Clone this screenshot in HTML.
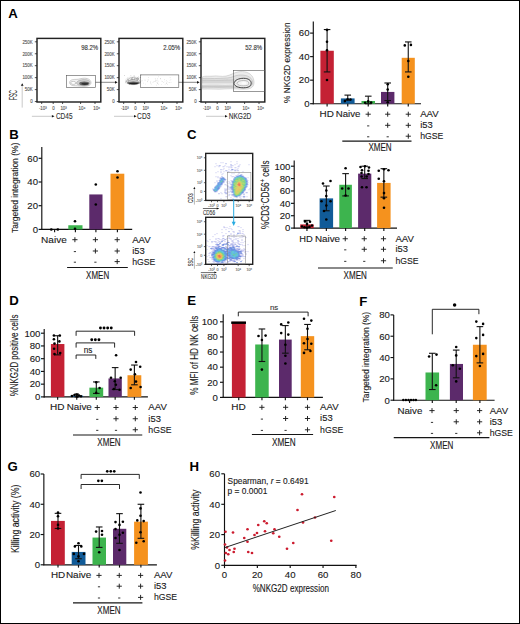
<!DOCTYPE html>
<html><head><meta charset="utf-8"><style>
html,body{margin:0;padding:0;background:#fff;}
#fig{position:relative;width:520px;height:624px;overflow:hidden;background:#fff;}
#fig svg{position:absolute;left:0;top:0;}
#frame{position:absolute;left:0;top:0;width:518px;height:622px;border:1px solid #000;}
text{font-family:"Liberation Sans", sans-serif;}
</style></head><body>
<div id="fig">
<svg width="520" height="624" viewBox="0 0 520 624" font-family='"Liberation Sans", sans-serif'>
<text x="8.20" y="18.40" font-size="13.2" font-weight="bold" fill="#000">A</text>
<rect x="37.00" y="38.40" width="63.80" height="63.60" fill="#fff" stroke="#222" stroke-width="1.45"/>
<line x1="34.80" y1="41.80" x2="37.00" y2="41.80" stroke="#222" stroke-width="0.8"/>
<text transform="translate(32.70 43.55) scale(0.9000 1)" text-anchor="end" font-size="4.9" fill="#555" stroke="#555" stroke-width="0.12">250K</text>
<line x1="34.80" y1="53.75" x2="37.00" y2="53.75" stroke="#222" stroke-width="0.8"/>
<text transform="translate(32.70 55.50) scale(0.9000 1)" text-anchor="end" font-size="4.9" fill="#555" stroke="#555" stroke-width="0.12">200K</text>
<line x1="34.80" y1="65.70" x2="37.00" y2="65.70" stroke="#222" stroke-width="0.8"/>
<text transform="translate(32.70 67.45) scale(0.9000 1)" text-anchor="end" font-size="4.9" fill="#555" stroke="#555" stroke-width="0.12">150K</text>
<line x1="34.80" y1="77.65" x2="37.00" y2="77.65" stroke="#222" stroke-width="0.8"/>
<text transform="translate(32.70 79.40) scale(0.9000 1)" text-anchor="end" font-size="4.9" fill="#555" stroke="#555" stroke-width="0.12">100K</text>
<line x1="34.80" y1="89.60" x2="37.00" y2="89.60" stroke="#222" stroke-width="0.8"/>
<text transform="translate(32.70 91.35) scale(0.9000 1)" text-anchor="end" font-size="4.9" fill="#555" stroke="#555" stroke-width="0.12">50K</text>
<line x1="34.80" y1="101.55" x2="37.00" y2="101.55" stroke="#222" stroke-width="0.8"/>
<text transform="translate(32.70 103.30) scale(0.9000 1)" text-anchor="end" font-size="4.9" fill="#555" stroke="#555" stroke-width="0.12">0</text>
<line x1="41.70" y1="102.00" x2="41.70" y2="104.00" stroke="#222" stroke-width="0.8"/>
<text transform="translate(42.80 109.90) scale(0.9000 1)" text-anchor="middle" font-size="4.9" fill="#555" stroke="#555" stroke-width="0.12">-10³</text>
<line x1="53.20" y1="102.00" x2="53.20" y2="104.00" stroke="#222" stroke-width="0.8"/>
<text transform="translate(53.40 109.90) scale(0.9000 1)" text-anchor="middle" font-size="4.9" fill="#555" stroke="#555" stroke-width="0.12">0</text>
<line x1="62.60" y1="102.00" x2="62.60" y2="104.00" stroke="#222" stroke-width="0.8"/>
<text transform="translate(63.60 109.90) scale(0.9000 1)" text-anchor="middle" font-size="4.9" fill="#555" stroke="#555" stroke-width="0.12">10³</text>
<line x1="80.60" y1="102.00" x2="80.60" y2="104.00" stroke="#222" stroke-width="0.8"/>
<text transform="translate(82.00 109.90) scale(0.9000 1)" text-anchor="middle" font-size="4.9" fill="#555" stroke="#555" stroke-width="0.12">10⁴</text>
<line x1="95.00" y1="102.00" x2="95.00" y2="104.00" stroke="#222" stroke-width="0.8"/>
<text transform="translate(96.60 109.90) scale(0.9000 1)" text-anchor="middle" font-size="4.9" fill="#555" stroke="#555" stroke-width="0.12">10⁵</text>
<text transform="translate(98.20 50.10) scale(0.8102 1)" text-anchor="end" font-size="7.4" fill="#333" stroke="#333" stroke-width="0.12">98.2%</text>
<rect x="119.00" y="38.40" width="63.80" height="63.60" fill="#fff" stroke="#222" stroke-width="1.45"/>
<line x1="116.80" y1="41.80" x2="119.00" y2="41.80" stroke="#222" stroke-width="0.8"/>
<text transform="translate(114.70 43.55) scale(0.9000 1)" text-anchor="end" font-size="4.9" fill="#555" stroke="#555" stroke-width="0.12">250K</text>
<line x1="116.80" y1="53.75" x2="119.00" y2="53.75" stroke="#222" stroke-width="0.8"/>
<text transform="translate(114.70 55.50) scale(0.9000 1)" text-anchor="end" font-size="4.9" fill="#555" stroke="#555" stroke-width="0.12">200K</text>
<line x1="116.80" y1="65.70" x2="119.00" y2="65.70" stroke="#222" stroke-width="0.8"/>
<text transform="translate(114.70 67.45) scale(0.9000 1)" text-anchor="end" font-size="4.9" fill="#555" stroke="#555" stroke-width="0.12">150K</text>
<line x1="116.80" y1="77.65" x2="119.00" y2="77.65" stroke="#222" stroke-width="0.8"/>
<text transform="translate(114.70 79.40) scale(0.9000 1)" text-anchor="end" font-size="4.9" fill="#555" stroke="#555" stroke-width="0.12">100K</text>
<line x1="116.80" y1="89.60" x2="119.00" y2="89.60" stroke="#222" stroke-width="0.8"/>
<text transform="translate(114.70 91.35) scale(0.9000 1)" text-anchor="end" font-size="4.9" fill="#555" stroke="#555" stroke-width="0.12">50K</text>
<line x1="116.80" y1="101.55" x2="119.00" y2="101.55" stroke="#222" stroke-width="0.8"/>
<text transform="translate(114.70 103.30) scale(0.9000 1)" text-anchor="end" font-size="4.9" fill="#555" stroke="#555" stroke-width="0.12">0</text>
<line x1="123.70" y1="102.00" x2="123.70" y2="104.00" stroke="#222" stroke-width="0.8"/>
<text transform="translate(124.80 109.90) scale(0.9000 1)" text-anchor="middle" font-size="4.9" fill="#555" stroke="#555" stroke-width="0.12">-10³</text>
<line x1="135.20" y1="102.00" x2="135.20" y2="104.00" stroke="#222" stroke-width="0.8"/>
<text transform="translate(135.40 109.90) scale(0.9000 1)" text-anchor="middle" font-size="4.9" fill="#555" stroke="#555" stroke-width="0.12">0</text>
<line x1="144.60" y1="102.00" x2="144.60" y2="104.00" stroke="#222" stroke-width="0.8"/>
<text transform="translate(145.60 109.90) scale(0.9000 1)" text-anchor="middle" font-size="4.9" fill="#555" stroke="#555" stroke-width="0.12">10³</text>
<line x1="162.60" y1="102.00" x2="162.60" y2="104.00" stroke="#222" stroke-width="0.8"/>
<text transform="translate(164.00 109.90) scale(0.9000 1)" text-anchor="middle" font-size="4.9" fill="#555" stroke="#555" stroke-width="0.12">10⁴</text>
<line x1="177.00" y1="102.00" x2="177.00" y2="104.00" stroke="#222" stroke-width="0.8"/>
<text transform="translate(178.60 109.90) scale(0.9000 1)" text-anchor="middle" font-size="4.9" fill="#555" stroke="#555" stroke-width="0.12">10⁵</text>
<text transform="translate(180.20 50.10) scale(0.8102 1)" text-anchor="end" font-size="7.4" fill="#333" stroke="#333" stroke-width="0.12">2.05%</text>
<rect x="201.00" y="38.40" width="63.80" height="63.60" fill="#fff" stroke="#222" stroke-width="1.45"/>
<line x1="198.80" y1="41.80" x2="201.00" y2="41.80" stroke="#222" stroke-width="0.8"/>
<text transform="translate(196.70 43.55) scale(0.9000 1)" text-anchor="end" font-size="4.9" fill="#555" stroke="#555" stroke-width="0.12">250K</text>
<line x1="198.80" y1="53.75" x2="201.00" y2="53.75" stroke="#222" stroke-width="0.8"/>
<text transform="translate(196.70 55.50) scale(0.9000 1)" text-anchor="end" font-size="4.9" fill="#555" stroke="#555" stroke-width="0.12">200K</text>
<line x1="198.80" y1="65.70" x2="201.00" y2="65.70" stroke="#222" stroke-width="0.8"/>
<text transform="translate(196.70 67.45) scale(0.9000 1)" text-anchor="end" font-size="4.9" fill="#555" stroke="#555" stroke-width="0.12">150K</text>
<line x1="198.80" y1="77.65" x2="201.00" y2="77.65" stroke="#222" stroke-width="0.8"/>
<text transform="translate(196.70 79.40) scale(0.9000 1)" text-anchor="end" font-size="4.9" fill="#555" stroke="#555" stroke-width="0.12">100K</text>
<line x1="198.80" y1="89.60" x2="201.00" y2="89.60" stroke="#222" stroke-width="0.8"/>
<text transform="translate(196.70 91.35) scale(0.9000 1)" text-anchor="end" font-size="4.9" fill="#555" stroke="#555" stroke-width="0.12">50K</text>
<line x1="198.80" y1="101.55" x2="201.00" y2="101.55" stroke="#222" stroke-width="0.8"/>
<text transform="translate(196.70 103.30) scale(0.9000 1)" text-anchor="end" font-size="4.9" fill="#555" stroke="#555" stroke-width="0.12">0</text>
<line x1="205.70" y1="102.00" x2="205.70" y2="104.00" stroke="#222" stroke-width="0.8"/>
<text transform="translate(206.80 109.90) scale(0.9000 1)" text-anchor="middle" font-size="4.9" fill="#555" stroke="#555" stroke-width="0.12">-10³</text>
<line x1="217.20" y1="102.00" x2="217.20" y2="104.00" stroke="#222" stroke-width="0.8"/>
<text transform="translate(217.40 109.90) scale(0.9000 1)" text-anchor="middle" font-size="4.9" fill="#555" stroke="#555" stroke-width="0.12">0</text>
<line x1="226.60" y1="102.00" x2="226.60" y2="104.00" stroke="#222" stroke-width="0.8"/>
<text transform="translate(227.60 109.90) scale(0.9000 1)" text-anchor="middle" font-size="4.9" fill="#555" stroke="#555" stroke-width="0.12">10³</text>
<line x1="244.60" y1="102.00" x2="244.60" y2="104.00" stroke="#222" stroke-width="0.8"/>
<text transform="translate(246.00 109.90) scale(0.9000 1)" text-anchor="middle" font-size="4.9" fill="#555" stroke="#555" stroke-width="0.12">10⁴</text>
<line x1="259.00" y1="102.00" x2="259.00" y2="104.00" stroke="#222" stroke-width="0.8"/>
<text transform="translate(260.60 109.90) scale(0.9000 1)" text-anchor="middle" font-size="4.9" fill="#555" stroke="#555" stroke-width="0.12">10⁵</text>
<text transform="translate(262.20 50.10) scale(0.8102 1)" text-anchor="end" font-size="7.4" fill="#333" stroke="#333" stroke-width="0.12">52.8%</text>
<g>
<path d="M69.6,82.6 C69.6,80.2 72.5,79.2 76,79.4 C79,79.5 81,78.2 84.5,78.2 C88.5,78.2 91,80.4 91,82.6 C91,85 88.5,86.3 84,86.3 C80,86.3 78,85.8 75.5,85.8 C72,85.8 69.6,84.8 69.6,82.6 Z" fill="#f2f2f2" stroke="#a0a0a0" stroke-width="0.5"/>
<path d="M76.5,83 C77,80.8 80.5,79.6 84.5,79.6 C88,79.6 90,81 90,82.8 C90,84.6 88,85.6 84.5,85.6 C80.5,85.6 76.8,85 76.5,83 Z" fill="#cfcfcf" stroke="#8a8a8a" stroke-width="0.4"/>
<ellipse cx="73.3" cy="82.9" rx="2.6" ry="1.5" fill="#fff" stroke="#999" stroke-width="0.5"/>
<g filter="url(#bl2)"><ellipse cx="84.2" cy="83.5" rx="5.0" ry="1.9" fill="#6a6a6a"/>
<ellipse cx="84.8" cy="83.8" rx="3.4" ry="1.1" fill="#333"/></g>
</g>
<ellipse cx="133" cy="80.8" rx="8.2" ry="4.6" fill="#f3f3f3"/>
<circle cx="133.4" cy="83.4" r="0.45" fill="#aaa"/>
<circle cx="137.1" cy="79.2" r="0.45" fill="#777"/>
<circle cx="133.6" cy="80.6" r="0.45" fill="#bbb"/>
<circle cx="132.8" cy="82.2" r="0.45" fill="#bbb"/>
<circle cx="127.9" cy="79.8" r="0.45" fill="#bbb"/>
<circle cx="131.5" cy="79.5" r="0.45" fill="#999"/>
<circle cx="136.5" cy="78.4" r="0.45" fill="#888"/>
<circle cx="132.3" cy="79.8" r="0.45" fill="#777"/>
<circle cx="140.0" cy="81.6" r="0.45" fill="#aaa"/>
<circle cx="126.4" cy="81.1" r="0.45" fill="#bbb"/>
<circle cx="130.9" cy="75.4" r="0.45" fill="#bbb"/>
<circle cx="132.2" cy="77.5" r="0.45" fill="#999"/>
<circle cx="134.4" cy="79.8" r="0.45" fill="#999"/>
<circle cx="129.8" cy="80.6" r="0.45" fill="#bbb"/>
<circle cx="134.5" cy="76.1" r="0.45" fill="#bbb"/>
<circle cx="128.9" cy="80.4" r="0.45" fill="#aaa"/>
<circle cx="128.8" cy="80.0" r="0.45" fill="#999"/>
<circle cx="138.2" cy="78.5" r="0.45" fill="#888"/>
<circle cx="141.0" cy="75.0" r="0.45" fill="#999"/>
<circle cx="131.8" cy="78.6" r="0.45" fill="#777"/>
<circle cx="137.5" cy="78.8" r="0.45" fill="#999"/>
<circle cx="124.6" cy="75.4" r="0.45" fill="#aaa"/>
<circle cx="132.7" cy="81.3" r="0.45" fill="#bbb"/>
<circle cx="139.4" cy="82.7" r="0.45" fill="#bbb"/>
<circle cx="133.7" cy="80.2" r="0.45" fill="#bbb"/>
<circle cx="134.0" cy="75.9" r="0.45" fill="#888"/>
<circle cx="127.4" cy="78.1" r="0.45" fill="#bbb"/>
<circle cx="132.3" cy="78.5" r="0.45" fill="#aaa"/>
<circle cx="132.4" cy="81.4" r="0.45" fill="#777"/>
<circle cx="136.4" cy="80.2" r="0.45" fill="#aaa"/>
<circle cx="133.7" cy="81.1" r="0.45" fill="#aaa"/>
<circle cx="136.3" cy="79.1" r="0.45" fill="#bbb"/>
<circle cx="135.8" cy="78.8" r="0.45" fill="#777"/>
<circle cx="132.2" cy="79.5" r="0.45" fill="#777"/>
<circle cx="132.2" cy="83.7" r="0.45" fill="#999"/>
<circle cx="137.2" cy="79.5" r="0.45" fill="#aaa"/>
<circle cx="127.8" cy="80.1" r="0.45" fill="#888"/>
<circle cx="131.4" cy="82.6" r="0.45" fill="#777"/>
<circle cx="132.0" cy="79.9" r="0.45" fill="#aaa"/>
<circle cx="126.8" cy="81.2" r="0.45" fill="#aaa"/>
<circle cx="130.4" cy="79.3" r="0.45" fill="#bbb"/>
<circle cx="134.5" cy="80.6" r="0.45" fill="#888"/>
<circle cx="136.1" cy="80.1" r="0.45" fill="#bbb"/>
<circle cx="131.3" cy="83.5" r="0.45" fill="#999"/>
<circle cx="130.6" cy="82.0" r="0.45" fill="#aaa"/>
<circle cx="134.8" cy="79.0" r="0.45" fill="#bbb"/>
<circle cx="139.1" cy="83.1" r="0.45" fill="#777"/>
<circle cx="132.1" cy="79.4" r="0.45" fill="#777"/>
<circle cx="134.3" cy="84.6" r="0.45" fill="#999"/>
<circle cx="130.0" cy="83.6" r="0.45" fill="#888"/>
<circle cx="136.0" cy="81.7" r="0.45" fill="#aaa"/>
<circle cx="131.6" cy="79.0" r="0.45" fill="#999"/>
<circle cx="139.1" cy="82.3" r="0.45" fill="#999"/>
<circle cx="136.4" cy="78.8" r="0.45" fill="#999"/>
<circle cx="133.3" cy="79.9" r="0.45" fill="#999"/>
<circle cx="129.8" cy="84.5" r="0.45" fill="#777"/>
<circle cx="134.4" cy="82.2" r="0.45" fill="#888"/>
<circle cx="134.3" cy="78.5" r="0.45" fill="#999"/>
<circle cx="128.5" cy="81.8" r="0.45" fill="#aaa"/>
<circle cx="127.2" cy="81.2" r="0.45" fill="#aaa"/>
<circle cx="129.2" cy="81.6" r="0.45" fill="#bbb"/>
<circle cx="133.2" cy="80.7" r="0.45" fill="#777"/>
<circle cx="137.5" cy="80.3" r="0.45" fill="#999"/>
<circle cx="137.5" cy="81.0" r="0.45" fill="#777"/>
<circle cx="138.1" cy="79.8" r="0.45" fill="#999"/>
<circle cx="138.4" cy="77.0" r="0.45" fill="#aaa"/>
<circle cx="135.3" cy="81.7" r="0.45" fill="#888"/>
<circle cx="138.3" cy="78.5" r="0.45" fill="#999"/>
<circle cx="140.2" cy="77.5" r="0.45" fill="#777"/>
<circle cx="137.6" cy="81.3" r="0.45" fill="#888"/>
<circle cx="134.7" cy="82.2" r="0.45" fill="#888"/>
<circle cx="128.7" cy="80.1" r="0.45" fill="#777"/>
<circle cx="134.6" cy="81.3" r="0.45" fill="#777"/>
<circle cx="125.7" cy="81.1" r="0.45" fill="#aaa"/>
<circle cx="133.4" cy="81.7" r="0.45" fill="#888"/>
<circle cx="136.5" cy="84.1" r="0.45" fill="#999"/>
<circle cx="133.2" cy="80.2" r="0.45" fill="#777"/>
<circle cx="133.9" cy="79.9" r="0.45" fill="#aaa"/>
<circle cx="133.1" cy="83.7" r="0.45" fill="#777"/>
<circle cx="128.8" cy="81.7" r="0.45" fill="#888"/>
<circle cx="137.5" cy="77.4" r="0.45" fill="#888"/>
<circle cx="134.1" cy="81.1" r="0.45" fill="#888"/>
<circle cx="134.1" cy="79.7" r="0.45" fill="#777"/>
<circle cx="130.5" cy="80.6" r="0.45" fill="#888"/>
<circle cx="129.4" cy="83.2" r="0.45" fill="#777"/>
<circle cx="131.9" cy="82.2" r="0.45" fill="#aaa"/>
<path d="M125.5,83.2 C126.5,79.6 129.5,77.4 133.2,77.4 C137,77.4 139.8,79.6 140.8,83.2" fill="none" stroke="#999" stroke-width="0.5"/>
<path d="M127,83.2 C128,80.8 130.5,79.6 133.3,79.6 C136.2,79.6 138.5,80.8 139.5,83.2" fill="#cfcfcf" stroke="#888" stroke-width="0.45"/>
<g filter="url(#bl2)"><ellipse cx="133.3" cy="83.1" rx="6.4" ry="1.6" fill="#666"/>
<ellipse cx="133.5" cy="83.5" rx="4.6" ry="0.8" fill="#222"/></g>
<circle cx="153.9" cy="81.6" r="0.35" fill="#c4c4c4"/>
<circle cx="162.7" cy="81.6" r="0.35" fill="#c4c4c4"/>
<circle cx="164.9" cy="81.0" r="0.35" fill="#c4c4c4"/>
<circle cx="154.8" cy="81.3" r="0.35" fill="#c4c4c4"/>
<circle cx="160.5" cy="78.7" r="0.35" fill="#c4c4c4"/>
<circle cx="142.3" cy="80.8" r="0.35" fill="#c4c4c4"/>
<circle cx="167.6" cy="84.2" r="0.35" fill="#c4c4c4"/>
<circle cx="163.8" cy="82.4" r="0.35" fill="#c4c4c4"/>
<circle cx="150.4" cy="83.5" r="0.35" fill="#c4c4c4"/>
<circle cx="141.5" cy="80.9" r="0.35" fill="#c4c4c4"/>
<circle cx="147.6" cy="81.2" r="0.35" fill="#c4c4c4"/>
<circle cx="165.1" cy="84.1" r="0.35" fill="#c4c4c4"/>
<circle cx="147.7" cy="81.8" r="0.35" fill="#c4c4c4"/>
<circle cx="150.8" cy="81.8" r="0.35" fill="#c4c4c4"/>
<circle cx="170.1" cy="77.7" r="0.35" fill="#c4c4c4"/>
<circle cx="144.6" cy="80.0" r="0.35" fill="#c4c4c4"/>
<circle cx="161.7" cy="84.5" r="0.35" fill="#c4c4c4"/>
<circle cx="166.5" cy="80.3" r="0.35" fill="#c4c4c4"/>
<circle cx="156.9" cy="80.8" r="0.35" fill="#c4c4c4"/>
<circle cx="150.6" cy="82.2" r="0.35" fill="#c4c4c4"/>
<circle cx="157.0" cy="82.7" r="0.35" fill="#c4c4c4"/>
<circle cx="155.2" cy="78.6" r="0.35" fill="#c4c4c4"/>
<circle cx="148.1" cy="79.6" r="0.35" fill="#c4c4c4"/>
<circle cx="157.9" cy="83.1" r="0.35" fill="#c4c4c4"/>
<circle cx="160.8" cy="78.9" r="0.35" fill="#c4c4c4"/>
<circle cx="151.2" cy="84.1" r="0.35" fill="#c4c4c4"/>
<circle cx="166.6" cy="82.5" r="0.35" fill="#c4c4c4"/>
<circle cx="155.5" cy="81.7" r="0.35" fill="#c4c4c4"/>
<circle cx="161.9" cy="81.1" r="0.35" fill="#c4c4c4"/>
<circle cx="143.7" cy="83.1" r="0.35" fill="#c4c4c4"/>
<circle cx="170.9" cy="79.2" r="0.35" fill="#c4c4c4"/>
<circle cx="148.1" cy="80.5" r="0.35" fill="#c4c4c4"/>
<circle cx="157.6" cy="83.6" r="0.35" fill="#c4c4c4"/>
<circle cx="157.5" cy="83.0" r="0.35" fill="#c4c4c4"/>
<circle cx="167.1" cy="81.8" r="0.35" fill="#c4c4c4"/>
<circle cx="171.0" cy="82.2" r="0.35" fill="#c4c4c4"/>
<circle cx="160.4" cy="78.5" r="0.35" fill="#c4c4c4"/>
<circle cx="169.3" cy="82.4" r="0.35" fill="#c4c4c4"/>
<circle cx="148.6" cy="77.7" r="0.35" fill="#c4c4c4"/>
<circle cx="157.7" cy="78.7" r="0.35" fill="#c4c4c4"/>
<circle cx="170.0" cy="80.5" r="0.35" fill="#c4c4c4"/>
<circle cx="168.9" cy="82.5" r="0.35" fill="#c4c4c4"/>
<circle cx="166.3" cy="83.5" r="0.35" fill="#c4c4c4"/>
<circle cx="158.1" cy="81.1" r="0.35" fill="#c4c4c4"/>
<circle cx="158.4" cy="84.2" r="0.35" fill="#c4c4c4"/>
<circle cx="145.7" cy="80.1" r="0.35" fill="#c4c4c4"/>
<circle cx="153.0" cy="82.4" r="0.35" fill="#c4c4c4"/>
<circle cx="155.9" cy="80.7" r="0.35" fill="#c4c4c4"/>
<circle cx="155.5" cy="79.9" r="0.35" fill="#c4c4c4"/>
<circle cx="158.6" cy="76.8" r="0.35" fill="#c4c4c4"/>
<circle cx="166.7" cy="83.7" r="0.35" fill="#c4c4c4"/>
<circle cx="145.4" cy="84.0" r="0.35" fill="#c4c4c4"/>
<circle cx="156.5" cy="85.1" r="0.35" fill="#c4c4c4"/>
<circle cx="157.1" cy="79.9" r="0.35" fill="#c4c4c4"/>
<circle cx="164.4" cy="79.6" r="0.35" fill="#c4c4c4"/>
<path d="M202.2,77 C205,75.6 209,76.6 213,76.1 C217,75.4 221,77 226,76.1 C231,75.2 234,72.2 240,71.6 C247,71.1 252,74 253.5,79 C255,84 253.5,88.6 247,89.1 C240,89.6 232,88.2 225,88.9 C217,89.6 209,88.6 202.2,89.1 Z" fill="#ececec" stroke="#b8b8b8" stroke-width="0.5"/>
<path d="M202.2,78.6 C207,77.8 213,79 219,78.4 C225,77.9 230,78.4 234,76.3 C239,74.3 247,74.4 251,78.3 C254,81.8 253.2,87 247,87.6 C240,88.1 232,87.1 225,87.4 C217,87.7 209,87.1 202.2,87.5 Z" fill="#e0e0e0" stroke="#aaa" stroke-width="0.45"/>
<path d="M202.2,80.2 C208,79.8 214,80.8 220,80.3 C226,79.8 230,80.4 234,79.6 L234,86.6 C228,86.4 220,86.5 212,86.5 C208,86.5 204,86.4 202.2,86.5 Z" fill="#d6d6d6" stroke="#a5a5a5" stroke-width="0.35"/>
<path d="M202.2,84.1 C212,83.7 222,84.4 233,84.0" fill="none" stroke="#f4f4f4" stroke-width="1.1"/>
<path d="M234,83.5 C234.5,80 239,78.3 243.5,78.3 C248.5,78.3 251.2,80.5 251.2,83.2 C251.2,86 248.5,87.8 243.5,87.8 C239,87.8 234.5,86.5 234,83.5 Z" fill="#ebebeb" stroke="#3a3a3a" stroke-width="0.95"/>
<path d="M237,83.4 C237.6,81.3 240.5,80.5 243.6,80.5 C247,80.5 248.8,81.7 248.8,83.3 C248.8,85 247,85.8 243.6,85.8 C240.5,85.8 237.6,85.3 237,83.4 Z" fill="#f2f2f2" stroke="#8a8a8a" stroke-width="0.5"/>
<ellipse cx="243.8" cy="83.2" rx="2.4" ry="1.2" fill="#fcfcfc"/>
<rect x="66.30" y="75.50" width="29.30" height="12.00" fill="none" stroke="#555" stroke-width="0.6"/>
<rect x="140.60" y="74.90" width="38.20" height="12.70" fill="none" stroke="#555" stroke-width="0.6"/>
<rect x="233.60" y="70.30" width="31.20" height="21.10" fill="none" stroke="#555" stroke-width="0.6"/>
<line x1="95.60" y1="82.30" x2="115.30" y2="82.30" stroke="#111" stroke-width="0.5"/>
<polygon points="117.60,82.30 115.00,80.90 115.00,83.70" fill="#111"/>
<line x1="178.80" y1="82.30" x2="197.30" y2="82.30" stroke="#111" stroke-width="0.5"/>
<polygon points="199.60,82.30 197.00,80.90 197.00,83.70" fill="#111"/>
<text transform="translate(17.10 95.10) rotate(-90) scale(0.5049 1)" text-anchor="middle" font-size="10.3" fill="#333" stroke="#333" stroke-width="0.12">FSC</text>
<line x1="22.20" y1="107.60" x2="22.20" y2="85.40" stroke="#bbb" stroke-width="0.8"/>
<polygon points="22.20,83.20 20.85,85.70 23.55,85.70" fill="#111"/>
<line x1="31.90" y1="116.30" x2="52.10" y2="116.30" stroke="#bbb" stroke-width="0.8"/>
<polygon points="54.50,116.3 51.90,115.05 51.90,117.55" fill="#111"/>
<text transform="translate(55.90 118.75) scale(0.7730 1)" font-size="8.4" fill="#333" stroke="#333" stroke-width="0.12">CD45</text>
<line x1="114.00" y1="116.30" x2="134.20" y2="116.30" stroke="#bbb" stroke-width="0.8"/>
<polygon points="136.60,116.3 134.00,115.05 134.00,117.55" fill="#111"/>
<text transform="translate(137.10 118.75) scale(0.7915 1)" font-size="8.4" fill="#333" stroke="#333" stroke-width="0.12">CD3</text>
<line x1="206.00" y1="116.30" x2="225.20" y2="116.30" stroke="#bbb" stroke-width="0.8"/>
<polygon points="227.60,116.3 225.00,115.05 225.00,117.55" fill="#111"/>
<text transform="translate(228.70 118.75) scale(0.7844 1)" font-size="8.4" fill="#333" stroke="#333" stroke-width="0.12">NKG2D</text>
<line x1="313.30" y1="21.50" x2="313.30" y2="104.20" stroke="#111" stroke-width="1.15"/>
<line x1="312.80" y1="103.70" x2="421.00" y2="103.70" stroke="#111" stroke-width="1.15"/>
<line x1="310.10" y1="103.70" x2="313.30" y2="103.70" stroke="#111" stroke-width="1.15"/>
<text x="309.50" y="107.00" font-size="9.6" text-anchor="end" fill="#1a1a1a" stroke="#1a1a1a" stroke-width="0.12">0</text>
<line x1="310.10" y1="80.17" x2="313.30" y2="80.17" stroke="#111" stroke-width="1.15"/>
<text x="309.50" y="83.47" font-size="9.6" text-anchor="end" fill="#1a1a1a" stroke="#1a1a1a" stroke-width="0.12">20</text>
<line x1="310.10" y1="56.63" x2="313.30" y2="56.63" stroke="#111" stroke-width="1.15"/>
<text x="309.50" y="59.94" font-size="9.6" text-anchor="end" fill="#1a1a1a" stroke="#1a1a1a" stroke-width="0.12">40</text>
<line x1="310.10" y1="33.10" x2="313.30" y2="33.10" stroke="#111" stroke-width="1.15"/>
<text x="309.50" y="36.40" font-size="9.6" text-anchor="end" fill="#1a1a1a" stroke="#1a1a1a" stroke-width="0.12">60</text>
<rect x="320.40" y="50.75" width="13.40" height="52.95" fill="#C42134"/>
<line x1="327.10" y1="103.70" x2="327.10" y2="106.50" stroke="#111" stroke-width="1.15"/>
<rect x="340.90" y="98.41" width="13.70" height="5.30" fill="#115B98"/>
<line x1="347.75" y1="103.70" x2="347.75" y2="106.50" stroke="#111" stroke-width="1.15"/>
<rect x="361.50" y="100.99" width="13.50" height="2.71" fill="#3DB44E"/>
<line x1="368.25" y1="103.70" x2="368.25" y2="106.50" stroke="#111" stroke-width="1.15"/>
<rect x="381.00" y="91.93" width="13.40" height="11.77" fill="#5C2A6B"/>
<line x1="387.70" y1="103.70" x2="387.70" y2="106.50" stroke="#111" stroke-width="1.15"/>
<rect x="401.70" y="57.81" width="13.10" height="45.89" fill="#F5921E"/>
<line x1="408.25" y1="103.70" x2="408.25" y2="106.50" stroke="#111" stroke-width="1.15"/>
<line x1="327.10" y1="29.57" x2="327.10" y2="71.93" stroke="#111" stroke-width="1.1"/>
<line x1="323.80" y1="29.57" x2="330.40" y2="29.57" stroke="#111" stroke-width="1.1"/>
<line x1="323.80" y1="71.93" x2="330.40" y2="71.93" stroke="#111" stroke-width="1.1"/>
<circle cx="327.00" cy="29.90" r="1.3" fill="#000"/>
<circle cx="327.00" cy="41.70" r="1.3" fill="#000"/>
<circle cx="327.00" cy="50.20" r="1.3" fill="#000"/>
<circle cx="327.00" cy="80.00" r="1.3" fill="#000"/>
<line x1="347.75" y1="95.11" x2="347.75" y2="100.17" stroke="#111" stroke-width="1.1"/>
<line x1="344.45" y1="95.11" x2="351.05" y2="95.11" stroke="#111" stroke-width="1.1"/>
<line x1="344.45" y1="100.17" x2="351.05" y2="100.17" stroke="#111" stroke-width="1.1"/>
<circle cx="344.90" cy="101.10" r="1.3" fill="#000"/>
<circle cx="347.60" cy="99.30" r="1.3" fill="#000"/>
<circle cx="350.50" cy="99.50" r="1.3" fill="#000"/>
<line x1="368.25" y1="96.17" x2="368.25" y2="103.70" stroke="#111" stroke-width="1.1"/>
<line x1="364.95" y1="96.17" x2="371.55" y2="96.17" stroke="#111" stroke-width="1.1"/>
<line x1="364.95" y1="103.70" x2="371.55" y2="103.70" stroke="#111" stroke-width="1.1"/>
<circle cx="365.10" cy="102.80" r="1.3" fill="#000"/>
<circle cx="368.20" cy="101.40" r="1.3" fill="#000"/>
<circle cx="371.10" cy="102.60" r="1.3" fill="#000"/>
<line x1="387.70" y1="82.99" x2="387.70" y2="100.52" stroke="#111" stroke-width="1.1"/>
<line x1="384.40" y1="82.99" x2="391.00" y2="82.99" stroke="#111" stroke-width="1.1"/>
<line x1="384.40" y1="100.52" x2="391.00" y2="100.52" stroke="#111" stroke-width="1.1"/>
<circle cx="387.70" cy="84.30" r="1.3" fill="#000"/>
<circle cx="387.70" cy="89.50" r="1.3" fill="#000"/>
<circle cx="387.70" cy="102.20" r="1.3" fill="#000"/>
<line x1="408.25" y1="41.93" x2="408.25" y2="71.93" stroke="#111" stroke-width="1.1"/>
<line x1="404.95" y1="41.93" x2="411.55" y2="41.93" stroke="#111" stroke-width="1.1"/>
<line x1="404.95" y1="71.93" x2="411.55" y2="71.93" stroke="#111" stroke-width="1.1"/>
<circle cx="404.80" cy="45.40" r="1.3" fill="#000"/>
<circle cx="410.90" cy="44.90" r="1.3" fill="#000"/>
<circle cx="408.30" cy="61.00" r="1.3" fill="#000"/>
<circle cx="408.30" cy="76.80" r="1.3" fill="#000"/>
<text transform="translate(290.40 62.70) rotate(-90) scale(0.8446 1)" text-anchor="middle" font-size="9.8" fill="#1a1a1a" stroke="#1a1a1a" stroke-width="0.12">% NKG2D expression</text>
<line x1="365.60" y1="114.20" x2="370.80" y2="114.20" stroke="#1e1e1e" stroke-width="0.95"/>
<line x1="368.20" y1="111.70" x2="368.20" y2="116.70" stroke="#1e1e1e" stroke-width="0.95"/>
<line x1="385.10" y1="114.20" x2="390.30" y2="114.20" stroke="#1e1e1e" stroke-width="0.95"/>
<line x1="387.70" y1="111.70" x2="387.70" y2="116.70" stroke="#1e1e1e" stroke-width="0.95"/>
<line x1="405.70" y1="114.20" x2="410.90" y2="114.20" stroke="#1e1e1e" stroke-width="0.95"/>
<line x1="408.30" y1="111.70" x2="408.30" y2="116.70" stroke="#1e1e1e" stroke-width="0.95"/>
<text transform="translate(420.20 117.10) scale(0.9951 1)" font-size="9.7" fill="#1a1a1a" stroke="#1a1a1a" stroke-width="0.12">AAV</text>
<line x1="367.10" y1="125.90" x2="369.30" y2="125.90" stroke="#333" stroke-width="1.0"/>
<line x1="385.10" y1="125.30" x2="390.30" y2="125.30" stroke="#1e1e1e" stroke-width="0.95"/>
<line x1="387.70" y1="122.80" x2="387.70" y2="127.80" stroke="#1e1e1e" stroke-width="0.95"/>
<line x1="405.70" y1="125.30" x2="410.90" y2="125.30" stroke="#1e1e1e" stroke-width="0.95"/>
<line x1="408.30" y1="122.80" x2="408.30" y2="127.80" stroke="#1e1e1e" stroke-width="0.95"/>
<text transform="translate(420.20 128.20) scale(0.9735 1)" font-size="9.7" fill="#1a1a1a" stroke="#1a1a1a" stroke-width="0.12">i53</text>
<line x1="367.10" y1="136.80" x2="369.30" y2="136.80" stroke="#333" stroke-width="1.0"/>
<line x1="386.60" y1="136.80" x2="388.80" y2="136.80" stroke="#333" stroke-width="1.0"/>
<line x1="405.70" y1="136.20" x2="410.90" y2="136.20" stroke="#1e1e1e" stroke-width="0.95"/>
<line x1="408.30" y1="133.70" x2="408.30" y2="138.70" stroke="#1e1e1e" stroke-width="0.95"/>
<text transform="translate(420.20 139.10) scale(0.8965 1)" font-size="9.7" fill="#1a1a1a" stroke="#1a1a1a" stroke-width="0.12">hGSE</text>
<text transform="translate(319.60 117.10) scale(1.0207 1)" font-size="9.7" fill="#1a1a1a" stroke="#1a1a1a" stroke-width="0.12">HD</text>
<text transform="translate(335.70 117.10) scale(0.9960 1)" font-size="9.7" fill="#1a1a1a" stroke="#1a1a1a" stroke-width="0.12">Naive</text>
<line x1="342.30" y1="141.20" x2="411.50" y2="141.20" stroke="#161616" stroke-width="1.2"/>
<text transform="translate(380.00 150.70) scale(0.8030 1)" text-anchor="middle" font-size="10" fill="#1a1a1a" stroke="#1a1a1a" stroke-width="0.12">XMEN</text>
<text x="9.20" y="139.00" font-size="13.2" font-weight="bold" fill="#000">B</text>
<line x1="41.80" y1="147.00" x2="41.80" y2="229.90" stroke="#111" stroke-width="1.15"/>
<line x1="41.30" y1="229.40" x2="132.20" y2="229.40" stroke="#111" stroke-width="1.15"/>
<line x1="38.60" y1="229.40" x2="41.80" y2="229.40" stroke="#111" stroke-width="1.15"/>
<text x="38.00" y="232.70" font-size="9.6" text-anchor="end" fill="#1a1a1a" stroke="#1a1a1a" stroke-width="0.12">0</text>
<line x1="38.60" y1="205.70" x2="41.80" y2="205.70" stroke="#111" stroke-width="1.15"/>
<text x="38.00" y="209.00" font-size="9.6" text-anchor="end" fill="#1a1a1a" stroke="#1a1a1a" stroke-width="0.12">20</text>
<line x1="38.60" y1="182.00" x2="41.80" y2="182.00" stroke="#111" stroke-width="1.15"/>
<text x="38.00" y="185.30" font-size="9.6" text-anchor="end" fill="#1a1a1a" stroke="#1a1a1a" stroke-width="0.12">40</text>
<line x1="38.60" y1="158.30" x2="41.80" y2="158.30" stroke="#111" stroke-width="1.15"/>
<text x="38.00" y="161.60" font-size="9.6" text-anchor="end" fill="#1a1a1a" stroke="#1a1a1a" stroke-width="0.12">60</text>
<rect x="68.30" y="225.25" width="14.20" height="4.15" fill="#3DB44E"/>
<line x1="75.40" y1="229.40" x2="75.40" y2="232.20" stroke="#111" stroke-width="1.15"/>
<rect x="89.30" y="194.44" width="13.20" height="34.96" fill="#5C2A6B"/>
<line x1="95.90" y1="229.40" x2="95.90" y2="232.20" stroke="#111" stroke-width="1.15"/>
<rect x="110.50" y="173.71" width="13.80" height="55.69" fill="#F5921E"/>
<line x1="117.40" y1="229.40" x2="117.40" y2="232.20" stroke="#111" stroke-width="1.15"/>
<circle cx="75.00" cy="221.30" r="1.3" fill="#000"/>
<circle cx="75.00" cy="228.80" r="1.3" fill="#000"/>
<circle cx="95.80" cy="184.50" r="1.3" fill="#000"/>
<circle cx="95.80" cy="204.50" r="1.3" fill="#000"/>
<circle cx="117.50" cy="171.30" r="1.3" fill="#000"/>
<circle cx="117.50" cy="177.50" r="1.3" fill="#000"/>
<circle cx="51.30" cy="229.50" r="1.35" fill="#000"/>
<circle cx="57.80" cy="229.50" r="1.35" fill="#000"/>
<line x1="54.60" y1="229.40" x2="54.60" y2="232.20" stroke="#111" stroke-width="1.15"/>
<text transform="translate(18.10 187.85) rotate(-90) scale(0.8654 1)" text-anchor="middle" font-size="9.8" fill="#1a1a1a" stroke="#1a1a1a" stroke-width="0.12">Targeted integration (%)</text>
<line x1="72.30" y1="239.70" x2="77.50" y2="239.70" stroke="#1e1e1e" stroke-width="0.95"/>
<line x1="74.90" y1="237.20" x2="74.90" y2="242.20" stroke="#1e1e1e" stroke-width="0.95"/>
<line x1="92.80" y1="239.70" x2="98.00" y2="239.70" stroke="#1e1e1e" stroke-width="0.95"/>
<line x1="95.40" y1="237.20" x2="95.40" y2="242.20" stroke="#1e1e1e" stroke-width="0.95"/>
<line x1="114.60" y1="239.70" x2="119.80" y2="239.70" stroke="#1e1e1e" stroke-width="0.95"/>
<line x1="117.20" y1="237.20" x2="117.20" y2="242.20" stroke="#1e1e1e" stroke-width="0.95"/>
<text transform="translate(132.20 242.60) scale(0.9951 1)" font-size="9.7" fill="#1a1a1a" stroke="#1a1a1a" stroke-width="0.12">AAV</text>
<line x1="73.80" y1="251.60" x2="76.00" y2="251.60" stroke="#333" stroke-width="1.0"/>
<line x1="92.80" y1="251.00" x2="98.00" y2="251.00" stroke="#1e1e1e" stroke-width="0.95"/>
<line x1="95.40" y1="248.50" x2="95.40" y2="253.50" stroke="#1e1e1e" stroke-width="0.95"/>
<line x1="114.60" y1="251.00" x2="119.80" y2="251.00" stroke="#1e1e1e" stroke-width="0.95"/>
<line x1="117.20" y1="248.50" x2="117.20" y2="253.50" stroke="#1e1e1e" stroke-width="0.95"/>
<text transform="translate(132.20 253.90) scale(0.9735 1)" font-size="9.7" fill="#1a1a1a" stroke="#1a1a1a" stroke-width="0.12">i53</text>
<line x1="73.80" y1="262.20" x2="76.00" y2="262.20" stroke="#333" stroke-width="1.0"/>
<line x1="94.30" y1="262.20" x2="96.50" y2="262.20" stroke="#333" stroke-width="1.0"/>
<line x1="114.60" y1="261.60" x2="119.80" y2="261.60" stroke="#1e1e1e" stroke-width="0.95"/>
<line x1="117.20" y1="259.10" x2="117.20" y2="264.10" stroke="#1e1e1e" stroke-width="0.95"/>
<text transform="translate(132.20 264.50) scale(0.8965 1)" font-size="9.7" fill="#1a1a1a" stroke="#1a1a1a" stroke-width="0.12">hGSE</text>
<text transform="translate(41.10 242.60) scale(1.0363 1)" font-size="9.7" fill="#1a1a1a" stroke="#1a1a1a" stroke-width="0.12">Naive</text>
<line x1="67.10" y1="267.50" x2="127.80" y2="267.50" stroke="#161616" stroke-width="1.2"/>
<text transform="translate(97.65 279.00) scale(0.7995 1)" text-anchor="middle" font-size="10" fill="#1a1a1a" stroke="#1a1a1a" stroke-width="0.12">XMEN</text>
<text x="187.00" y="138.90" font-size="13.2" font-weight="bold" fill="#000">C</text>
<defs><filter id="bl" x="-50%" y="-50%" width="200%" height="200%"><feGaussianBlur stdDeviation="1.1"/></filter><filter id="bl2" x="-50%" y="-50%" width="200%" height="200%"><feGaussianBlur stdDeviation="0.6"/></filter></defs>
<rect x="205.70" y="153.40" width="47.00" height="47.00" fill="#fff" stroke="#222" stroke-width="1.4"/>
<line x1="203.90" y1="157.80" x2="205.70" y2="157.80" stroke="#222" stroke-width="0.7"/>
<text transform="translate(202.30 159.30) scale(0.8500 1)" text-anchor="end" font-size="4.3" fill="#666" stroke="#666" stroke-width="0.12">10⁵</text>
<line x1="203.90" y1="170.30" x2="205.70" y2="170.30" stroke="#222" stroke-width="0.7"/>
<text transform="translate(202.30 171.80) scale(0.8500 1)" text-anchor="end" font-size="4.3" fill="#666" stroke="#666" stroke-width="0.12">10⁴</text>
<line x1="203.90" y1="182.70" x2="205.70" y2="182.70" stroke="#222" stroke-width="0.7"/>
<text transform="translate(202.30 184.20) scale(0.8500 1)" text-anchor="end" font-size="4.3" fill="#666" stroke="#666" stroke-width="0.12">10³</text>
<line x1="203.90" y1="191.40" x2="205.70" y2="191.40" stroke="#222" stroke-width="0.7"/>
<text transform="translate(202.30 192.90) scale(0.8500 1)" text-anchor="end" font-size="4.3" fill="#666" stroke="#666" stroke-width="0.12">0</text>
<line x1="203.90" y1="200.50" x2="205.70" y2="200.50" stroke="#222" stroke-width="0.7"/>
<text transform="translate(202.30 202.00) scale(0.8500 1)" text-anchor="end" font-size="4.3" fill="#666" stroke="#666" stroke-width="0.12">-10³</text>
<line x1="211.50" y1="200.40" x2="211.50" y2="202.20" stroke="#222" stroke-width="0.7"/>
<text transform="translate(211.50 206.60) scale(0.8500 1)" text-anchor="middle" font-size="4.3" fill="#666" stroke="#666" stroke-width="0.12">-10³</text>
<line x1="217.50" y1="200.40" x2="217.50" y2="202.20" stroke="#222" stroke-width="0.7"/>
<text transform="translate(217.50 206.60) scale(0.8500 1)" text-anchor="middle" font-size="4.3" fill="#666" stroke="#666" stroke-width="0.12">0</text>
<line x1="223.90" y1="200.40" x2="223.90" y2="202.20" stroke="#222" stroke-width="0.7"/>
<text transform="translate(223.90 206.60) scale(0.8500 1)" text-anchor="middle" font-size="4.3" fill="#666" stroke="#666" stroke-width="0.12">10³</text>
<line x1="238.20" y1="200.40" x2="238.20" y2="202.20" stroke="#222" stroke-width="0.7"/>
<text transform="translate(238.20 206.60) scale(0.8500 1)" text-anchor="middle" font-size="4.3" fill="#666" stroke="#666" stroke-width="0.12">10⁴</text>
<line x1="249.20" y1="200.40" x2="249.20" y2="202.20" stroke="#222" stroke-width="0.7"/>
<text transform="translate(249.20 206.60) scale(0.8500 1)" text-anchor="middle" font-size="4.3" fill="#666" stroke="#666" stroke-width="0.12">10⁵</text>
<rect x="230.5" y="161.2" width="1" height="1" fill="rgb(90, 96, 210)" fill-opacity="0.35"/>
<rect x="236.5" y="161.2" width="1" height="1" fill="rgb(90, 96, 210)" fill-opacity="0.35"/>
<rect x="220.5" y="162.2" width="1" height="1" fill="rgb(90, 96, 210)" fill-opacity="0.35"/>
<rect x="222.5" y="162.2" width="1" height="1" fill="rgb(90, 96, 210)" fill-opacity="0.35"/>
<rect x="215.5" y="163.2" width="1" height="1" fill="rgb(90, 96, 210)" fill-opacity="0.35"/>
<rect x="225.5" y="163.2" width="1" height="1" fill="rgb(65, 85, 206)" fill-opacity="0.6"/>
<rect x="236.5" y="163.2" width="1" height="1" fill="rgb(90, 96, 210)" fill-opacity="0.35"/>
<rect x="230.5" y="164.2" width="1" height="1" fill="rgb(65, 85, 206)" fill-opacity="0.6"/>
<rect x="234.5" y="164.2" width="1" height="1" fill="rgb(90, 96, 210)" fill-opacity="0.35"/>
<rect x="239.5" y="164.2" width="1" height="1" fill="rgb(90, 96, 210)" fill-opacity="0.35"/>
<rect x="248.5" y="164.2" width="1" height="1" fill="rgb(90, 96, 210)" fill-opacity="0.35"/>
<rect x="216.5" y="165.2" width="1" height="1" fill="rgb(90, 96, 210)" fill-opacity="0.35"/>
<rect x="218.5" y="165.2" width="1" height="1" fill="rgb(90, 96, 210)" fill-opacity="0.35"/>
<rect x="219.5" y="165.2" width="1" height="1" fill="rgb(65, 85, 206)" fill-opacity="0.6"/>
<rect x="224.5" y="165.2" width="1" height="1" fill="rgb(90, 96, 210)" fill-opacity="0.35"/>
<rect x="230.5" y="165.2" width="1" height="1" fill="rgb(90, 96, 210)" fill-opacity="0.35"/>
<rect x="231.5" y="165.2" width="1" height="1" fill="rgb(90, 96, 210)" fill-opacity="0.35"/>
<rect x="232.5" y="165.2" width="1" height="1" fill="rgb(90, 96, 210)" fill-opacity="0.35"/>
<rect x="238.5" y="165.2" width="1" height="1" fill="rgb(90, 96, 210)" fill-opacity="0.35"/>
<rect x="214.5" y="166.2" width="1" height="1" fill="rgb(90, 96, 210)" fill-opacity="0.35"/>
<rect x="218.5" y="166.2" width="1" height="1" fill="rgb(90, 96, 210)" fill-opacity="0.35"/>
<rect x="222.5" y="166.2" width="1" height="1" fill="rgb(90, 96, 210)" fill-opacity="0.35"/>
<rect x="223.5" y="166.2" width="1" height="1" fill="rgb(90, 96, 210)" fill-opacity="0.35"/>
<rect x="226.5" y="166.2" width="1" height="1" fill="rgb(90, 96, 210)" fill-opacity="0.35"/>
<rect x="228.5" y="166.2" width="1" height="1" fill="rgb(90, 96, 210)" fill-opacity="0.35"/>
<rect x="230.5" y="166.2" width="1" height="1" fill="rgb(90, 96, 210)" fill-opacity="0.35"/>
<rect x="237.5" y="166.2" width="1" height="1" fill="rgb(90, 96, 210)" fill-opacity="0.35"/>
<rect x="238.5" y="166.2" width="1" height="1" fill="rgb(90, 96, 210)" fill-opacity="0.35"/>
<rect x="228.5" y="167.2" width="1" height="1" fill="rgb(90, 96, 210)" fill-opacity="0.35"/>
<rect x="230.5" y="167.2" width="1" height="1" fill="rgb(90, 96, 210)" fill-opacity="0.35"/>
<rect x="231.5" y="167.2" width="1" height="1" fill="rgb(90, 96, 210)" fill-opacity="0.35"/>
<rect x="234.5" y="167.2" width="1" height="1" fill="rgb(90, 96, 210)" fill-opacity="0.35"/>
<rect x="235.5" y="167.2" width="1" height="1" fill="rgb(90, 96, 210)" fill-opacity="0.35"/>
<rect x="223.5" y="168.2" width="1" height="1" fill="rgb(90, 96, 210)" fill-opacity="0.35"/>
<rect x="237.5" y="168.2" width="1" height="1" fill="rgb(90, 96, 210)" fill-opacity="0.35"/>
<rect x="220.5" y="169.2" width="1" height="1" fill="rgb(65, 85, 206)" fill-opacity="0.6"/>
<rect x="222.5" y="169.2" width="1" height="1" fill="rgb(90, 96, 210)" fill-opacity="0.35"/>
<rect x="228.5" y="169.2" width="1" height="1" fill="rgb(90, 96, 210)" fill-opacity="0.35"/>
<rect x="231.5" y="169.2" width="1" height="1" fill="rgb(57, 94, 209)" fill-opacity="1.0"/>
<rect x="232.5" y="169.2" width="1" height="1" fill="rgb(65, 85, 206)" fill-opacity="0.6"/>
<rect x="234.5" y="169.2" width="1" height="1" fill="rgb(90, 96, 210)" fill-opacity="0.35"/>
<rect x="236.5" y="169.2" width="1" height="1" fill="rgb(90, 96, 210)" fill-opacity="0.35"/>
<rect x="225.5" y="170.2" width="1" height="1" fill="rgb(65, 85, 206)" fill-opacity="0.6"/>
<rect x="226.5" y="170.2" width="1" height="1" fill="rgb(90, 96, 210)" fill-opacity="0.35"/>
<rect x="230.5" y="170.2" width="1" height="1" fill="rgb(90, 96, 210)" fill-opacity="0.35"/>
<rect x="234.5" y="170.2" width="1" height="1" fill="rgb(65, 85, 206)" fill-opacity="0.6"/>
<rect x="235.5" y="170.2" width="1" height="1" fill="rgb(90, 96, 210)" fill-opacity="0.35"/>
<rect x="237.5" y="170.2" width="1" height="1" fill="rgb(65, 85, 206)" fill-opacity="0.6"/>
<rect x="217.5" y="171.2" width="1" height="1" fill="rgb(90, 96, 210)" fill-opacity="0.35"/>
<rect x="220.5" y="171.2" width="1" height="1" fill="rgb(90, 96, 210)" fill-opacity="0.35"/>
<rect x="223.5" y="171.2" width="1" height="1" fill="rgb(90, 96, 210)" fill-opacity="0.35"/>
<rect x="227.5" y="171.2" width="1" height="1" fill="rgb(90, 96, 210)" fill-opacity="0.35"/>
<rect x="228.5" y="171.2" width="1" height="1" fill="rgb(90, 96, 210)" fill-opacity="0.35"/>
<rect x="242.5" y="171.2" width="1" height="1" fill="rgb(90, 96, 210)" fill-opacity="0.35"/>
<rect x="215.5" y="172.2" width="1" height="1" fill="rgb(90, 96, 210)" fill-opacity="0.35"/>
<rect x="220.5" y="172.2" width="1" height="1" fill="rgb(90, 96, 210)" fill-opacity="0.35"/>
<rect x="238.5" y="172.2" width="1" height="1" fill="rgb(90, 96, 210)" fill-opacity="0.35"/>
<rect x="222.5" y="173.2" width="1" height="1" fill="rgb(90, 96, 210)" fill-opacity="0.35"/>
<rect x="231.5" y="173.2" width="1" height="1" fill="rgb(90, 96, 210)" fill-opacity="0.35"/>
<rect x="233.5" y="173.2" width="1" height="1" fill="rgb(90, 96, 210)" fill-opacity="0.35"/>
<rect x="238.5" y="173.2" width="1" height="1" fill="rgb(90, 96, 210)" fill-opacity="0.35"/>
<rect x="221.5" y="174.2" width="1" height="1" fill="rgb(90, 96, 210)" fill-opacity="0.35"/>
<rect x="237.5" y="174.2" width="1" height="1" fill="rgb(90, 96, 210)" fill-opacity="0.35"/>
<rect x="240.5" y="174.2" width="1" height="1" fill="rgb(65, 85, 206)" fill-opacity="0.6"/>
<rect x="241.5" y="174.2" width="1" height="1" fill="rgb(90, 96, 210)" fill-opacity="0.35"/>
<rect x="230.5" y="175.2" width="1" height="1" fill="rgb(90, 96, 210)" fill-opacity="0.35"/>
<rect x="235.5" y="175.2" width="1" height="1" fill="rgb(90, 96, 210)" fill-opacity="0.35"/>
<rect x="236.5" y="175.2" width="1" height="1" fill="rgb(90, 96, 210)" fill-opacity="0.35"/>
<rect x="237.5" y="175.2" width="1" height="1" fill="rgb(90, 96, 210)" fill-opacity="0.35"/>
<rect x="238.5" y="175.2" width="1" height="1" fill="rgb(65, 85, 206)" fill-opacity="0.6"/>
<rect x="239.5" y="175.2" width="1" height="1" fill="rgb(46, 107, 214)" fill-opacity="1.0"/>
<rect x="240.5" y="175.2" width="1" height="1" fill="rgb(44, 118, 216)" fill-opacity="1.0"/>
<rect x="241.5" y="175.2" width="1" height="1" fill="rgb(90, 96, 210)" fill-opacity="0.35"/>
<rect x="242.5" y="175.2" width="1" height="1" fill="rgb(90, 96, 210)" fill-opacity="0.35"/>
<rect x="215.5" y="176.2" width="1" height="1" fill="rgb(90, 96, 210)" fill-opacity="0.35"/>
<rect x="217.5" y="176.2" width="1" height="1" fill="rgb(90, 96, 210)" fill-opacity="0.35"/>
<rect x="221.5" y="176.2" width="1" height="1" fill="rgb(65, 85, 206)" fill-opacity="0.6"/>
<rect x="231.5" y="176.2" width="1" height="1" fill="rgb(90, 96, 210)" fill-opacity="0.35"/>
<rect x="232.5" y="176.2" width="1" height="1" fill="rgb(90, 96, 210)" fill-opacity="0.35"/>
<rect x="233.5" y="176.2" width="1" height="1" fill="rgb(90, 96, 210)" fill-opacity="0.35"/>
<rect x="235.5" y="176.2" width="1" height="1" fill="rgb(90, 96, 210)" fill-opacity="0.35"/>
<rect x="236.5" y="176.2" width="1" height="1" fill="rgb(44, 118, 216)" fill-opacity="1.0"/>
<rect x="237.5" y="176.2" width="1" height="1" fill="rgb(51, 102, 212)" fill-opacity="1.0"/>
<rect x="238.5" y="176.2" width="1" height="1" fill="rgb(41, 151, 221)" fill-opacity="1.0"/>
<rect x="239.5" y="176.2" width="1" height="1" fill="rgb(42, 177, 206)" fill-opacity="1.0"/>
<rect x="240.5" y="176.2" width="1" height="1" fill="rgb(42, 142, 219)" fill-opacity="1.0"/>
<rect x="241.5" y="176.2" width="1" height="1" fill="rgb(46, 107, 214)" fill-opacity="1.0"/>
<rect x="242.5" y="176.2" width="1" height="1" fill="rgb(46, 107, 214)" fill-opacity="1.0"/>
<rect x="243.5" y="176.2" width="1" height="1" fill="rgb(90, 96, 210)" fill-opacity="0.35"/>
<rect x="217.5" y="177.2" width="1" height="1" fill="rgb(90, 96, 210)" fill-opacity="0.35"/>
<rect x="219.5" y="177.2" width="1" height="1" fill="rgb(90, 96, 210)" fill-opacity="0.35"/>
<rect x="220.5" y="177.2" width="1" height="1" fill="rgb(90, 96, 210)" fill-opacity="0.35"/>
<rect x="221.5" y="177.2" width="1" height="1" fill="rgb(90, 96, 210)" fill-opacity="0.35"/>
<rect x="222.5" y="177.2" width="1" height="1" fill="rgb(46, 107, 214)" fill-opacity="1.0"/>
<rect x="223.5" y="177.2" width="1" height="1" fill="rgb(90, 96, 210)" fill-opacity="0.35"/>
<rect x="234.5" y="177.2" width="1" height="1" fill="rgb(51, 102, 212)" fill-opacity="1.0"/>
<rect x="235.5" y="177.2" width="1" height="1" fill="rgb(40, 168, 224)" fill-opacity="1.0"/>
<rect x="236.5" y="177.2" width="1" height="1" fill="rgb(42, 177, 206)" fill-opacity="1.0"/>
<rect x="237.5" y="177.2" width="1" height="1" fill="rgb(53, 184, 143)" fill-opacity="1.0"/>
<rect x="238.5" y="177.2" width="1" height="1" fill="rgb(53, 184, 143)" fill-opacity="1.0"/>
<rect x="239.5" y="177.2" width="1" height="1" fill="rgb(79, 192, 90)" fill-opacity="1.0"/>
<rect x="240.5" y="177.2" width="1" height="1" fill="rgb(51, 183, 154)" fill-opacity="1.0"/>
<rect x="241.5" y="177.2" width="1" height="1" fill="rgb(64, 190, 97)" fill-opacity="1.0"/>
<rect x="242.5" y="177.2" width="1" height="1" fill="rgb(40, 175, 221)" fill-opacity="1.0"/>
<rect x="243.5" y="177.2" width="1" height="1" fill="rgb(43, 131, 218)" fill-opacity="1.0"/>
<rect x="244.5" y="177.2" width="1" height="1" fill="rgb(65, 85, 206)" fill-opacity="0.6"/>
<rect x="245.5" y="177.2" width="1" height="1" fill="rgb(90, 96, 210)" fill-opacity="0.35"/>
<rect x="247.5" y="177.2" width="1" height="1" fill="rgb(90, 96, 210)" fill-opacity="0.35"/>
<rect x="219.5" y="178.2" width="1" height="1" fill="rgb(90, 96, 210)" fill-opacity="0.35"/>
<rect x="220.5" y="178.2" width="1" height="1" fill="rgb(51, 102, 212)" fill-opacity="1.0"/>
<rect x="221.5" y="178.2" width="1" height="1" fill="rgb(44, 118, 216)" fill-opacity="1.0"/>
<rect x="222.5" y="178.2" width="1" height="1" fill="rgb(44, 118, 216)" fill-opacity="1.0"/>
<rect x="223.5" y="178.2" width="1" height="1" fill="rgb(57, 94, 209)" fill-opacity="1.0"/>
<rect x="224.5" y="178.2" width="1" height="1" fill="rgb(90, 96, 210)" fill-opacity="0.35"/>
<rect x="233.5" y="178.2" width="1" height="1" fill="rgb(65, 85, 206)" fill-opacity="0.6"/>
<rect x="234.5" y="178.2" width="1" height="1" fill="rgb(40, 175, 221)" fill-opacity="1.0"/>
<rect x="235.5" y="178.2" width="1" height="1" fill="rgb(49, 182, 166)" fill-opacity="1.0"/>
<rect x="236.5" y="178.2" width="1" height="1" fill="rgb(116, 198, 71)" fill-opacity="1.0"/>
<rect x="237.5" y="178.2" width="1" height="1" fill="rgb(53, 184, 143)" fill-opacity="1.0"/>
<rect x="238.5" y="178.2" width="1" height="1" fill="rgb(132, 200, 63)" fill-opacity="1.0"/>
<rect x="239.5" y="178.2" width="1" height="1" fill="rgb(64, 190, 97)" fill-opacity="1.0"/>
<rect x="240.5" y="178.2" width="1" height="1" fill="rgb(127, 200, 66)" fill-opacity="1.0"/>
<rect x="241.5" y="178.2" width="1" height="1" fill="rgb(64, 190, 97)" fill-opacity="1.0"/>
<rect x="242.5" y="178.2" width="1" height="1" fill="rgb(64, 190, 97)" fill-opacity="1.0"/>
<rect x="243.5" y="178.2" width="1" height="1" fill="rgb(53, 184, 143)" fill-opacity="1.0"/>
<rect x="244.5" y="178.2" width="1" height="1" fill="rgb(43, 131, 218)" fill-opacity="1.0"/>
<rect x="245.5" y="178.2" width="1" height="1" fill="rgb(51, 102, 212)" fill-opacity="1.0"/>
<rect x="219.5" y="179.2" width="1" height="1" fill="rgb(90, 96, 210)" fill-opacity="0.35"/>
<rect x="220.5" y="179.2" width="1" height="1" fill="rgb(41, 160, 222)" fill-opacity="1.0"/>
<rect x="221.5" y="179.2" width="1" height="1" fill="rgb(57, 94, 209)" fill-opacity="1.0"/>
<rect x="222.5" y="179.2" width="1" height="1" fill="rgb(40, 168, 224)" fill-opacity="1.0"/>
<rect x="223.5" y="179.2" width="1" height="1" fill="rgb(42, 142, 219)" fill-opacity="1.0"/>
<rect x="224.5" y="179.2" width="1" height="1" fill="rgb(57, 94, 209)" fill-opacity="1.0"/>
<rect x="225.5" y="179.2" width="1" height="1" fill="rgb(90, 96, 210)" fill-opacity="0.35"/>
<rect x="233.5" y="179.2" width="1" height="1" fill="rgb(57, 94, 209)" fill-opacity="1.0"/>
<rect x="234.5" y="179.2" width="1" height="1" fill="rgb(47, 180, 178)" fill-opacity="1.0"/>
<rect x="235.5" y="179.2" width="1" height="1" fill="rgb(72, 191, 93)" fill-opacity="1.0"/>
<rect x="236.5" y="179.2" width="1" height="1" fill="rgb(79, 192, 90)" fill-opacity="1.0"/>
<rect x="237.5" y="179.2" width="1" height="1" fill="rgb(64, 190, 97)" fill-opacity="1.0"/>
<rect x="238.5" y="179.2" width="1" height="1" fill="rgb(132, 200, 63)" fill-opacity="1.0"/>
<rect x="239.5" y="179.2" width="1" height="1" fill="rgb(151, 203, 54)" fill-opacity="1.0"/>
<rect x="240.5" y="179.2" width="1" height="1" fill="rgb(59, 189, 103)" fill-opacity="1.0"/>
<rect x="241.5" y="179.2" width="1" height="1" fill="rgb(53, 184, 143)" fill-opacity="1.0"/>
<rect x="242.5" y="179.2" width="1" height="1" fill="rgb(116, 198, 71)" fill-opacity="1.0"/>
<rect x="243.5" y="179.2" width="1" height="1" fill="rgb(57, 188, 112)" fill-opacity="1.0"/>
<rect x="244.5" y="179.2" width="1" height="1" fill="rgb(42, 177, 206)" fill-opacity="1.0"/>
<rect x="245.5" y="179.2" width="1" height="1" fill="rgb(44, 118, 216)" fill-opacity="1.0"/>
<rect x="246.5" y="179.2" width="1" height="1" fill="rgb(90, 96, 210)" fill-opacity="0.35"/>
<rect x="216.5" y="180.2" width="1" height="1" fill="rgb(90, 96, 210)" fill-opacity="0.35"/>
<rect x="218.5" y="180.2" width="1" height="1" fill="rgb(90, 96, 210)" fill-opacity="0.35"/>
<rect x="219.5" y="180.2" width="1" height="1" fill="rgb(51, 102, 212)" fill-opacity="1.0"/>
<rect x="220.5" y="180.2" width="1" height="1" fill="rgb(43, 131, 218)" fill-opacity="1.0"/>
<rect x="221.5" y="180.2" width="1" height="1" fill="rgb(47, 180, 178)" fill-opacity="1.0"/>
<rect x="222.5" y="180.2" width="1" height="1" fill="rgb(44, 118, 216)" fill-opacity="1.0"/>
<rect x="223.5" y="180.2" width="1" height="1" fill="rgb(90, 96, 210)" fill-opacity="0.35"/>
<rect x="224.5" y="180.2" width="1" height="1" fill="rgb(90, 96, 210)" fill-opacity="0.35"/>
<rect x="230.5" y="180.2" width="1" height="1" fill="rgb(90, 96, 210)" fill-opacity="0.35"/>
<rect x="231.5" y="180.2" width="1" height="1" fill="rgb(90, 96, 210)" fill-opacity="0.35"/>
<rect x="232.5" y="180.2" width="1" height="1" fill="rgb(90, 96, 210)" fill-opacity="0.35"/>
<rect x="233.5" y="180.2" width="1" height="1" fill="rgb(41, 151, 221)" fill-opacity="1.0"/>
<rect x="234.5" y="180.2" width="1" height="1" fill="rgb(64, 190, 97)" fill-opacity="1.0"/>
<rect x="235.5" y="180.2" width="1" height="1" fill="rgb(147, 203, 56)" fill-opacity="1.0"/>
<rect x="236.5" y="180.2" width="1" height="1" fill="rgb(147, 203, 56)" fill-opacity="1.0"/>
<rect x="237.5" y="180.2" width="1" height="1" fill="rgb(127, 200, 66)" fill-opacity="1.0"/>
<rect x="238.5" y="180.2" width="1" height="1" fill="rgb(127, 200, 66)" fill-opacity="1.0"/>
<rect x="239.5" y="180.2" width="1" height="1" fill="rgb(142, 202, 58)" fill-opacity="1.0"/>
<rect x="240.5" y="180.2" width="1" height="1" fill="rgb(85, 193, 87)" fill-opacity="1.0"/>
<rect x="241.5" y="180.2" width="1" height="1" fill="rgb(85, 193, 87)" fill-opacity="1.0"/>
<rect x="242.5" y="180.2" width="1" height="1" fill="rgb(147, 203, 56)" fill-opacity="1.0"/>
<rect x="243.5" y="180.2" width="1" height="1" fill="rgb(137, 201, 61)" fill-opacity="1.0"/>
<rect x="244.5" y="180.2" width="1" height="1" fill="rgb(59, 189, 103)" fill-opacity="1.0"/>
<rect x="245.5" y="180.2" width="1" height="1" fill="rgb(42, 142, 219)" fill-opacity="1.0"/>
<rect x="246.5" y="180.2" width="1" height="1" fill="rgb(65, 85, 206)" fill-opacity="0.6"/>
<rect x="247.5" y="180.2" width="1" height="1" fill="rgb(90, 96, 210)" fill-opacity="0.35"/>
<rect x="216.5" y="181.2" width="1" height="1" fill="rgb(90, 96, 210)" fill-opacity="0.35"/>
<rect x="219.5" y="181.2" width="1" height="1" fill="rgb(44, 118, 216)" fill-opacity="1.0"/>
<rect x="220.5" y="181.2" width="1" height="1" fill="rgb(53, 184, 143)" fill-opacity="1.0"/>
<rect x="221.5" y="181.2" width="1" height="1" fill="rgb(57, 188, 112)" fill-opacity="1.0"/>
<rect x="222.5" y="181.2" width="1" height="1" fill="rgb(51, 102, 212)" fill-opacity="1.0"/>
<rect x="223.5" y="181.2" width="1" height="1" fill="rgb(65, 85, 206)" fill-opacity="0.6"/>
<rect x="226.5" y="181.2" width="1" height="1" fill="rgb(90, 96, 210)" fill-opacity="0.35"/>
<rect x="228.5" y="181.2" width="1" height="1" fill="rgb(90, 96, 210)" fill-opacity="0.35"/>
<rect x="231.5" y="181.2" width="1" height="1" fill="rgb(65, 85, 206)" fill-opacity="0.6"/>
<rect x="232.5" y="181.2" width="1" height="1" fill="rgb(46, 107, 214)" fill-opacity="1.0"/>
<rect x="233.5" y="181.2" width="1" height="1" fill="rgb(51, 183, 154)" fill-opacity="1.0"/>
<rect x="234.5" y="181.2" width="1" height="1" fill="rgb(53, 184, 143)" fill-opacity="1.0"/>
<rect x="235.5" y="181.2" width="1" height="1" fill="rgb(56, 187, 122)" fill-opacity="1.0"/>
<rect x="236.5" y="181.2" width="1" height="1" fill="rgb(137, 201, 61)" fill-opacity="1.0"/>
<rect x="237.5" y="181.2" width="1" height="1" fill="rgb(104, 196, 77)" fill-opacity="1.0"/>
<rect x="238.5" y="181.2" width="1" height="1" fill="rgb(188, 194, 46)" fill-opacity="1.0"/>
<rect x="239.5" y="181.2" width="1" height="1" fill="rgb(173, 200, 48)" fill-opacity="1.0"/>
<rect x="240.5" y="181.2" width="1" height="1" fill="rgb(151, 203, 54)" fill-opacity="1.0"/>
<rect x="241.5" y="181.2" width="1" height="1" fill="rgb(121, 199, 69)" fill-opacity="1.0"/>
<rect x="242.5" y="181.2" width="1" height="1" fill="rgb(104, 196, 77)" fill-opacity="1.0"/>
<rect x="243.5" y="181.2" width="1" height="1" fill="rgb(64, 190, 97)" fill-opacity="1.0"/>
<rect x="244.5" y="181.2" width="1" height="1" fill="rgb(104, 196, 77)" fill-opacity="1.0"/>
<rect x="245.5" y="181.2" width="1" height="1" fill="rgb(41, 151, 221)" fill-opacity="1.0"/>
<rect x="246.5" y="181.2" width="1" height="1" fill="rgb(57, 94, 209)" fill-opacity="1.0"/>
<rect x="214.5" y="182.2" width="1" height="1" fill="rgb(90, 96, 210)" fill-opacity="0.35"/>
<rect x="217.5" y="182.2" width="1" height="1" fill="rgb(65, 85, 206)" fill-opacity="0.6"/>
<rect x="218.5" y="182.2" width="1" height="1" fill="rgb(51, 102, 212)" fill-opacity="1.0"/>
<rect x="219.5" y="182.2" width="1" height="1" fill="rgb(43, 131, 218)" fill-opacity="1.0"/>
<rect x="220.5" y="182.2" width="1" height="1" fill="rgb(41, 151, 221)" fill-opacity="1.0"/>
<rect x="221.5" y="182.2" width="1" height="1" fill="rgb(46, 107, 214)" fill-opacity="1.0"/>
<rect x="222.5" y="182.2" width="1" height="1" fill="rgb(65, 85, 206)" fill-opacity="0.6"/>
<rect x="223.5" y="182.2" width="1" height="1" fill="rgb(90, 96, 210)" fill-opacity="0.35"/>
<rect x="226.5" y="182.2" width="1" height="1" fill="rgb(90, 96, 210)" fill-opacity="0.35"/>
<rect x="229.5" y="182.2" width="1" height="1" fill="rgb(90, 96, 210)" fill-opacity="0.35"/>
<rect x="231.5" y="182.2" width="1" height="1" fill="rgb(90, 96, 210)" fill-opacity="0.35"/>
<rect x="232.5" y="182.2" width="1" height="1" fill="rgb(51, 102, 212)" fill-opacity="1.0"/>
<rect x="233.5" y="182.2" width="1" height="1" fill="rgb(51, 183, 154)" fill-opacity="1.0"/>
<rect x="234.5" y="182.2" width="1" height="1" fill="rgb(85, 193, 87)" fill-opacity="1.0"/>
<rect x="235.5" y="182.2" width="1" height="1" fill="rgb(151, 203, 54)" fill-opacity="1.0"/>
<rect x="236.5" y="182.2" width="1" height="1" fill="rgb(104, 196, 77)" fill-opacity="1.0"/>
<rect x="237.5" y="182.2" width="1" height="1" fill="rgb(226, 180, 41)" fill-opacity="1.0"/>
<rect x="238.5" y="182.2" width="1" height="1" fill="rgb(235, 119, 35)" fill-opacity="1.0"/>
<rect x="239.5" y="182.2" width="1" height="1" fill="rgb(238, 152, 38)" fill-opacity="1.0"/>
<rect x="240.5" y="182.2" width="1" height="1" fill="rgb(165, 203, 49)" fill-opacity="1.0"/>
<rect x="241.5" y="182.2" width="1" height="1" fill="rgb(137, 201, 61)" fill-opacity="1.0"/>
<rect x="242.5" y="182.2" width="1" height="1" fill="rgb(127, 200, 66)" fill-opacity="1.0"/>
<rect x="243.5" y="182.2" width="1" height="1" fill="rgb(127, 200, 66)" fill-opacity="1.0"/>
<rect x="244.5" y="182.2" width="1" height="1" fill="rgb(56, 187, 122)" fill-opacity="1.0"/>
<rect x="245.5" y="182.2" width="1" height="1" fill="rgb(51, 183, 154)" fill-opacity="1.0"/>
<rect x="246.5" y="182.2" width="1" height="1" fill="rgb(65, 85, 206)" fill-opacity="0.6"/>
<rect x="247.5" y="182.2" width="1" height="1" fill="rgb(90, 96, 210)" fill-opacity="0.35"/>
<rect x="217.5" y="183.2" width="1" height="1" fill="rgb(46, 107, 214)" fill-opacity="1.0"/>
<rect x="218.5" y="183.2" width="1" height="1" fill="rgb(43, 131, 218)" fill-opacity="1.0"/>
<rect x="219.5" y="183.2" width="1" height="1" fill="rgb(65, 85, 206)" fill-opacity="0.6"/>
<rect x="220.5" y="183.2" width="1" height="1" fill="rgb(44, 118, 216)" fill-opacity="1.0"/>
<rect x="221.5" y="183.2" width="1" height="1" fill="rgb(57, 94, 209)" fill-opacity="1.0"/>
<rect x="227.5" y="183.2" width="1" height="1" fill="rgb(90, 96, 210)" fill-opacity="0.35"/>
<rect x="229.5" y="183.2" width="1" height="1" fill="rgb(90, 96, 210)" fill-opacity="0.35"/>
<rect x="231.5" y="183.2" width="1" height="1" fill="rgb(90, 96, 210)" fill-opacity="0.35"/>
<rect x="232.5" y="183.2" width="1" height="1" fill="rgb(41, 160, 222)" fill-opacity="1.0"/>
<rect x="233.5" y="183.2" width="1" height="1" fill="rgb(110, 197, 74)" fill-opacity="1.0"/>
<rect x="234.5" y="183.2" width="1" height="1" fill="rgb(147, 203, 56)" fill-opacity="1.0"/>
<rect x="235.5" y="183.2" width="1" height="1" fill="rgb(110, 197, 74)" fill-opacity="1.0"/>
<rect x="236.5" y="183.2" width="1" height="1" fill="rgb(165, 203, 49)" fill-opacity="1.0"/>
<rect x="237.5" y="183.2" width="1" height="1" fill="rgb(229, 178, 41)" fill-opacity="1.0"/>
<rect x="238.5" y="183.2" width="1" height="1" fill="rgb(230, 60, 30)" fill-opacity="1.0"/>
<rect x="239.5" y="183.2" width="1" height="1" fill="rgb(234, 116, 34)" fill-opacity="1.0"/>
<rect x="240.5" y="183.2" width="1" height="1" fill="rgb(180, 197, 47)" fill-opacity="1.0"/>
<rect x="241.5" y="183.2" width="1" height="1" fill="rgb(180, 197, 47)" fill-opacity="1.0"/>
<rect x="242.5" y="183.2" width="1" height="1" fill="rgb(121, 199, 69)" fill-opacity="1.0"/>
<rect x="243.5" y="183.2" width="1" height="1" fill="rgb(156, 204, 51)" fill-opacity="1.0"/>
<rect x="244.5" y="183.2" width="1" height="1" fill="rgb(110, 197, 74)" fill-opacity="1.0"/>
<rect x="245.5" y="183.2" width="1" height="1" fill="rgb(45, 178, 192)" fill-opacity="1.0"/>
<rect x="246.5" y="183.2" width="1" height="1" fill="rgb(51, 102, 212)" fill-opacity="1.0"/>
<rect x="216.5" y="184.2" width="1" height="1" fill="rgb(90, 96, 210)" fill-opacity="0.35"/>
<rect x="217.5" y="184.2" width="1" height="1" fill="rgb(46, 107, 214)" fill-opacity="1.0"/>
<rect x="218.5" y="184.2" width="1" height="1" fill="rgb(43, 131, 218)" fill-opacity="1.0"/>
<rect x="219.5" y="184.2" width="1" height="1" fill="rgb(42, 142, 219)" fill-opacity="1.0"/>
<rect x="220.5" y="184.2" width="1" height="1" fill="rgb(46, 107, 214)" fill-opacity="1.0"/>
<rect x="221.5" y="184.2" width="1" height="1" fill="rgb(65, 85, 206)" fill-opacity="0.6"/>
<rect x="224.5" y="184.2" width="1" height="1" fill="rgb(90, 96, 210)" fill-opacity="0.35"/>
<rect x="225.5" y="184.2" width="1" height="1" fill="rgb(90, 96, 210)" fill-opacity="0.35"/>
<rect x="230.5" y="184.2" width="1" height="1" fill="rgb(65, 85, 206)" fill-opacity="0.6"/>
<rect x="231.5" y="184.2" width="1" height="1" fill="rgb(65, 85, 206)" fill-opacity="0.6"/>
<rect x="232.5" y="184.2" width="1" height="1" fill="rgb(44, 118, 216)" fill-opacity="1.0"/>
<rect x="233.5" y="184.2" width="1" height="1" fill="rgb(64, 190, 97)" fill-opacity="1.0"/>
<rect x="234.5" y="184.2" width="1" height="1" fill="rgb(121, 199, 69)" fill-opacity="1.0"/>
<rect x="235.5" y="184.2" width="1" height="1" fill="rgb(151, 203, 54)" fill-opacity="1.0"/>
<rect x="236.5" y="184.2" width="1" height="1" fill="rgb(180, 197, 47)" fill-opacity="1.0"/>
<rect x="237.5" y="184.2" width="1" height="1" fill="rgb(232, 85, 32)" fill-opacity="1.0"/>
<rect x="238.5" y="184.2" width="1" height="1" fill="rgb(230, 60, 30)" fill-opacity="1.0"/>
<rect x="239.5" y="184.2" width="1" height="1" fill="rgb(230, 60, 30)" fill-opacity="1.0"/>
<rect x="240.5" y="184.2" width="1" height="1" fill="rgb(180, 197, 47)" fill-opacity="1.0"/>
<rect x="241.5" y="184.2" width="1" height="1" fill="rgb(184, 195, 46)" fill-opacity="1.0"/>
<rect x="242.5" y="184.2" width="1" height="1" fill="rgb(72, 191, 93)" fill-opacity="1.0"/>
<rect x="243.5" y="184.2" width="1" height="1" fill="rgb(121, 199, 69)" fill-opacity="1.0"/>
<rect x="244.5" y="184.2" width="1" height="1" fill="rgb(59, 189, 103)" fill-opacity="1.0"/>
<rect x="245.5" y="184.2" width="1" height="1" fill="rgb(42, 142, 219)" fill-opacity="1.0"/>
<rect x="246.5" y="184.2" width="1" height="1" fill="rgb(57, 94, 209)" fill-opacity="1.0"/>
<rect x="247.5" y="184.2" width="1" height="1" fill="rgb(90, 96, 210)" fill-opacity="0.35"/>
<rect x="215.5" y="185.2" width="1" height="1" fill="rgb(90, 96, 210)" fill-opacity="0.35"/>
<rect x="216.5" y="185.2" width="1" height="1" fill="rgb(43, 131, 218)" fill-opacity="1.0"/>
<rect x="217.5" y="185.2" width="1" height="1" fill="rgb(43, 131, 218)" fill-opacity="1.0"/>
<rect x="218.5" y="185.2" width="1" height="1" fill="rgb(42, 142, 219)" fill-opacity="1.0"/>
<rect x="219.5" y="185.2" width="1" height="1" fill="rgb(41, 160, 222)" fill-opacity="1.0"/>
<rect x="220.5" y="185.2" width="1" height="1" fill="rgb(90, 96, 210)" fill-opacity="0.35"/>
<rect x="226.5" y="185.2" width="1" height="1" fill="rgb(90, 96, 210)" fill-opacity="0.35"/>
<rect x="227.5" y="185.2" width="1" height="1" fill="rgb(90, 96, 210)" fill-opacity="0.35"/>
<rect x="231.5" y="185.2" width="1" height="1" fill="rgb(65, 85, 206)" fill-opacity="0.6"/>
<rect x="232.5" y="185.2" width="1" height="1" fill="rgb(41, 151, 221)" fill-opacity="1.0"/>
<rect x="233.5" y="185.2" width="1" height="1" fill="rgb(59, 189, 103)" fill-opacity="1.0"/>
<rect x="234.5" y="185.2" width="1" height="1" fill="rgb(92, 194, 83)" fill-opacity="1.0"/>
<rect x="235.5" y="185.2" width="1" height="1" fill="rgb(188, 194, 46)" fill-opacity="1.0"/>
<rect x="236.5" y="185.2" width="1" height="1" fill="rgb(208, 186, 43)" fill-opacity="1.0"/>
<rect x="237.5" y="185.2" width="1" height="1" fill="rgb(238, 163, 38)" fill-opacity="1.0"/>
<rect x="238.5" y="185.2" width="1" height="1" fill="rgb(231, 74, 31)" fill-opacity="1.0"/>
<rect x="239.5" y="185.2" width="1" height="1" fill="rgb(231, 72, 31)" fill-opacity="1.0"/>
<rect x="240.5" y="185.2" width="1" height="1" fill="rgb(239, 174, 39)" fill-opacity="1.0"/>
<rect x="241.5" y="185.2" width="1" height="1" fill="rgb(195, 191, 45)" fill-opacity="1.0"/>
<rect x="242.5" y="185.2" width="1" height="1" fill="rgb(160, 204, 49)" fill-opacity="1.0"/>
<rect x="243.5" y="185.2" width="1" height="1" fill="rgb(64, 190, 97)" fill-opacity="1.0"/>
<rect x="244.5" y="185.2" width="1" height="1" fill="rgb(72, 191, 93)" fill-opacity="1.0"/>
<rect x="245.5" y="185.2" width="1" height="1" fill="rgb(40, 168, 224)" fill-opacity="1.0"/>
<rect x="246.5" y="185.2" width="1" height="1" fill="rgb(90, 96, 210)" fill-opacity="0.35"/>
<rect x="214.5" y="186.2" width="1" height="1" fill="rgb(90, 96, 210)" fill-opacity="0.35"/>
<rect x="215.5" y="186.2" width="1" height="1" fill="rgb(44, 118, 216)" fill-opacity="1.0"/>
<rect x="216.5" y="186.2" width="1" height="1" fill="rgb(45, 178, 192)" fill-opacity="1.0"/>
<rect x="217.5" y="186.2" width="1" height="1" fill="rgb(46, 107, 214)" fill-opacity="1.0"/>
<rect x="218.5" y="186.2" width="1" height="1" fill="rgb(41, 151, 221)" fill-opacity="1.0"/>
<rect x="219.5" y="186.2" width="1" height="1" fill="rgb(65, 85, 206)" fill-opacity="0.6"/>
<rect x="220.5" y="186.2" width="1" height="1" fill="rgb(90, 96, 210)" fill-opacity="0.35"/>
<rect x="227.5" y="186.2" width="1" height="1" fill="rgb(65, 85, 206)" fill-opacity="0.6"/>
<rect x="229.5" y="186.2" width="1" height="1" fill="rgb(90, 96, 210)" fill-opacity="0.35"/>
<rect x="230.5" y="186.2" width="1" height="1" fill="rgb(90, 96, 210)" fill-opacity="0.35"/>
<rect x="231.5" y="186.2" width="1" height="1" fill="rgb(57, 94, 209)" fill-opacity="1.0"/>
<rect x="232.5" y="186.2" width="1" height="1" fill="rgb(45, 178, 192)" fill-opacity="1.0"/>
<rect x="233.5" y="186.2" width="1" height="1" fill="rgb(121, 199, 69)" fill-opacity="1.0"/>
<rect x="234.5" y="186.2" width="1" height="1" fill="rgb(132, 200, 63)" fill-opacity="1.0"/>
<rect x="235.5" y="186.2" width="1" height="1" fill="rgb(79, 192, 90)" fill-opacity="1.0"/>
<rect x="236.5" y="186.2" width="1" height="1" fill="rgb(191, 193, 46)" fill-opacity="1.0"/>
<rect x="237.5" y="186.2" width="1" height="1" fill="rgb(201, 189, 44)" fill-opacity="1.0"/>
<rect x="238.5" y="186.2" width="1" height="1" fill="rgb(239, 170, 39)" fill-opacity="1.0"/>
<rect x="239.5" y="186.2" width="1" height="1" fill="rgb(238, 152, 38)" fill-opacity="1.0"/>
<rect x="240.5" y="186.2" width="1" height="1" fill="rgb(173, 200, 48)" fill-opacity="1.0"/>
<rect x="241.5" y="186.2" width="1" height="1" fill="rgb(156, 204, 51)" fill-opacity="1.0"/>
<rect x="242.5" y="186.2" width="1" height="1" fill="rgb(169, 201, 48)" fill-opacity="1.0"/>
<rect x="243.5" y="186.2" width="1" height="1" fill="rgb(127, 200, 66)" fill-opacity="1.0"/>
<rect x="244.5" y="186.2" width="1" height="1" fill="rgb(40, 175, 221)" fill-opacity="1.0"/>
<rect x="245.5" y="186.2" width="1" height="1" fill="rgb(43, 131, 218)" fill-opacity="1.0"/>
<rect x="246.5" y="186.2" width="1" height="1" fill="rgb(65, 85, 206)" fill-opacity="0.6"/>
<rect x="214.5" y="187.2" width="1" height="1" fill="rgb(57, 94, 209)" fill-opacity="1.0"/>
<rect x="215.5" y="187.2" width="1" height="1" fill="rgb(42, 142, 219)" fill-opacity="1.0"/>
<rect x="216.5" y="187.2" width="1" height="1" fill="rgb(42, 142, 219)" fill-opacity="1.0"/>
<rect x="217.5" y="187.2" width="1" height="1" fill="rgb(42, 142, 219)" fill-opacity="1.0"/>
<rect x="218.5" y="187.2" width="1" height="1" fill="rgb(57, 94, 209)" fill-opacity="1.0"/>
<rect x="219.5" y="187.2" width="1" height="1" fill="rgb(90, 96, 210)" fill-opacity="0.35"/>
<rect x="227.5" y="187.2" width="1" height="1" fill="rgb(90, 96, 210)" fill-opacity="0.35"/>
<rect x="229.5" y="187.2" width="1" height="1" fill="rgb(65, 85, 206)" fill-opacity="0.6"/>
<rect x="230.5" y="187.2" width="1" height="1" fill="rgb(65, 85, 206)" fill-opacity="0.6"/>
<rect x="231.5" y="187.2" width="1" height="1" fill="rgb(46, 107, 214)" fill-opacity="1.0"/>
<rect x="232.5" y="187.2" width="1" height="1" fill="rgb(41, 151, 221)" fill-opacity="1.0"/>
<rect x="233.5" y="187.2" width="1" height="1" fill="rgb(57, 188, 112)" fill-opacity="1.0"/>
<rect x="234.5" y="187.2" width="1" height="1" fill="rgb(147, 203, 56)" fill-opacity="1.0"/>
<rect x="235.5" y="187.2" width="1" height="1" fill="rgb(214, 184, 43)" fill-opacity="1.0"/>
<rect x="236.5" y="187.2" width="1" height="1" fill="rgb(201, 189, 44)" fill-opacity="1.0"/>
<rect x="237.5" y="187.2" width="1" height="1" fill="rgb(208, 186, 43)" fill-opacity="1.0"/>
<rect x="238.5" y="187.2" width="1" height="1" fill="rgb(226, 180, 41)" fill-opacity="1.0"/>
<rect x="239.5" y="187.2" width="1" height="1" fill="rgb(208, 186, 43)" fill-opacity="1.0"/>
<rect x="240.5" y="187.2" width="1" height="1" fill="rgb(201, 189, 44)" fill-opacity="1.0"/>
<rect x="241.5" y="187.2" width="1" height="1" fill="rgb(191, 193, 46)" fill-opacity="1.0"/>
<rect x="242.5" y="187.2" width="1" height="1" fill="rgb(137, 201, 61)" fill-opacity="1.0"/>
<rect x="243.5" y="187.2" width="1" height="1" fill="rgb(79, 192, 90)" fill-opacity="1.0"/>
<rect x="244.5" y="187.2" width="1" height="1" fill="rgb(51, 102, 212)" fill-opacity="1.0"/>
<rect x="245.5" y="187.2" width="1" height="1" fill="rgb(65, 85, 206)" fill-opacity="0.6"/>
<rect x="212.5" y="188.2" width="1" height="1" fill="rgb(90, 96, 210)" fill-opacity="0.35"/>
<rect x="214.5" y="188.2" width="1" height="1" fill="rgb(41, 151, 221)" fill-opacity="1.0"/>
<rect x="215.5" y="188.2" width="1" height="1" fill="rgb(42, 177, 206)" fill-opacity="1.0"/>
<rect x="216.5" y="188.2" width="1" height="1" fill="rgb(43, 131, 218)" fill-opacity="1.0"/>
<rect x="217.5" y="188.2" width="1" height="1" fill="rgb(51, 102, 212)" fill-opacity="1.0"/>
<rect x="218.5" y="188.2" width="1" height="1" fill="rgb(57, 94, 209)" fill-opacity="1.0"/>
<rect x="224.5" y="188.2" width="1" height="1" fill="rgb(90, 96, 210)" fill-opacity="0.35"/>
<rect x="226.5" y="188.2" width="1" height="1" fill="rgb(90, 96, 210)" fill-opacity="0.35"/>
<rect x="228.5" y="188.2" width="1" height="1" fill="rgb(90, 96, 210)" fill-opacity="0.35"/>
<rect x="230.5" y="188.2" width="1" height="1" fill="rgb(65, 85, 206)" fill-opacity="0.6"/>
<rect x="231.5" y="188.2" width="1" height="1" fill="rgb(65, 85, 206)" fill-opacity="0.6"/>
<rect x="232.5" y="188.2" width="1" height="1" fill="rgb(51, 102, 212)" fill-opacity="1.0"/>
<rect x="233.5" y="188.2" width="1" height="1" fill="rgb(127, 200, 66)" fill-opacity="1.0"/>
<rect x="234.5" y="188.2" width="1" height="1" fill="rgb(177, 198, 47)" fill-opacity="1.0"/>
<rect x="235.5" y="188.2" width="1" height="1" fill="rgb(147, 203, 56)" fill-opacity="1.0"/>
<rect x="236.5" y="188.2" width="1" height="1" fill="rgb(211, 185, 43)" fill-opacity="1.0"/>
<rect x="237.5" y="188.2" width="1" height="1" fill="rgb(235, 176, 40)" fill-opacity="1.0"/>
<rect x="238.5" y="188.2" width="1" height="1" fill="rgb(191, 193, 46)" fill-opacity="1.0"/>
<rect x="239.5" y="188.2" width="1" height="1" fill="rgb(223, 181, 42)" fill-opacity="1.0"/>
<rect x="240.5" y="188.2" width="1" height="1" fill="rgb(232, 177, 40)" fill-opacity="1.0"/>
<rect x="241.5" y="188.2" width="1" height="1" fill="rgb(156, 204, 51)" fill-opacity="1.0"/>
<rect x="242.5" y="188.2" width="1" height="1" fill="rgb(79, 192, 90)" fill-opacity="1.0"/>
<rect x="243.5" y="188.2" width="1" height="1" fill="rgb(72, 191, 93)" fill-opacity="1.0"/>
<rect x="244.5" y="188.2" width="1" height="1" fill="rgb(44, 118, 216)" fill-opacity="1.0"/>
<rect x="249.5" y="188.2" width="1" height="1" fill="rgb(90, 96, 210)" fill-opacity="0.35"/>
<rect x="212.5" y="189.2" width="1" height="1" fill="rgb(90, 96, 210)" fill-opacity="0.35"/>
<rect x="213.5" y="189.2" width="1" height="1" fill="rgb(46, 107, 214)" fill-opacity="1.0"/>
<rect x="214.5" y="189.2" width="1" height="1" fill="rgb(40, 168, 224)" fill-opacity="1.0"/>
<rect x="215.5" y="189.2" width="1" height="1" fill="rgb(43, 131, 218)" fill-opacity="1.0"/>
<rect x="216.5" y="189.2" width="1" height="1" fill="rgb(41, 151, 221)" fill-opacity="1.0"/>
<rect x="217.5" y="189.2" width="1" height="1" fill="rgb(44, 118, 216)" fill-opacity="1.0"/>
<rect x="224.5" y="189.2" width="1" height="1" fill="rgb(90, 96, 210)" fill-opacity="0.35"/>
<rect x="225.5" y="189.2" width="1" height="1" fill="rgb(90, 96, 210)" fill-opacity="0.35"/>
<rect x="226.5" y="189.2" width="1" height="1" fill="rgb(90, 96, 210)" fill-opacity="0.35"/>
<rect x="228.5" y="189.2" width="1" height="1" fill="rgb(90, 96, 210)" fill-opacity="0.35"/>
<rect x="230.5" y="189.2" width="1" height="1" fill="rgb(90, 96, 210)" fill-opacity="0.35"/>
<rect x="231.5" y="189.2" width="1" height="1" fill="rgb(65, 85, 206)" fill-opacity="0.6"/>
<rect x="232.5" y="189.2" width="1" height="1" fill="rgb(46, 107, 214)" fill-opacity="1.0"/>
<rect x="233.5" y="189.2" width="1" height="1" fill="rgb(64, 190, 97)" fill-opacity="1.0"/>
<rect x="234.5" y="189.2" width="1" height="1" fill="rgb(79, 192, 90)" fill-opacity="1.0"/>
<rect x="235.5" y="189.2" width="1" height="1" fill="rgb(208, 186, 43)" fill-opacity="1.0"/>
<rect x="236.5" y="189.2" width="1" height="1" fill="rgb(217, 183, 42)" fill-opacity="1.0"/>
<rect x="237.5" y="189.2" width="1" height="1" fill="rgb(217, 183, 42)" fill-opacity="1.0"/>
<rect x="238.5" y="189.2" width="1" height="1" fill="rgb(238, 155, 38)" fill-opacity="1.0"/>
<rect x="239.5" y="189.2" width="1" height="1" fill="rgb(180, 197, 47)" fill-opacity="1.0"/>
<rect x="240.5" y="189.2" width="1" height="1" fill="rgb(188, 194, 46)" fill-opacity="1.0"/>
<rect x="241.5" y="189.2" width="1" height="1" fill="rgb(104, 196, 77)" fill-opacity="1.0"/>
<rect x="242.5" y="189.2" width="1" height="1" fill="rgb(54, 186, 132)" fill-opacity="1.0"/>
<rect x="243.5" y="189.2" width="1" height="1" fill="rgb(41, 151, 221)" fill-opacity="1.0"/>
<rect x="244.5" y="189.2" width="1" height="1" fill="rgb(57, 94, 209)" fill-opacity="1.0"/>
<rect x="248.5" y="189.2" width="1" height="1" fill="rgb(90, 96, 210)" fill-opacity="0.35"/>
<rect x="213.5" y="190.2" width="1" height="1" fill="rgb(57, 94, 209)" fill-opacity="1.0"/>
<rect x="214.5" y="190.2" width="1" height="1" fill="rgb(56, 187, 122)" fill-opacity="1.0"/>
<rect x="215.5" y="190.2" width="1" height="1" fill="rgb(42, 177, 206)" fill-opacity="1.0"/>
<rect x="216.5" y="190.2" width="1" height="1" fill="rgb(44, 118, 216)" fill-opacity="1.0"/>
<rect x="224.5" y="190.2" width="1" height="1" fill="rgb(90, 96, 210)" fill-opacity="0.35"/>
<rect x="225.5" y="190.2" width="1" height="1" fill="rgb(90, 96, 210)" fill-opacity="0.35"/>
<rect x="230.5" y="190.2" width="1" height="1" fill="rgb(90, 96, 210)" fill-opacity="0.35"/>
<rect x="232.5" y="190.2" width="1" height="1" fill="rgb(51, 102, 212)" fill-opacity="1.0"/>
<rect x="233.5" y="190.2" width="1" height="1" fill="rgb(51, 183, 154)" fill-opacity="1.0"/>
<rect x="234.5" y="190.2" width="1" height="1" fill="rgb(137, 201, 61)" fill-opacity="1.0"/>
<rect x="235.5" y="190.2" width="1" height="1" fill="rgb(195, 191, 45)" fill-opacity="1.0"/>
<rect x="236.5" y="190.2" width="1" height="1" fill="rgb(229, 178, 41)" fill-opacity="1.0"/>
<rect x="237.5" y="190.2" width="1" height="1" fill="rgb(191, 193, 46)" fill-opacity="1.0"/>
<rect x="238.5" y="190.2" width="1" height="1" fill="rgb(208, 186, 43)" fill-opacity="1.0"/>
<rect x="239.5" y="190.2" width="1" height="1" fill="rgb(208, 186, 43)" fill-opacity="1.0"/>
<rect x="240.5" y="190.2" width="1" height="1" fill="rgb(147, 203, 56)" fill-opacity="1.0"/>
<rect x="241.5" y="190.2" width="1" height="1" fill="rgb(85, 193, 87)" fill-opacity="1.0"/>
<rect x="242.5" y="190.2" width="1" height="1" fill="rgb(51, 183, 154)" fill-opacity="1.0"/>
<rect x="243.5" y="190.2" width="1" height="1" fill="rgb(46, 107, 214)" fill-opacity="1.0"/>
<rect x="244.5" y="190.2" width="1" height="1" fill="rgb(90, 96, 210)" fill-opacity="0.35"/>
<rect x="214.5" y="191.2" width="1" height="1" fill="rgb(57, 94, 209)" fill-opacity="1.0"/>
<rect x="215.5" y="191.2" width="1" height="1" fill="rgb(65, 85, 206)" fill-opacity="0.6"/>
<rect x="216.5" y="191.2" width="1" height="1" fill="rgb(90, 96, 210)" fill-opacity="0.35"/>
<rect x="224.5" y="191.2" width="1" height="1" fill="rgb(90, 96, 210)" fill-opacity="0.35"/>
<rect x="227.5" y="191.2" width="1" height="1" fill="rgb(90, 96, 210)" fill-opacity="0.35"/>
<rect x="229.5" y="191.2" width="1" height="1" fill="rgb(90, 96, 210)" fill-opacity="0.35"/>
<rect x="230.5" y="191.2" width="1" height="1" fill="rgb(90, 96, 210)" fill-opacity="0.35"/>
<rect x="231.5" y="191.2" width="1" height="1" fill="rgb(65, 85, 206)" fill-opacity="0.6"/>
<rect x="232.5" y="191.2" width="1" height="1" fill="rgb(57, 94, 209)" fill-opacity="1.0"/>
<rect x="233.5" y="191.2" width="1" height="1" fill="rgb(42, 177, 206)" fill-opacity="1.0"/>
<rect x="234.5" y="191.2" width="1" height="1" fill="rgb(127, 200, 66)" fill-opacity="1.0"/>
<rect x="235.5" y="191.2" width="1" height="1" fill="rgb(208, 186, 43)" fill-opacity="1.0"/>
<rect x="236.5" y="191.2" width="1" height="1" fill="rgb(205, 188, 44)" fill-opacity="1.0"/>
<rect x="237.5" y="191.2" width="1" height="1" fill="rgb(160, 204, 49)" fill-opacity="1.0"/>
<rect x="238.5" y="191.2" width="1" height="1" fill="rgb(188, 194, 46)" fill-opacity="1.0"/>
<rect x="239.5" y="191.2" width="1" height="1" fill="rgb(188, 194, 46)" fill-opacity="1.0"/>
<rect x="240.5" y="191.2" width="1" height="1" fill="rgb(116, 198, 71)" fill-opacity="1.0"/>
<rect x="241.5" y="191.2" width="1" height="1" fill="rgb(51, 183, 154)" fill-opacity="1.0"/>
<rect x="242.5" y="191.2" width="1" height="1" fill="rgb(46, 107, 214)" fill-opacity="1.0"/>
<rect x="243.5" y="191.2" width="1" height="1" fill="rgb(90, 96, 210)" fill-opacity="0.35"/>
<rect x="220.5" y="192.2" width="1" height="1" fill="rgb(90, 96, 210)" fill-opacity="0.35"/>
<rect x="224.5" y="192.2" width="1" height="1" fill="rgb(65, 85, 206)" fill-opacity="0.6"/>
<rect x="225.5" y="192.2" width="1" height="1" fill="rgb(90, 96, 210)" fill-opacity="0.35"/>
<rect x="226.5" y="192.2" width="1" height="1" fill="rgb(90, 96, 210)" fill-opacity="0.35"/>
<rect x="228.5" y="192.2" width="1" height="1" fill="rgb(90, 96, 210)" fill-opacity="0.35"/>
<rect x="231.5" y="192.2" width="1" height="1" fill="rgb(65, 85, 206)" fill-opacity="0.6"/>
<rect x="232.5" y="192.2" width="1" height="1" fill="rgb(65, 85, 206)" fill-opacity="0.6"/>
<rect x="233.5" y="192.2" width="1" height="1" fill="rgb(40, 175, 221)" fill-opacity="1.0"/>
<rect x="234.5" y="192.2" width="1" height="1" fill="rgb(132, 200, 63)" fill-opacity="1.0"/>
<rect x="235.5" y="192.2" width="1" height="1" fill="rgb(177, 198, 47)" fill-opacity="1.0"/>
<rect x="236.5" y="192.2" width="1" height="1" fill="rgb(198, 190, 45)" fill-opacity="1.0"/>
<rect x="237.5" y="192.2" width="1" height="1" fill="rgb(223, 181, 42)" fill-opacity="1.0"/>
<rect x="238.5" y="192.2" width="1" height="1" fill="rgb(169, 201, 48)" fill-opacity="1.0"/>
<rect x="239.5" y="192.2" width="1" height="1" fill="rgb(116, 198, 71)" fill-opacity="1.0"/>
<rect x="240.5" y="192.2" width="1" height="1" fill="rgb(54, 186, 132)" fill-opacity="1.0"/>
<rect x="241.5" y="192.2" width="1" height="1" fill="rgb(46, 107, 214)" fill-opacity="1.0"/>
<rect x="242.5" y="192.2" width="1" height="1" fill="rgb(57, 94, 209)" fill-opacity="1.0"/>
<rect x="245.5" y="192.2" width="1" height="1" fill="rgb(90, 96, 210)" fill-opacity="0.35"/>
<rect x="246.5" y="192.2" width="1" height="1" fill="rgb(65, 85, 206)" fill-opacity="0.6"/>
<rect x="218.5" y="193.2" width="1" height="1" fill="rgb(65, 85, 206)" fill-opacity="0.6"/>
<rect x="221.5" y="193.2" width="1" height="1" fill="rgb(90, 96, 210)" fill-opacity="0.35"/>
<rect x="225.5" y="193.2" width="1" height="1" fill="rgb(65, 85, 206)" fill-opacity="0.6"/>
<rect x="226.5" y="193.2" width="1" height="1" fill="rgb(90, 96, 210)" fill-opacity="0.35"/>
<rect x="233.5" y="193.2" width="1" height="1" fill="rgb(42, 142, 219)" fill-opacity="1.0"/>
<rect x="234.5" y="193.2" width="1" height="1" fill="rgb(137, 201, 61)" fill-opacity="1.0"/>
<rect x="235.5" y="193.2" width="1" height="1" fill="rgb(165, 203, 49)" fill-opacity="1.0"/>
<rect x="236.5" y="193.2" width="1" height="1" fill="rgb(184, 195, 46)" fill-opacity="1.0"/>
<rect x="237.5" y="193.2" width="1" height="1" fill="rgb(188, 194, 46)" fill-opacity="1.0"/>
<rect x="238.5" y="193.2" width="1" height="1" fill="rgb(137, 201, 61)" fill-opacity="1.0"/>
<rect x="239.5" y="193.2" width="1" height="1" fill="rgb(57, 188, 112)" fill-opacity="1.0"/>
<rect x="240.5" y="193.2" width="1" height="1" fill="rgb(40, 168, 224)" fill-opacity="1.0"/>
<rect x="241.5" y="193.2" width="1" height="1" fill="rgb(65, 85, 206)" fill-opacity="0.6"/>
<rect x="243.5" y="193.2" width="1" height="1" fill="rgb(90, 96, 210)" fill-opacity="0.35"/>
<rect x="228.5" y="194.2" width="1" height="1" fill="rgb(90, 96, 210)" fill-opacity="0.35"/>
<rect x="229.5" y="194.2" width="1" height="1" fill="rgb(90, 96, 210)" fill-opacity="0.35"/>
<rect x="231.5" y="194.2" width="1" height="1" fill="rgb(65, 85, 206)" fill-opacity="0.6"/>
<rect x="232.5" y="194.2" width="1" height="1" fill="rgb(65, 85, 206)" fill-opacity="0.6"/>
<rect x="233.5" y="194.2" width="1" height="1" fill="rgb(51, 102, 212)" fill-opacity="1.0"/>
<rect x="234.5" y="194.2" width="1" height="1" fill="rgb(54, 186, 132)" fill-opacity="1.0"/>
<rect x="235.5" y="194.2" width="1" height="1" fill="rgb(121, 199, 69)" fill-opacity="1.0"/>
<rect x="236.5" y="194.2" width="1" height="1" fill="rgb(177, 198, 47)" fill-opacity="1.0"/>
<rect x="237.5" y="194.2" width="1" height="1" fill="rgb(104, 196, 77)" fill-opacity="1.0"/>
<rect x="238.5" y="194.2" width="1" height="1" fill="rgb(85, 193, 87)" fill-opacity="1.0"/>
<rect x="239.5" y="194.2" width="1" height="1" fill="rgb(54, 186, 132)" fill-opacity="1.0"/>
<rect x="240.5" y="194.2" width="1" height="1" fill="rgb(65, 85, 206)" fill-opacity="0.6"/>
<rect x="243.5" y="194.2" width="1" height="1" fill="rgb(65, 85, 206)" fill-opacity="0.6"/>
<rect x="228.5" y="195.2" width="1" height="1" fill="rgb(90, 96, 210)" fill-opacity="0.35"/>
<rect x="231.5" y="195.2" width="1" height="1" fill="rgb(90, 96, 210)" fill-opacity="0.35"/>
<rect x="232.5" y="195.2" width="1" height="1" fill="rgb(90, 96, 210)" fill-opacity="0.35"/>
<rect x="233.5" y="195.2" width="1" height="1" fill="rgb(65, 85, 206)" fill-opacity="0.6"/>
<rect x="234.5" y="195.2" width="1" height="1" fill="rgb(41, 151, 221)" fill-opacity="1.0"/>
<rect x="235.5" y="195.2" width="1" height="1" fill="rgb(59, 189, 103)" fill-opacity="1.0"/>
<rect x="236.5" y="195.2" width="1" height="1" fill="rgb(53, 184, 143)" fill-opacity="1.0"/>
<rect x="237.5" y="195.2" width="1" height="1" fill="rgb(47, 180, 178)" fill-opacity="1.0"/>
<rect x="238.5" y="195.2" width="1" height="1" fill="rgb(43, 131, 218)" fill-opacity="1.0"/>
<rect x="239.5" y="195.2" width="1" height="1" fill="rgb(65, 85, 206)" fill-opacity="0.6"/>
<rect x="225.5" y="196.2" width="1" height="1" fill="rgb(90, 96, 210)" fill-opacity="0.35"/>
<rect x="226.5" y="196.2" width="1" height="1" fill="rgb(90, 96, 210)" fill-opacity="0.35"/>
<rect x="233.5" y="196.2" width="1" height="1" fill="rgb(90, 96, 210)" fill-opacity="0.35"/>
<rect x="234.5" y="196.2" width="1" height="1" fill="rgb(65, 85, 206)" fill-opacity="0.6"/>
<rect x="235.5" y="196.2" width="1" height="1" fill="rgb(51, 102, 212)" fill-opacity="1.0"/>
<rect x="236.5" y="196.2" width="1" height="1" fill="rgb(44, 118, 216)" fill-opacity="1.0"/>
<rect x="238.5" y="196.2" width="1" height="1" fill="rgb(90, 96, 210)" fill-opacity="0.35"/>
<rect x="240.5" y="196.2" width="1" height="1" fill="rgb(90, 96, 210)" fill-opacity="0.35"/>
<rect x="242.5" y="196.2" width="1" height="1" fill="rgb(90, 96, 210)" fill-opacity="0.35"/>
<rect x="243.5" y="196.2" width="1" height="1" fill="rgb(57, 94, 209)" fill-opacity="1.0"/>
<rect x="244.5" y="196.2" width="1" height="1" fill="rgb(90, 96, 210)" fill-opacity="0.35"/>
<rect x="246.5" y="196.2" width="1" height="1" fill="rgb(90, 96, 210)" fill-opacity="0.35"/>
<rect x="230.5" y="197.2" width="1" height="1" fill="rgb(90, 96, 210)" fill-opacity="0.35"/>
<rect x="236.5" y="197.2" width="1" height="1" fill="rgb(90, 96, 210)" fill-opacity="0.35"/>
<rect x="239.5" y="197.2" width="1" height="1" fill="rgb(90, 96, 210)" fill-opacity="0.35"/>
<rect x="243.5" y="197.2" width="1" height="1" fill="rgb(90, 96, 210)" fill-opacity="0.35"/>
<rect x="220.5" y="198.2" width="1" height="1" fill="rgb(90, 96, 210)" fill-opacity="0.35"/>
<rect x="232.5" y="198.2" width="1" height="1" fill="rgb(90, 96, 210)" fill-opacity="0.35"/>
<rect x="240.5" y="198.2" width="1" height="1" fill="rgb(90, 96, 210)" fill-opacity="0.35"/>
<rect x="251.5" y="198.2" width="1" height="1" fill="rgb(90, 96, 210)" fill-opacity="0.35"/>
<rect x="231.5" y="199.2" width="1" height="1" fill="rgb(90, 96, 210)" fill-opacity="0.35"/>
<rect x="235.5" y="199.2" width="1" height="1" fill="rgb(90, 96, 210)" fill-opacity="0.35"/>
<rect x="227.30" y="172.70" width="23.60" height="26.80" fill="none" stroke="#777" stroke-width="0.5"/>
<text transform="translate(193.10 198.20) rotate(-90) scale(0.6618 1)" text-anchor="middle" font-size="7.1" fill="#333" stroke="#333" stroke-width="0.12">CD3</text>
<line x1="194.40" y1="204.60" x2="194.40" y2="188.60" stroke="#999" stroke-width="0.7"/>
<polygon points="194.40,186.70 193.40,188.90 195.40,188.90" fill="#111"/>
<text transform="translate(202.90 215.20) scale(0.6721 1)" font-size="7.1" fill="#333" stroke="#333" stroke-width="0.12">CD56</text>
<line x1="202.90" y1="208.50" x2="217.00" y2="208.50" stroke="#444" stroke-width="0.8"/>
<polygon points="219.3,208.5 216.7,207.5 216.7,209.5" fill="#111"/>
<rect x="205.70" y="217.30" width="47.00" height="47.00" fill="#fff" stroke="#222" stroke-width="1.4"/>
<line x1="203.90" y1="221.70" x2="205.70" y2="221.70" stroke="#222" stroke-width="0.7"/>
<text transform="translate(202.30 223.20) scale(0.8500 1)" text-anchor="end" font-size="4.3" fill="#666" stroke="#666" stroke-width="0.12">10⁵</text>
<line x1="203.90" y1="234.20" x2="205.70" y2="234.20" stroke="#222" stroke-width="0.7"/>
<text transform="translate(202.30 235.70) scale(0.8500 1)" text-anchor="end" font-size="4.3" fill="#666" stroke="#666" stroke-width="0.12">10⁴</text>
<line x1="203.90" y1="246.60" x2="205.70" y2="246.60" stroke="#222" stroke-width="0.7"/>
<text transform="translate(202.30 248.10) scale(0.8500 1)" text-anchor="end" font-size="4.3" fill="#666" stroke="#666" stroke-width="0.12">10³</text>
<line x1="203.90" y1="255.30" x2="205.70" y2="255.30" stroke="#222" stroke-width="0.7"/>
<text transform="translate(202.30 256.80) scale(0.8500 1)" text-anchor="end" font-size="4.3" fill="#666" stroke="#666" stroke-width="0.12">0</text>
<line x1="203.90" y1="264.40" x2="205.70" y2="264.40" stroke="#222" stroke-width="0.7"/>
<text transform="translate(202.30 265.90) scale(0.8500 1)" text-anchor="end" font-size="4.3" fill="#666" stroke="#666" stroke-width="0.12">-10³</text>
<line x1="211.50" y1="264.30" x2="211.50" y2="266.10" stroke="#222" stroke-width="0.7"/>
<text transform="translate(211.50 270.50) scale(0.8500 1)" text-anchor="middle" font-size="4.3" fill="#666" stroke="#666" stroke-width="0.12">-10³</text>
<line x1="217.50" y1="264.30" x2="217.50" y2="266.10" stroke="#222" stroke-width="0.7"/>
<text transform="translate(217.50 270.50) scale(0.8500 1)" text-anchor="middle" font-size="4.3" fill="#666" stroke="#666" stroke-width="0.12">0</text>
<line x1="223.90" y1="264.30" x2="223.90" y2="266.10" stroke="#222" stroke-width="0.7"/>
<text transform="translate(223.90 270.50) scale(0.8500 1)" text-anchor="middle" font-size="4.3" fill="#666" stroke="#666" stroke-width="0.12">10³</text>
<line x1="238.20" y1="264.30" x2="238.20" y2="266.10" stroke="#222" stroke-width="0.7"/>
<text transform="translate(238.20 270.50) scale(0.8500 1)" text-anchor="middle" font-size="4.3" fill="#666" stroke="#666" stroke-width="0.12">10⁴</text>
<line x1="249.20" y1="264.30" x2="249.20" y2="266.10" stroke="#222" stroke-width="0.7"/>
<text transform="translate(249.20 270.50) scale(0.8500 1)" text-anchor="middle" font-size="4.3" fill="#666" stroke="#666" stroke-width="0.12">10⁵</text>
<rect x="223.5" y="226.1" width="1" height="1" fill="rgb(88, 95, 210)" fill-opacity="0.35"/>
<rect x="229.5" y="226.1" width="1" height="1" fill="rgb(88, 95, 210)" fill-opacity="0.35"/>
<rect x="237.5" y="226.1" width="1" height="1" fill="rgb(88, 95, 210)" fill-opacity="0.35"/>
<rect x="238.5" y="226.1" width="1" height="1" fill="rgb(88, 95, 210)" fill-opacity="0.35"/>
<rect x="223.5" y="227.1" width="1" height="1" fill="rgb(88, 95, 210)" fill-opacity="0.35"/>
<rect x="224.5" y="227.1" width="1" height="1" fill="rgb(88, 95, 210)" fill-opacity="0.35"/>
<rect x="226.5" y="227.1" width="1" height="1" fill="rgb(88, 95, 210)" fill-opacity="0.35"/>
<rect x="240.5" y="227.1" width="1" height="1" fill="rgb(88, 95, 210)" fill-opacity="0.35"/>
<rect x="228.5" y="228.1" width="1" height="1" fill="rgb(88, 95, 210)" fill-opacity="0.35"/>
<rect x="230.5" y="228.1" width="1" height="1" fill="rgb(88, 95, 210)" fill-opacity="0.35"/>
<rect x="221.5" y="229.1" width="1" height="1" fill="rgb(88, 95, 210)" fill-opacity="0.35"/>
<rect x="225.5" y="229.1" width="1" height="1" fill="rgb(88, 95, 210)" fill-opacity="0.35"/>
<rect x="231.5" y="229.1" width="1" height="1" fill="rgb(88, 95, 210)" fill-opacity="0.35"/>
<rect x="242.5" y="229.1" width="1" height="1" fill="rgb(88, 95, 210)" fill-opacity="0.35"/>
<rect x="238.5" y="230.1" width="1" height="1" fill="rgb(88, 95, 210)" fill-opacity="0.35"/>
<rect x="239.5" y="230.1" width="1" height="1" fill="rgb(88, 95, 210)" fill-opacity="0.35"/>
<rect x="228.5" y="231.1" width="1" height="1" fill="rgb(64, 86, 207)" fill-opacity="0.6"/>
<rect x="232.5" y="231.1" width="1" height="1" fill="rgb(88, 95, 210)" fill-opacity="0.35"/>
<rect x="233.5" y="231.1" width="1" height="1" fill="rgb(88, 95, 210)" fill-opacity="0.35"/>
<rect x="239.5" y="231.1" width="1" height="1" fill="rgb(88, 95, 210)" fill-opacity="0.35"/>
<rect x="242.5" y="231.1" width="1" height="1" fill="rgb(88, 95, 210)" fill-opacity="0.35"/>
<rect x="221.5" y="232.1" width="1" height="1" fill="rgb(88, 95, 210)" fill-opacity="0.35"/>
<rect x="233.5" y="232.1" width="1" height="1" fill="rgb(88, 95, 210)" fill-opacity="0.35"/>
<rect x="237.5" y="232.1" width="1" height="1" fill="rgb(88, 95, 210)" fill-opacity="0.35"/>
<rect x="239.5" y="232.1" width="1" height="1" fill="rgb(88, 95, 210)" fill-opacity="0.35"/>
<rect x="216.5" y="233.1" width="1" height="1" fill="rgb(88, 95, 210)" fill-opacity="0.35"/>
<rect x="225.5" y="233.1" width="1" height="1" fill="rgb(88, 95, 210)" fill-opacity="0.35"/>
<rect x="230.5" y="233.1" width="1" height="1" fill="rgb(88, 95, 210)" fill-opacity="0.35"/>
<rect x="237.5" y="233.1" width="1" height="1" fill="rgb(56, 95, 210)" fill-opacity="1.0"/>
<rect x="239.5" y="233.1" width="1" height="1" fill="rgb(64, 86, 207)" fill-opacity="0.6"/>
<rect x="241.5" y="233.1" width="1" height="1" fill="rgb(88, 95, 210)" fill-opacity="0.35"/>
<rect x="242.5" y="233.1" width="1" height="1" fill="rgb(88, 95, 210)" fill-opacity="0.35"/>
<rect x="214.5" y="234.1" width="1" height="1" fill="rgb(88, 95, 210)" fill-opacity="0.35"/>
<rect x="230.5" y="234.1" width="1" height="1" fill="rgb(88, 95, 210)" fill-opacity="0.35"/>
<rect x="233.5" y="234.1" width="1" height="1" fill="rgb(88, 95, 210)" fill-opacity="0.35"/>
<rect x="236.5" y="234.1" width="1" height="1" fill="rgb(88, 95, 210)" fill-opacity="0.35"/>
<rect x="243.5" y="234.1" width="1" height="1" fill="rgb(88, 95, 210)" fill-opacity="0.35"/>
<rect x="222.5" y="235.1" width="1" height="1" fill="rgb(88, 95, 210)" fill-opacity="0.35"/>
<rect x="223.5" y="235.1" width="1" height="1" fill="rgb(88, 95, 210)" fill-opacity="0.35"/>
<rect x="228.5" y="235.1" width="1" height="1" fill="rgb(64, 86, 207)" fill-opacity="0.6"/>
<rect x="233.5" y="235.1" width="1" height="1" fill="rgb(88, 95, 210)" fill-opacity="0.35"/>
<rect x="241.5" y="235.1" width="1" height="1" fill="rgb(88, 95, 210)" fill-opacity="0.35"/>
<rect x="212.5" y="236.1" width="1" height="1" fill="rgb(88, 95, 210)" fill-opacity="0.35"/>
<rect x="222.5" y="236.1" width="1" height="1" fill="rgb(88, 95, 210)" fill-opacity="0.35"/>
<rect x="231.5" y="236.1" width="1" height="1" fill="rgb(88, 95, 210)" fill-opacity="0.35"/>
<rect x="233.5" y="236.1" width="1" height="1" fill="rgb(88, 95, 210)" fill-opacity="0.35"/>
<rect x="235.5" y="236.1" width="1" height="1" fill="rgb(88, 95, 210)" fill-opacity="0.35"/>
<rect x="242.5" y="236.1" width="1" height="1" fill="rgb(88, 95, 210)" fill-opacity="0.35"/>
<rect x="243.5" y="236.1" width="1" height="1" fill="rgb(88, 95, 210)" fill-opacity="0.35"/>
<rect x="228.5" y="237.1" width="1" height="1" fill="rgb(88, 95, 210)" fill-opacity="0.35"/>
<rect x="233.5" y="237.1" width="1" height="1" fill="rgb(88, 95, 210)" fill-opacity="0.35"/>
<rect x="239.5" y="237.1" width="1" height="1" fill="rgb(88, 95, 210)" fill-opacity="0.35"/>
<rect x="241.5" y="237.1" width="1" height="1" fill="rgb(88, 95, 210)" fill-opacity="0.35"/>
<rect x="245.5" y="237.1" width="1" height="1" fill="rgb(88, 95, 210)" fill-opacity="0.35"/>
<rect x="215.5" y="238.1" width="1" height="1" fill="rgb(88, 95, 210)" fill-opacity="0.35"/>
<rect x="217.5" y="238.1" width="1" height="1" fill="rgb(88, 95, 210)" fill-opacity="0.35"/>
<rect x="218.5" y="238.1" width="1" height="1" fill="rgb(88, 95, 210)" fill-opacity="0.35"/>
<rect x="222.5" y="238.1" width="1" height="1" fill="rgb(64, 86, 207)" fill-opacity="0.6"/>
<rect x="223.5" y="238.1" width="1" height="1" fill="rgb(88, 95, 210)" fill-opacity="0.35"/>
<rect x="226.5" y="238.1" width="1" height="1" fill="rgb(88, 95, 210)" fill-opacity="0.35"/>
<rect x="228.5" y="238.1" width="1" height="1" fill="rgb(88, 95, 210)" fill-opacity="0.35"/>
<rect x="229.5" y="238.1" width="1" height="1" fill="rgb(88, 95, 210)" fill-opacity="0.35"/>
<rect x="230.5" y="238.1" width="1" height="1" fill="rgb(88, 95, 210)" fill-opacity="0.35"/>
<rect x="235.5" y="238.1" width="1" height="1" fill="rgb(88, 95, 210)" fill-opacity="0.35"/>
<rect x="237.5" y="238.1" width="1" height="1" fill="rgb(88, 95, 210)" fill-opacity="0.35"/>
<rect x="209.5" y="239.1" width="1" height="1" fill="rgb(88, 95, 210)" fill-opacity="0.35"/>
<rect x="215.5" y="239.1" width="1" height="1" fill="rgb(88, 95, 210)" fill-opacity="0.35"/>
<rect x="219.5" y="239.1" width="1" height="1" fill="rgb(88, 95, 210)" fill-opacity="0.35"/>
<rect x="221.5" y="239.1" width="1" height="1" fill="rgb(88, 95, 210)" fill-opacity="0.35"/>
<rect x="224.5" y="239.1" width="1" height="1" fill="rgb(64, 86, 207)" fill-opacity="0.6"/>
<rect x="225.5" y="239.1" width="1" height="1" fill="rgb(88, 95, 210)" fill-opacity="0.35"/>
<rect x="230.5" y="239.1" width="1" height="1" fill="rgb(88, 95, 210)" fill-opacity="0.35"/>
<rect x="233.5" y="239.1" width="1" height="1" fill="rgb(88, 95, 210)" fill-opacity="0.35"/>
<rect x="235.5" y="239.1" width="1" height="1" fill="rgb(88, 95, 210)" fill-opacity="0.35"/>
<rect x="241.5" y="239.1" width="1" height="1" fill="rgb(88, 95, 210)" fill-opacity="0.35"/>
<rect x="206.5" y="240.1" width="1" height="1" fill="rgb(88, 95, 210)" fill-opacity="0.35"/>
<rect x="217.5" y="240.1" width="1" height="1" fill="rgb(88, 95, 210)" fill-opacity="0.35"/>
<rect x="221.5" y="240.1" width="1" height="1" fill="rgb(88, 95, 210)" fill-opacity="0.35"/>
<rect x="222.5" y="240.1" width="1" height="1" fill="rgb(88, 95, 210)" fill-opacity="0.35"/>
<rect x="223.5" y="240.1" width="1" height="1" fill="rgb(88, 95, 210)" fill-opacity="0.35"/>
<rect x="227.5" y="240.1" width="1" height="1" fill="rgb(88, 95, 210)" fill-opacity="0.35"/>
<rect x="231.5" y="240.1" width="1" height="1" fill="rgb(88, 95, 210)" fill-opacity="0.35"/>
<rect x="232.5" y="240.1" width="1" height="1" fill="rgb(88, 95, 210)" fill-opacity="0.35"/>
<rect x="237.5" y="240.1" width="1" height="1" fill="rgb(64, 86, 207)" fill-opacity="0.6"/>
<rect x="241.5" y="240.1" width="1" height="1" fill="rgb(88, 95, 210)" fill-opacity="0.35"/>
<rect x="207.5" y="241.1" width="1" height="1" fill="rgb(88, 95, 210)" fill-opacity="0.35"/>
<rect x="211.5" y="241.1" width="1" height="1" fill="rgb(64, 86, 207)" fill-opacity="0.6"/>
<rect x="213.5" y="241.1" width="1" height="1" fill="rgb(88, 95, 210)" fill-opacity="0.35"/>
<rect x="214.5" y="241.1" width="1" height="1" fill="rgb(88, 95, 210)" fill-opacity="0.35"/>
<rect x="215.5" y="241.1" width="1" height="1" fill="rgb(88, 95, 210)" fill-opacity="0.35"/>
<rect x="218.5" y="241.1" width="1" height="1" fill="rgb(88, 95, 210)" fill-opacity="0.35"/>
<rect x="219.5" y="241.1" width="1" height="1" fill="rgb(88, 95, 210)" fill-opacity="0.35"/>
<rect x="221.5" y="241.1" width="1" height="1" fill="rgb(56, 95, 210)" fill-opacity="1.0"/>
<rect x="224.5" y="241.1" width="1" height="1" fill="rgb(88, 95, 210)" fill-opacity="0.35"/>
<rect x="227.5" y="241.1" width="1" height="1" fill="rgb(88, 95, 210)" fill-opacity="0.35"/>
<rect x="231.5" y="241.1" width="1" height="1" fill="rgb(88, 95, 210)" fill-opacity="0.35"/>
<rect x="232.5" y="241.1" width="1" height="1" fill="rgb(88, 95, 210)" fill-opacity="0.35"/>
<rect x="237.5" y="241.1" width="1" height="1" fill="rgb(88, 95, 210)" fill-opacity="0.35"/>
<rect x="238.5" y="241.1" width="1" height="1" fill="rgb(88, 95, 210)" fill-opacity="0.35"/>
<rect x="244.5" y="241.1" width="1" height="1" fill="rgb(88, 95, 210)" fill-opacity="0.35"/>
<rect x="211.5" y="242.1" width="1" height="1" fill="rgb(88, 95, 210)" fill-opacity="0.35"/>
<rect x="215.5" y="242.1" width="1" height="1" fill="rgb(88, 95, 210)" fill-opacity="0.35"/>
<rect x="217.5" y="242.1" width="1" height="1" fill="rgb(88, 95, 210)" fill-opacity="0.35"/>
<rect x="219.5" y="242.1" width="1" height="1" fill="rgb(88, 95, 210)" fill-opacity="0.35"/>
<rect x="220.5" y="242.1" width="1" height="1" fill="rgb(88, 95, 210)" fill-opacity="0.35"/>
<rect x="226.5" y="242.1" width="1" height="1" fill="rgb(88, 95, 210)" fill-opacity="0.35"/>
<rect x="227.5" y="242.1" width="1" height="1" fill="rgb(56, 95, 210)" fill-opacity="1.0"/>
<rect x="228.5" y="242.1" width="1" height="1" fill="rgb(64, 86, 207)" fill-opacity="0.6"/>
<rect x="232.5" y="242.1" width="1" height="1" fill="rgb(88, 95, 210)" fill-opacity="0.35"/>
<rect x="233.5" y="242.1" width="1" height="1" fill="rgb(88, 95, 210)" fill-opacity="0.35"/>
<rect x="235.5" y="242.1" width="1" height="1" fill="rgb(88, 95, 210)" fill-opacity="0.35"/>
<rect x="237.5" y="242.1" width="1" height="1" fill="rgb(88, 95, 210)" fill-opacity="0.35"/>
<rect x="240.5" y="242.1" width="1" height="1" fill="rgb(88, 95, 210)" fill-opacity="0.35"/>
<rect x="242.5" y="242.1" width="1" height="1" fill="rgb(88, 95, 210)" fill-opacity="0.35"/>
<rect x="216.5" y="243.1" width="1" height="1" fill="rgb(88, 95, 210)" fill-opacity="0.35"/>
<rect x="219.5" y="243.1" width="1" height="1" fill="rgb(56, 95, 210)" fill-opacity="1.0"/>
<rect x="223.5" y="243.1" width="1" height="1" fill="rgb(88, 95, 210)" fill-opacity="0.35"/>
<rect x="224.5" y="243.1" width="1" height="1" fill="rgb(88, 95, 210)" fill-opacity="0.35"/>
<rect x="225.5" y="243.1" width="1" height="1" fill="rgb(88, 95, 210)" fill-opacity="0.35"/>
<rect x="226.5" y="243.1" width="1" height="1" fill="rgb(56, 95, 210)" fill-opacity="1.0"/>
<rect x="230.5" y="243.1" width="1" height="1" fill="rgb(88, 95, 210)" fill-opacity="0.35"/>
<rect x="231.5" y="243.1" width="1" height="1" fill="rgb(88, 95, 210)" fill-opacity="0.35"/>
<rect x="232.5" y="243.1" width="1" height="1" fill="rgb(88, 95, 210)" fill-opacity="0.35"/>
<rect x="234.5" y="243.1" width="1" height="1" fill="rgb(88, 95, 210)" fill-opacity="0.35"/>
<rect x="237.5" y="243.1" width="1" height="1" fill="rgb(88, 95, 210)" fill-opacity="0.35"/>
<rect x="238.5" y="243.1" width="1" height="1" fill="rgb(88, 95, 210)" fill-opacity="0.35"/>
<rect x="215.5" y="244.1" width="1" height="1" fill="rgb(64, 86, 207)" fill-opacity="0.6"/>
<rect x="216.5" y="244.1" width="1" height="1" fill="rgb(64, 86, 207)" fill-opacity="0.6"/>
<rect x="217.5" y="244.1" width="1" height="1" fill="rgb(56, 95, 210)" fill-opacity="1.0"/>
<rect x="218.5" y="244.1" width="1" height="1" fill="rgb(64, 86, 207)" fill-opacity="0.6"/>
<rect x="221.5" y="244.1" width="1" height="1" fill="rgb(88, 95, 210)" fill-opacity="0.35"/>
<rect x="222.5" y="244.1" width="1" height="1" fill="rgb(56, 95, 210)" fill-opacity="1.0"/>
<rect x="223.5" y="244.1" width="1" height="1" fill="rgb(56, 95, 210)" fill-opacity="1.0"/>
<rect x="225.5" y="244.1" width="1" height="1" fill="rgb(50, 103, 212)" fill-opacity="1.0"/>
<rect x="227.5" y="244.1" width="1" height="1" fill="rgb(56, 95, 210)" fill-opacity="1.0"/>
<rect x="230.5" y="244.1" width="1" height="1" fill="rgb(64, 86, 207)" fill-opacity="0.6"/>
<rect x="231.5" y="244.1" width="1" height="1" fill="rgb(88, 95, 210)" fill-opacity="0.35"/>
<rect x="232.5" y="244.1" width="1" height="1" fill="rgb(64, 86, 207)" fill-opacity="0.6"/>
<rect x="234.5" y="244.1" width="1" height="1" fill="rgb(64, 86, 207)" fill-opacity="0.6"/>
<rect x="235.5" y="244.1" width="1" height="1" fill="rgb(88, 95, 210)" fill-opacity="0.35"/>
<rect x="238.5" y="244.1" width="1" height="1" fill="rgb(88, 95, 210)" fill-opacity="0.35"/>
<rect x="239.5" y="244.1" width="1" height="1" fill="rgb(64, 86, 207)" fill-opacity="0.6"/>
<rect x="241.5" y="244.1" width="1" height="1" fill="rgb(88, 95, 210)" fill-opacity="0.35"/>
<rect x="247.5" y="244.1" width="1" height="1" fill="rgb(88, 95, 210)" fill-opacity="0.35"/>
<rect x="206.5" y="245.1" width="1" height="1" fill="rgb(88, 95, 210)" fill-opacity="0.35"/>
<rect x="216.5" y="245.1" width="1" height="1" fill="rgb(88, 95, 210)" fill-opacity="0.35"/>
<rect x="217.5" y="245.1" width="1" height="1" fill="rgb(64, 86, 207)" fill-opacity="0.6"/>
<rect x="218.5" y="245.1" width="1" height="1" fill="rgb(88, 95, 210)" fill-opacity="0.35"/>
<rect x="221.5" y="245.1" width="1" height="1" fill="rgb(88, 95, 210)" fill-opacity="0.35"/>
<rect x="222.5" y="245.1" width="1" height="1" fill="rgb(56, 95, 210)" fill-opacity="1.0"/>
<rect x="227.5" y="245.1" width="1" height="1" fill="rgb(88, 95, 210)" fill-opacity="0.35"/>
<rect x="228.5" y="245.1" width="1" height="1" fill="rgb(88, 95, 210)" fill-opacity="0.35"/>
<rect x="229.5" y="245.1" width="1" height="1" fill="rgb(64, 86, 207)" fill-opacity="0.6"/>
<rect x="231.5" y="245.1" width="1" height="1" fill="rgb(88, 95, 210)" fill-opacity="0.35"/>
<rect x="232.5" y="245.1" width="1" height="1" fill="rgb(64, 86, 207)" fill-opacity="0.6"/>
<rect x="233.5" y="245.1" width="1" height="1" fill="rgb(88, 95, 210)" fill-opacity="0.35"/>
<rect x="236.5" y="245.1" width="1" height="1" fill="rgb(64, 86, 207)" fill-opacity="0.6"/>
<rect x="242.5" y="245.1" width="1" height="1" fill="rgb(88, 95, 210)" fill-opacity="0.35"/>
<rect x="244.5" y="245.1" width="1" height="1" fill="rgb(88, 95, 210)" fill-opacity="0.35"/>
<rect x="208.5" y="246.1" width="1" height="1" fill="rgb(88, 95, 210)" fill-opacity="0.35"/>
<rect x="209.5" y="246.1" width="1" height="1" fill="rgb(88, 95, 210)" fill-opacity="0.35"/>
<rect x="211.5" y="246.1" width="1" height="1" fill="rgb(88, 95, 210)" fill-opacity="0.35"/>
<rect x="212.5" y="246.1" width="1" height="1" fill="rgb(64, 86, 207)" fill-opacity="0.6"/>
<rect x="213.5" y="246.1" width="1" height="1" fill="rgb(88, 95, 210)" fill-opacity="0.35"/>
<rect x="214.5" y="246.1" width="1" height="1" fill="rgb(88, 95, 210)" fill-opacity="0.35"/>
<rect x="215.5" y="246.1" width="1" height="1" fill="rgb(88, 95, 210)" fill-opacity="0.35"/>
<rect x="216.5" y="246.1" width="1" height="1" fill="rgb(88, 95, 210)" fill-opacity="0.35"/>
<rect x="217.5" y="246.1" width="1" height="1" fill="rgb(88, 95, 210)" fill-opacity="0.35"/>
<rect x="218.5" y="246.1" width="1" height="1" fill="rgb(56, 95, 210)" fill-opacity="1.0"/>
<rect x="219.5" y="246.1" width="1" height="1" fill="rgb(64, 86, 207)" fill-opacity="0.6"/>
<rect x="220.5" y="246.1" width="1" height="1" fill="rgb(88, 95, 210)" fill-opacity="0.35"/>
<rect x="225.5" y="246.1" width="1" height="1" fill="rgb(64, 86, 207)" fill-opacity="0.6"/>
<rect x="228.5" y="246.1" width="1" height="1" fill="rgb(88, 95, 210)" fill-opacity="0.35"/>
<rect x="230.5" y="246.1" width="1" height="1" fill="rgb(88, 95, 210)" fill-opacity="0.35"/>
<rect x="232.5" y="246.1" width="1" height="1" fill="rgb(56, 95, 210)" fill-opacity="1.0"/>
<rect x="233.5" y="246.1" width="1" height="1" fill="rgb(88, 95, 210)" fill-opacity="0.35"/>
<rect x="234.5" y="246.1" width="1" height="1" fill="rgb(88, 95, 210)" fill-opacity="0.35"/>
<rect x="235.5" y="246.1" width="1" height="1" fill="rgb(88, 95, 210)" fill-opacity="0.35"/>
<rect x="236.5" y="246.1" width="1" height="1" fill="rgb(56, 95, 210)" fill-opacity="1.0"/>
<rect x="237.5" y="246.1" width="1" height="1" fill="rgb(88, 95, 210)" fill-opacity="0.35"/>
<rect x="238.5" y="246.1" width="1" height="1" fill="rgb(56, 95, 210)" fill-opacity="1.0"/>
<rect x="211.5" y="247.1" width="1" height="1" fill="rgb(88, 95, 210)" fill-opacity="0.35"/>
<rect x="213.5" y="247.1" width="1" height="1" fill="rgb(88, 95, 210)" fill-opacity="0.35"/>
<rect x="214.5" y="247.1" width="1" height="1" fill="rgb(88, 95, 210)" fill-opacity="0.35"/>
<rect x="215.5" y="247.1" width="1" height="1" fill="rgb(50, 103, 212)" fill-opacity="1.0"/>
<rect x="216.5" y="247.1" width="1" height="1" fill="rgb(88, 95, 210)" fill-opacity="0.35"/>
<rect x="217.5" y="247.1" width="1" height="1" fill="rgb(45, 109, 214)" fill-opacity="1.0"/>
<rect x="218.5" y="247.1" width="1" height="1" fill="rgb(64, 86, 207)" fill-opacity="0.6"/>
<rect x="220.5" y="247.1" width="1" height="1" fill="rgb(88, 95, 210)" fill-opacity="0.35"/>
<rect x="221.5" y="247.1" width="1" height="1" fill="rgb(45, 109, 214)" fill-opacity="1.0"/>
<rect x="222.5" y="247.1" width="1" height="1" fill="rgb(50, 103, 212)" fill-opacity="1.0"/>
<rect x="223.5" y="247.1" width="1" height="1" fill="rgb(56, 95, 210)" fill-opacity="1.0"/>
<rect x="224.5" y="247.1" width="1" height="1" fill="rgb(88, 95, 210)" fill-opacity="0.35"/>
<rect x="225.5" y="247.1" width="1" height="1" fill="rgb(88, 95, 210)" fill-opacity="0.35"/>
<rect x="226.5" y="247.1" width="1" height="1" fill="rgb(64, 86, 207)" fill-opacity="0.6"/>
<rect x="228.5" y="247.1" width="1" height="1" fill="rgb(88, 95, 210)" fill-opacity="0.35"/>
<rect x="229.5" y="247.1" width="1" height="1" fill="rgb(56, 95, 210)" fill-opacity="1.0"/>
<rect x="230.5" y="247.1" width="1" height="1" fill="rgb(56, 95, 210)" fill-opacity="1.0"/>
<rect x="231.5" y="247.1" width="1" height="1" fill="rgb(64, 86, 207)" fill-opacity="0.6"/>
<rect x="232.5" y="247.1" width="1" height="1" fill="rgb(45, 109, 214)" fill-opacity="1.0"/>
<rect x="233.5" y="247.1" width="1" height="1" fill="rgb(56, 95, 210)" fill-opacity="1.0"/>
<rect x="234.5" y="247.1" width="1" height="1" fill="rgb(88, 95, 210)" fill-opacity="0.35"/>
<rect x="238.5" y="247.1" width="1" height="1" fill="rgb(88, 95, 210)" fill-opacity="0.35"/>
<rect x="210.5" y="248.1" width="1" height="1" fill="rgb(56, 95, 210)" fill-opacity="1.0"/>
<rect x="211.5" y="248.1" width="1" height="1" fill="rgb(64, 86, 207)" fill-opacity="0.6"/>
<rect x="212.5" y="248.1" width="1" height="1" fill="rgb(64, 86, 207)" fill-opacity="0.6"/>
<rect x="213.5" y="248.1" width="1" height="1" fill="rgb(88, 95, 210)" fill-opacity="0.35"/>
<rect x="214.5" y="248.1" width="1" height="1" fill="rgb(88, 95, 210)" fill-opacity="0.35"/>
<rect x="215.5" y="248.1" width="1" height="1" fill="rgb(56, 95, 210)" fill-opacity="1.0"/>
<rect x="216.5" y="248.1" width="1" height="1" fill="rgb(56, 95, 210)" fill-opacity="1.0"/>
<rect x="217.5" y="248.1" width="1" height="1" fill="rgb(64, 86, 207)" fill-opacity="0.6"/>
<rect x="218.5" y="248.1" width="1" height="1" fill="rgb(50, 103, 212)" fill-opacity="1.0"/>
<rect x="219.5" y="248.1" width="1" height="1" fill="rgb(50, 103, 212)" fill-opacity="1.0"/>
<rect x="220.5" y="248.1" width="1" height="1" fill="rgb(56, 95, 210)" fill-opacity="1.0"/>
<rect x="221.5" y="248.1" width="1" height="1" fill="rgb(64, 86, 207)" fill-opacity="0.6"/>
<rect x="222.5" y="248.1" width="1" height="1" fill="rgb(88, 95, 210)" fill-opacity="0.35"/>
<rect x="223.5" y="248.1" width="1" height="1" fill="rgb(64, 86, 207)" fill-opacity="0.6"/>
<rect x="224.5" y="248.1" width="1" height="1" fill="rgb(50, 103, 212)" fill-opacity="1.0"/>
<rect x="225.5" y="248.1" width="1" height="1" fill="rgb(64, 86, 207)" fill-opacity="0.6"/>
<rect x="226.5" y="248.1" width="1" height="1" fill="rgb(88, 95, 210)" fill-opacity="0.35"/>
<rect x="227.5" y="248.1" width="1" height="1" fill="rgb(56, 95, 210)" fill-opacity="1.0"/>
<rect x="228.5" y="248.1" width="1" height="1" fill="rgb(64, 86, 207)" fill-opacity="0.6"/>
<rect x="229.5" y="248.1" width="1" height="1" fill="rgb(50, 103, 212)" fill-opacity="1.0"/>
<rect x="230.5" y="248.1" width="1" height="1" fill="rgb(45, 109, 214)" fill-opacity="1.0"/>
<rect x="231.5" y="248.1" width="1" height="1" fill="rgb(56, 95, 210)" fill-opacity="1.0"/>
<rect x="232.5" y="248.1" width="1" height="1" fill="rgb(88, 95, 210)" fill-opacity="0.35"/>
<rect x="233.5" y="248.1" width="1" height="1" fill="rgb(44, 122, 216)" fill-opacity="1.0"/>
<rect x="234.5" y="248.1" width="1" height="1" fill="rgb(64, 86, 207)" fill-opacity="0.6"/>
<rect x="236.5" y="248.1" width="1" height="1" fill="rgb(64, 86, 207)" fill-opacity="0.6"/>
<rect x="237.5" y="248.1" width="1" height="1" fill="rgb(88, 95, 210)" fill-opacity="0.35"/>
<rect x="238.5" y="248.1" width="1" height="1" fill="rgb(88, 95, 210)" fill-opacity="0.35"/>
<rect x="239.5" y="248.1" width="1" height="1" fill="rgb(88, 95, 210)" fill-opacity="0.35"/>
<rect x="243.5" y="248.1" width="1" height="1" fill="rgb(88, 95, 210)" fill-opacity="0.35"/>
<rect x="206.5" y="249.1" width="1" height="1" fill="rgb(88, 95, 210)" fill-opacity="0.35"/>
<rect x="211.5" y="249.1" width="1" height="1" fill="rgb(88, 95, 210)" fill-opacity="0.35"/>
<rect x="213.5" y="249.1" width="1" height="1" fill="rgb(64, 86, 207)" fill-opacity="0.6"/>
<rect x="214.5" y="249.1" width="1" height="1" fill="rgb(88, 95, 210)" fill-opacity="0.35"/>
<rect x="215.5" y="249.1" width="1" height="1" fill="rgb(88, 95, 210)" fill-opacity="0.35"/>
<rect x="216.5" y="249.1" width="1" height="1" fill="rgb(45, 109, 214)" fill-opacity="1.0"/>
<rect x="217.5" y="249.1" width="1" height="1" fill="rgb(45, 109, 214)" fill-opacity="1.0"/>
<rect x="218.5" y="249.1" width="1" height="1" fill="rgb(43, 135, 218)" fill-opacity="1.0"/>
<rect x="219.5" y="249.1" width="1" height="1" fill="rgb(42, 146, 220)" fill-opacity="1.0"/>
<rect x="220.5" y="249.1" width="1" height="1" fill="rgb(45, 109, 214)" fill-opacity="1.0"/>
<rect x="221.5" y="249.1" width="1" height="1" fill="rgb(44, 122, 216)" fill-opacity="1.0"/>
<rect x="223.5" y="249.1" width="1" height="1" fill="rgb(40, 165, 223)" fill-opacity="1.0"/>
<rect x="224.5" y="249.1" width="1" height="1" fill="rgb(88, 95, 210)" fill-opacity="0.35"/>
<rect x="225.5" y="249.1" width="1" height="1" fill="rgb(50, 103, 212)" fill-opacity="1.0"/>
<rect x="226.5" y="249.1" width="1" height="1" fill="rgb(44, 122, 216)" fill-opacity="1.0"/>
<rect x="227.5" y="249.1" width="1" height="1" fill="rgb(50, 103, 212)" fill-opacity="1.0"/>
<rect x="228.5" y="249.1" width="1" height="1" fill="rgb(45, 109, 214)" fill-opacity="1.0"/>
<rect x="229.5" y="249.1" width="1" height="1" fill="rgb(64, 86, 207)" fill-opacity="0.6"/>
<rect x="230.5" y="249.1" width="1" height="1" fill="rgb(56, 95, 210)" fill-opacity="1.0"/>
<rect x="231.5" y="249.1" width="1" height="1" fill="rgb(50, 103, 212)" fill-opacity="1.0"/>
<rect x="232.5" y="249.1" width="1" height="1" fill="rgb(50, 103, 212)" fill-opacity="1.0"/>
<rect x="233.5" y="249.1" width="1" height="1" fill="rgb(56, 95, 210)" fill-opacity="1.0"/>
<rect x="234.5" y="249.1" width="1" height="1" fill="rgb(50, 103, 212)" fill-opacity="1.0"/>
<rect x="235.5" y="249.1" width="1" height="1" fill="rgb(88, 95, 210)" fill-opacity="0.35"/>
<rect x="236.5" y="249.1" width="1" height="1" fill="rgb(64, 86, 207)" fill-opacity="0.6"/>
<rect x="237.5" y="249.1" width="1" height="1" fill="rgb(88, 95, 210)" fill-opacity="0.35"/>
<rect x="238.5" y="249.1" width="1" height="1" fill="rgb(56, 95, 210)" fill-opacity="1.0"/>
<rect x="239.5" y="249.1" width="1" height="1" fill="rgb(88, 95, 210)" fill-opacity="0.35"/>
<rect x="241.5" y="249.1" width="1" height="1" fill="rgb(88, 95, 210)" fill-opacity="0.35"/>
<rect x="243.5" y="249.1" width="1" height="1" fill="rgb(88, 95, 210)" fill-opacity="0.35"/>
<rect x="244.5" y="249.1" width="1" height="1" fill="rgb(88, 95, 210)" fill-opacity="0.35"/>
<rect x="212.5" y="250.1" width="1" height="1" fill="rgb(88, 95, 210)" fill-opacity="0.35"/>
<rect x="213.5" y="250.1" width="1" height="1" fill="rgb(88, 95, 210)" fill-opacity="0.35"/>
<rect x="214.5" y="250.1" width="1" height="1" fill="rgb(56, 95, 210)" fill-opacity="1.0"/>
<rect x="215.5" y="250.1" width="1" height="1" fill="rgb(50, 103, 212)" fill-opacity="1.0"/>
<rect x="216.5" y="250.1" width="1" height="1" fill="rgb(43, 135, 218)" fill-opacity="1.0"/>
<rect x="217.5" y="250.1" width="1" height="1" fill="rgb(50, 103, 212)" fill-opacity="1.0"/>
<rect x="218.5" y="250.1" width="1" height="1" fill="rgb(40, 173, 224)" fill-opacity="1.0"/>
<rect x="219.5" y="250.1" width="1" height="1" fill="rgb(42, 146, 220)" fill-opacity="1.0"/>
<rect x="220.5" y="250.1" width="1" height="1" fill="rgb(40, 173, 224)" fill-opacity="1.0"/>
<rect x="221.5" y="250.1" width="1" height="1" fill="rgb(45, 109, 214)" fill-opacity="1.0"/>
<rect x="222.5" y="250.1" width="1" height="1" fill="rgb(44, 122, 216)" fill-opacity="1.0"/>
<rect x="223.5" y="250.1" width="1" height="1" fill="rgb(45, 109, 214)" fill-opacity="1.0"/>
<rect x="224.5" y="250.1" width="1" height="1" fill="rgb(88, 95, 210)" fill-opacity="0.35"/>
<rect x="225.5" y="250.1" width="1" height="1" fill="rgb(88, 95, 210)" fill-opacity="0.35"/>
<rect x="226.5" y="250.1" width="1" height="1" fill="rgb(44, 122, 216)" fill-opacity="1.0"/>
<rect x="227.5" y="250.1" width="1" height="1" fill="rgb(64, 86, 207)" fill-opacity="0.6"/>
<rect x="228.5" y="250.1" width="1" height="1" fill="rgb(41, 156, 222)" fill-opacity="1.0"/>
<rect x="229.5" y="250.1" width="1" height="1" fill="rgb(43, 135, 218)" fill-opacity="1.0"/>
<rect x="230.5" y="250.1" width="1" height="1" fill="rgb(44, 122, 216)" fill-opacity="1.0"/>
<rect x="231.5" y="250.1" width="1" height="1" fill="rgb(45, 109, 214)" fill-opacity="1.0"/>
<rect x="232.5" y="250.1" width="1" height="1" fill="rgb(44, 122, 216)" fill-opacity="1.0"/>
<rect x="233.5" y="250.1" width="1" height="1" fill="rgb(44, 122, 216)" fill-opacity="1.0"/>
<rect x="234.5" y="250.1" width="1" height="1" fill="rgb(43, 135, 218)" fill-opacity="1.0"/>
<rect x="235.5" y="250.1" width="1" height="1" fill="rgb(50, 103, 212)" fill-opacity="1.0"/>
<rect x="236.5" y="250.1" width="1" height="1" fill="rgb(64, 86, 207)" fill-opacity="0.6"/>
<rect x="237.5" y="250.1" width="1" height="1" fill="rgb(64, 86, 207)" fill-opacity="0.6"/>
<rect x="238.5" y="250.1" width="1" height="1" fill="rgb(88, 95, 210)" fill-opacity="0.35"/>
<rect x="240.5" y="250.1" width="1" height="1" fill="rgb(64, 86, 207)" fill-opacity="0.6"/>
<rect x="241.5" y="250.1" width="1" height="1" fill="rgb(88, 95, 210)" fill-opacity="0.35"/>
<rect x="242.5" y="250.1" width="1" height="1" fill="rgb(88, 95, 210)" fill-opacity="0.35"/>
<rect x="243.5" y="250.1" width="1" height="1" fill="rgb(88, 95, 210)" fill-opacity="0.35"/>
<rect x="211.5" y="251.1" width="1" height="1" fill="rgb(88, 95, 210)" fill-opacity="0.35"/>
<rect x="212.5" y="251.1" width="1" height="1" fill="rgb(88, 95, 210)" fill-opacity="0.35"/>
<rect x="213.5" y="251.1" width="1" height="1" fill="rgb(64, 86, 207)" fill-opacity="0.6"/>
<rect x="214.5" y="251.1" width="1" height="1" fill="rgb(45, 109, 214)" fill-opacity="1.0"/>
<rect x="215.5" y="251.1" width="1" height="1" fill="rgb(44, 122, 216)" fill-opacity="1.0"/>
<rect x="216.5" y="251.1" width="1" height="1" fill="rgb(40, 165, 223)" fill-opacity="1.0"/>
<rect x="217.5" y="251.1" width="1" height="1" fill="rgb(41, 156, 222)" fill-opacity="1.0"/>
<rect x="218.5" y="251.1" width="1" height="1" fill="rgb(60, 190, 99)" fill-opacity="1.0"/>
<rect x="219.5" y="251.1" width="1" height="1" fill="rgb(51, 183, 154)" fill-opacity="1.0"/>
<rect x="220.5" y="251.1" width="1" height="1" fill="rgb(51, 183, 154)" fill-opacity="1.0"/>
<rect x="221.5" y="251.1" width="1" height="1" fill="rgb(42, 176, 211)" fill-opacity="1.0"/>
<rect x="222.5" y="251.1" width="1" height="1" fill="rgb(40, 173, 224)" fill-opacity="1.0"/>
<rect x="223.5" y="251.1" width="1" height="1" fill="rgb(45, 109, 214)" fill-opacity="1.0"/>
<rect x="224.5" y="251.1" width="1" height="1" fill="rgb(56, 95, 210)" fill-opacity="1.0"/>
<rect x="225.5" y="251.1" width="1" height="1" fill="rgb(56, 95, 210)" fill-opacity="1.0"/>
<rect x="226.5" y="251.1" width="1" height="1" fill="rgb(56, 95, 210)" fill-opacity="1.0"/>
<rect x="227.5" y="251.1" width="1" height="1" fill="rgb(64, 86, 207)" fill-opacity="0.6"/>
<rect x="228.5" y="251.1" width="1" height="1" fill="rgb(50, 103, 212)" fill-opacity="1.0"/>
<rect x="229.5" y="251.1" width="1" height="1" fill="rgb(64, 86, 207)" fill-opacity="0.6"/>
<rect x="230.5" y="251.1" width="1" height="1" fill="rgb(44, 122, 216)" fill-opacity="1.0"/>
<rect x="231.5" y="251.1" width="1" height="1" fill="rgb(49, 181, 167)" fill-opacity="1.0"/>
<rect x="232.5" y="251.1" width="1" height="1" fill="rgb(42, 176, 211)" fill-opacity="1.0"/>
<rect x="233.5" y="251.1" width="1" height="1" fill="rgb(40, 165, 223)" fill-opacity="1.0"/>
<rect x="234.5" y="251.1" width="1" height="1" fill="rgb(43, 135, 218)" fill-opacity="1.0"/>
<rect x="235.5" y="251.1" width="1" height="1" fill="rgb(43, 135, 218)" fill-opacity="1.0"/>
<rect x="236.5" y="251.1" width="1" height="1" fill="rgb(44, 122, 216)" fill-opacity="1.0"/>
<rect x="237.5" y="251.1" width="1" height="1" fill="rgb(56, 95, 210)" fill-opacity="1.0"/>
<rect x="238.5" y="251.1" width="1" height="1" fill="rgb(56, 95, 210)" fill-opacity="1.0"/>
<rect x="239.5" y="251.1" width="1" height="1" fill="rgb(56, 95, 210)" fill-opacity="1.0"/>
<rect x="240.5" y="251.1" width="1" height="1" fill="rgb(56, 95, 210)" fill-opacity="1.0"/>
<rect x="241.5" y="251.1" width="1" height="1" fill="rgb(88, 95, 210)" fill-opacity="0.35"/>
<rect x="242.5" y="251.1" width="1" height="1" fill="rgb(88, 95, 210)" fill-opacity="0.35"/>
<rect x="244.5" y="251.1" width="1" height="1" fill="rgb(88, 95, 210)" fill-opacity="0.35"/>
<rect x="245.5" y="251.1" width="1" height="1" fill="rgb(88, 95, 210)" fill-opacity="0.35"/>
<rect x="247.5" y="251.1" width="1" height="1" fill="rgb(88, 95, 210)" fill-opacity="0.35"/>
<rect x="209.5" y="252.1" width="1" height="1" fill="rgb(88, 95, 210)" fill-opacity="0.35"/>
<rect x="210.5" y="252.1" width="1" height="1" fill="rgb(88, 95, 210)" fill-opacity="0.35"/>
<rect x="212.5" y="252.1" width="1" height="1" fill="rgb(50, 103, 212)" fill-opacity="1.0"/>
<rect x="213.5" y="252.1" width="1" height="1" fill="rgb(56, 95, 210)" fill-opacity="1.0"/>
<rect x="214.5" y="252.1" width="1" height="1" fill="rgb(50, 103, 212)" fill-opacity="1.0"/>
<rect x="215.5" y="252.1" width="1" height="1" fill="rgb(49, 181, 167)" fill-opacity="1.0"/>
<rect x="216.5" y="252.1" width="1" height="1" fill="rgb(44, 178, 195)" fill-opacity="1.0"/>
<rect x="217.5" y="252.1" width="1" height="1" fill="rgb(134, 201, 62)" fill-opacity="1.0"/>
<rect x="218.5" y="252.1" width="1" height="1" fill="rgb(60, 190, 99)" fill-opacity="1.0"/>
<rect x="219.5" y="252.1" width="1" height="1" fill="rgb(145, 202, 57)" fill-opacity="1.0"/>
<rect x="220.5" y="252.1" width="1" height="1" fill="rgb(55, 186, 130)" fill-opacity="1.0"/>
<rect x="221.5" y="252.1" width="1" height="1" fill="rgb(51, 183, 154)" fill-opacity="1.0"/>
<rect x="222.5" y="252.1" width="1" height="1" fill="rgb(44, 178, 195)" fill-opacity="1.0"/>
<rect x="223.5" y="252.1" width="1" height="1" fill="rgb(40, 165, 223)" fill-opacity="1.0"/>
<rect x="224.5" y="252.1" width="1" height="1" fill="rgb(44, 122, 216)" fill-opacity="1.0"/>
<rect x="225.5" y="252.1" width="1" height="1" fill="rgb(45, 109, 214)" fill-opacity="1.0"/>
<rect x="226.5" y="252.1" width="1" height="1" fill="rgb(88, 95, 210)" fill-opacity="0.35"/>
<rect x="227.5" y="252.1" width="1" height="1" fill="rgb(43, 135, 218)" fill-opacity="1.0"/>
<rect x="228.5" y="252.1" width="1" height="1" fill="rgb(44, 122, 216)" fill-opacity="1.0"/>
<rect x="229.5" y="252.1" width="1" height="1" fill="rgb(50, 103, 212)" fill-opacity="1.0"/>
<rect x="230.5" y="252.1" width="1" height="1" fill="rgb(42, 146, 220)" fill-opacity="1.0"/>
<rect x="231.5" y="252.1" width="1" height="1" fill="rgb(47, 180, 180)" fill-opacity="1.0"/>
<rect x="232.5" y="252.1" width="1" height="1" fill="rgb(44, 178, 195)" fill-opacity="1.0"/>
<rect x="233.5" y="252.1" width="1" height="1" fill="rgb(42, 176, 211)" fill-opacity="1.0"/>
<rect x="234.5" y="252.1" width="1" height="1" fill="rgb(42, 146, 220)" fill-opacity="1.0"/>
<rect x="235.5" y="252.1" width="1" height="1" fill="rgb(40, 173, 224)" fill-opacity="1.0"/>
<rect x="236.5" y="252.1" width="1" height="1" fill="rgb(42, 146, 220)" fill-opacity="1.0"/>
<rect x="237.5" y="252.1" width="1" height="1" fill="rgb(45, 109, 214)" fill-opacity="1.0"/>
<rect x="238.5" y="252.1" width="1" height="1" fill="rgb(56, 95, 210)" fill-opacity="1.0"/>
<rect x="239.5" y="252.1" width="1" height="1" fill="rgb(88, 95, 210)" fill-opacity="0.35"/>
<rect x="240.5" y="252.1" width="1" height="1" fill="rgb(56, 95, 210)" fill-opacity="1.0"/>
<rect x="244.5" y="252.1" width="1" height="1" fill="rgb(88, 95, 210)" fill-opacity="0.35"/>
<rect x="208.5" y="253.1" width="1" height="1" fill="rgb(88, 95, 210)" fill-opacity="0.35"/>
<rect x="209.5" y="253.1" width="1" height="1" fill="rgb(88, 95, 210)" fill-opacity="0.35"/>
<rect x="211.5" y="253.1" width="1" height="1" fill="rgb(64, 86, 207)" fill-opacity="0.6"/>
<rect x="212.5" y="253.1" width="1" height="1" fill="rgb(64, 86, 207)" fill-opacity="0.6"/>
<rect x="213.5" y="253.1" width="1" height="1" fill="rgb(50, 103, 212)" fill-opacity="1.0"/>
<rect x="214.5" y="253.1" width="1" height="1" fill="rgb(50, 103, 212)" fill-opacity="1.0"/>
<rect x="215.5" y="253.1" width="1" height="1" fill="rgb(49, 181, 167)" fill-opacity="1.0"/>
<rect x="216.5" y="253.1" width="1" height="1" fill="rgb(90, 194, 84)" fill-opacity="1.0"/>
<rect x="217.5" y="253.1" width="1" height="1" fill="rgb(182, 196, 47)" fill-opacity="1.0"/>
<rect x="218.5" y="253.1" width="1" height="1" fill="rgb(165, 203, 49)" fill-opacity="1.0"/>
<rect x="219.5" y="253.1" width="1" height="1" fill="rgb(182, 196, 47)" fill-opacity="1.0"/>
<rect x="220.5" y="253.1" width="1" height="1" fill="rgb(231, 178, 41)" fill-opacity="1.0"/>
<rect x="221.5" y="253.1" width="1" height="1" fill="rgb(90, 194, 84)" fill-opacity="1.0"/>
<rect x="222.5" y="253.1" width="1" height="1" fill="rgb(60, 190, 99)" fill-opacity="1.0"/>
<rect x="223.5" y="253.1" width="1" height="1" fill="rgb(40, 165, 223)" fill-opacity="1.0"/>
<rect x="224.5" y="253.1" width="1" height="1" fill="rgb(50, 103, 212)" fill-opacity="1.0"/>
<rect x="225.5" y="253.1" width="1" height="1" fill="rgb(44, 122, 216)" fill-opacity="1.0"/>
<rect x="226.5" y="253.1" width="1" height="1" fill="rgb(45, 109, 214)" fill-opacity="1.0"/>
<rect x="227.5" y="253.1" width="1" height="1" fill="rgb(43, 135, 218)" fill-opacity="1.0"/>
<rect x="228.5" y="253.1" width="1" height="1" fill="rgb(44, 122, 216)" fill-opacity="1.0"/>
<rect x="229.5" y="253.1" width="1" height="1" fill="rgb(42, 146, 220)" fill-opacity="1.0"/>
<rect x="230.5" y="253.1" width="1" height="1" fill="rgb(43, 135, 218)" fill-opacity="1.0"/>
<rect x="231.5" y="253.1" width="1" height="1" fill="rgb(47, 180, 180)" fill-opacity="1.0"/>
<rect x="232.5" y="253.1" width="1" height="1" fill="rgb(44, 178, 195)" fill-opacity="1.0"/>
<rect x="233.5" y="253.1" width="1" height="1" fill="rgb(42, 146, 220)" fill-opacity="1.0"/>
<rect x="234.5" y="253.1" width="1" height="1" fill="rgb(41, 156, 222)" fill-opacity="1.0"/>
<rect x="235.5" y="253.1" width="1" height="1" fill="rgb(51, 183, 154)" fill-opacity="1.0"/>
<rect x="236.5" y="253.1" width="1" height="1" fill="rgb(51, 183, 154)" fill-opacity="1.0"/>
<rect x="237.5" y="253.1" width="1" height="1" fill="rgb(41, 156, 222)" fill-opacity="1.0"/>
<rect x="238.5" y="253.1" width="1" height="1" fill="rgb(50, 103, 212)" fill-opacity="1.0"/>
<rect x="239.5" y="253.1" width="1" height="1" fill="rgb(88, 95, 210)" fill-opacity="0.35"/>
<rect x="240.5" y="253.1" width="1" height="1" fill="rgb(56, 95, 210)" fill-opacity="1.0"/>
<rect x="241.5" y="253.1" width="1" height="1" fill="rgb(64, 86, 207)" fill-opacity="0.6"/>
<rect x="245.5" y="253.1" width="1" height="1" fill="rgb(88, 95, 210)" fill-opacity="0.35"/>
<rect x="211.5" y="254.1" width="1" height="1" fill="rgb(50, 103, 212)" fill-opacity="1.0"/>
<rect x="212.5" y="254.1" width="1" height="1" fill="rgb(56, 95, 210)" fill-opacity="1.0"/>
<rect x="213.5" y="254.1" width="1" height="1" fill="rgb(56, 95, 210)" fill-opacity="1.0"/>
<rect x="214.5" y="254.1" width="1" height="1" fill="rgb(47, 180, 180)" fill-opacity="1.0"/>
<rect x="215.5" y="254.1" width="1" height="1" fill="rgb(134, 201, 62)" fill-opacity="1.0"/>
<rect x="216.5" y="254.1" width="1" height="1" fill="rgb(190, 193, 46)" fill-opacity="1.0"/>
<rect x="217.5" y="254.1" width="1" height="1" fill="rgb(238, 157, 38)" fill-opacity="1.0"/>
<rect x="218.5" y="254.1" width="1" height="1" fill="rgb(237, 175, 40)" fill-opacity="1.0"/>
<rect x="219.5" y="254.1" width="1" height="1" fill="rgb(236, 138, 36)" fill-opacity="1.0"/>
<rect x="220.5" y="254.1" width="1" height="1" fill="rgb(239, 165, 39)" fill-opacity="1.0"/>
<rect x="221.5" y="254.1" width="1" height="1" fill="rgb(186, 195, 46)" fill-opacity="1.0"/>
<rect x="222.5" y="254.1" width="1" height="1" fill="rgb(76, 192, 91)" fill-opacity="1.0"/>
<rect x="223.5" y="254.1" width="1" height="1" fill="rgb(53, 184, 142)" fill-opacity="1.0"/>
<rect x="224.5" y="254.1" width="1" height="1" fill="rgb(42, 146, 220)" fill-opacity="1.0"/>
<rect x="225.5" y="254.1" width="1" height="1" fill="rgb(44, 122, 216)" fill-opacity="1.0"/>
<rect x="226.5" y="254.1" width="1" height="1" fill="rgb(50, 103, 212)" fill-opacity="1.0"/>
<rect x="227.5" y="254.1" width="1" height="1" fill="rgb(64, 86, 207)" fill-opacity="0.6"/>
<rect x="228.5" y="254.1" width="1" height="1" fill="rgb(56, 95, 210)" fill-opacity="1.0"/>
<rect x="229.5" y="254.1" width="1" height="1" fill="rgb(43, 135, 218)" fill-opacity="1.0"/>
<rect x="230.5" y="254.1" width="1" height="1" fill="rgb(40, 165, 223)" fill-opacity="1.0"/>
<rect x="231.5" y="254.1" width="1" height="1" fill="rgb(47, 180, 180)" fill-opacity="1.0"/>
<rect x="232.5" y="254.1" width="1" height="1" fill="rgb(47, 180, 180)" fill-opacity="1.0"/>
<rect x="233.5" y="254.1" width="1" height="1" fill="rgb(55, 186, 130)" fill-opacity="1.0"/>
<rect x="234.5" y="254.1" width="1" height="1" fill="rgb(53, 184, 142)" fill-opacity="1.0"/>
<rect x="235.5" y="254.1" width="1" height="1" fill="rgb(41, 156, 222)" fill-opacity="1.0"/>
<rect x="236.5" y="254.1" width="1" height="1" fill="rgb(47, 180, 180)" fill-opacity="1.0"/>
<rect x="237.5" y="254.1" width="1" height="1" fill="rgb(41, 156, 222)" fill-opacity="1.0"/>
<rect x="238.5" y="254.1" width="1" height="1" fill="rgb(44, 122, 216)" fill-opacity="1.0"/>
<rect x="239.5" y="254.1" width="1" height="1" fill="rgb(88, 95, 210)" fill-opacity="0.35"/>
<rect x="241.5" y="254.1" width="1" height="1" fill="rgb(88, 95, 210)" fill-opacity="0.35"/>
<rect x="242.5" y="254.1" width="1" height="1" fill="rgb(88, 95, 210)" fill-opacity="0.35"/>
<rect x="245.5" y="254.1" width="1" height="1" fill="rgb(88, 95, 210)" fill-opacity="0.35"/>
<rect x="208.5" y="255.1" width="1" height="1" fill="rgb(88, 95, 210)" fill-opacity="0.35"/>
<rect x="211.5" y="255.1" width="1" height="1" fill="rgb(56, 95, 210)" fill-opacity="1.0"/>
<rect x="212.5" y="255.1" width="1" height="1" fill="rgb(88, 95, 210)" fill-opacity="0.35"/>
<rect x="213.5" y="255.1" width="1" height="1" fill="rgb(42, 146, 220)" fill-opacity="1.0"/>
<rect x="214.5" y="255.1" width="1" height="1" fill="rgb(40, 173, 224)" fill-opacity="1.0"/>
<rect x="215.5" y="255.1" width="1" height="1" fill="rgb(104, 196, 77)" fill-opacity="1.0"/>
<rect x="216.5" y="255.1" width="1" height="1" fill="rgb(201, 189, 44)" fill-opacity="1.0"/>
<rect x="217.5" y="255.1" width="1" height="1" fill="rgb(235, 123, 35)" fill-opacity="1.0"/>
<rect x="218.5" y="255.1" width="1" height="1" fill="rgb(230, 60, 30)" fill-opacity="1.0"/>
<rect x="219.5" y="255.1" width="1" height="1" fill="rgb(230, 60, 30)" fill-opacity="1.0"/>
<rect x="220.5" y="255.1" width="1" height="1" fill="rgb(239, 169, 39)" fill-opacity="1.0"/>
<rect x="221.5" y="255.1" width="1" height="1" fill="rgb(236, 134, 36)" fill-opacity="1.0"/>
<rect x="222.5" y="255.1" width="1" height="1" fill="rgb(123, 199, 68)" fill-opacity="1.0"/>
<rect x="223.5" y="255.1" width="1" height="1" fill="rgb(90, 194, 84)" fill-opacity="1.0"/>
<rect x="224.5" y="255.1" width="1" height="1" fill="rgb(42, 146, 220)" fill-opacity="1.0"/>
<rect x="225.5" y="255.1" width="1" height="1" fill="rgb(43, 135, 218)" fill-opacity="1.0"/>
<rect x="226.5" y="255.1" width="1" height="1" fill="rgb(64, 86, 207)" fill-opacity="0.6"/>
<rect x="227.5" y="255.1" width="1" height="1" fill="rgb(56, 95, 210)" fill-opacity="1.0"/>
<rect x="228.5" y="255.1" width="1" height="1" fill="rgb(50, 103, 212)" fill-opacity="1.0"/>
<rect x="229.5" y="255.1" width="1" height="1" fill="rgb(45, 109, 214)" fill-opacity="1.0"/>
<rect x="230.5" y="255.1" width="1" height="1" fill="rgb(64, 86, 207)" fill-opacity="0.6"/>
<rect x="231.5" y="255.1" width="1" height="1" fill="rgb(42, 146, 220)" fill-opacity="1.0"/>
<rect x="232.5" y="255.1" width="1" height="1" fill="rgb(43, 135, 218)" fill-opacity="1.0"/>
<rect x="233.5" y="255.1" width="1" height="1" fill="rgb(56, 187, 119)" fill-opacity="1.0"/>
<rect x="234.5" y="255.1" width="1" height="1" fill="rgb(44, 178, 195)" fill-opacity="1.0"/>
<rect x="235.5" y="255.1" width="1" height="1" fill="rgb(44, 178, 195)" fill-opacity="1.0"/>
<rect x="236.5" y="255.1" width="1" height="1" fill="rgb(42, 176, 211)" fill-opacity="1.0"/>
<rect x="237.5" y="255.1" width="1" height="1" fill="rgb(40, 165, 223)" fill-opacity="1.0"/>
<rect x="238.5" y="255.1" width="1" height="1" fill="rgb(56, 95, 210)" fill-opacity="1.0"/>
<rect x="239.5" y="255.1" width="1" height="1" fill="rgb(64, 86, 207)" fill-opacity="0.6"/>
<rect x="240.5" y="255.1" width="1" height="1" fill="rgb(88, 95, 210)" fill-opacity="0.35"/>
<rect x="241.5" y="255.1" width="1" height="1" fill="rgb(88, 95, 210)" fill-opacity="0.35"/>
<rect x="242.5" y="255.1" width="1" height="1" fill="rgb(88, 95, 210)" fill-opacity="0.35"/>
<rect x="206.5" y="256.1" width="1" height="1" fill="rgb(88, 95, 210)" fill-opacity="0.35"/>
<rect x="211.5" y="256.1" width="1" height="1" fill="rgb(88, 95, 210)" fill-opacity="0.35"/>
<rect x="212.5" y="256.1" width="1" height="1" fill="rgb(64, 86, 207)" fill-opacity="0.6"/>
<rect x="213.5" y="256.1" width="1" height="1" fill="rgb(50, 103, 212)" fill-opacity="1.0"/>
<rect x="214.5" y="256.1" width="1" height="1" fill="rgb(55, 186, 130)" fill-opacity="1.0"/>
<rect x="215.5" y="256.1" width="1" height="1" fill="rgb(97, 195, 81)" fill-opacity="1.0"/>
<rect x="216.5" y="256.1" width="1" height="1" fill="rgb(237, 175, 40)" fill-opacity="1.0"/>
<rect x="217.5" y="256.1" width="1" height="1" fill="rgb(236, 138, 36)" fill-opacity="1.0"/>
<rect x="218.5" y="256.1" width="1" height="1" fill="rgb(230, 60, 30)" fill-opacity="1.0"/>
<rect x="219.5" y="256.1" width="1" height="1" fill="rgb(230, 60, 30)" fill-opacity="1.0"/>
<rect x="220.5" y="256.1" width="1" height="1" fill="rgb(233, 104, 33)" fill-opacity="1.0"/>
<rect x="221.5" y="256.1" width="1" height="1" fill="rgb(239, 173, 39)" fill-opacity="1.0"/>
<rect x="222.5" y="256.1" width="1" height="1" fill="rgb(140, 202, 59)" fill-opacity="1.0"/>
<rect x="223.5" y="256.1" width="1" height="1" fill="rgb(49, 181, 167)" fill-opacity="1.0"/>
<rect x="224.5" y="256.1" width="1" height="1" fill="rgb(50, 103, 212)" fill-opacity="1.0"/>
<rect x="225.5" y="256.1" width="1" height="1" fill="rgb(43, 135, 218)" fill-opacity="1.0"/>
<rect x="226.5" y="256.1" width="1" height="1" fill="rgb(88, 95, 210)" fill-opacity="0.35"/>
<rect x="228.5" y="256.1" width="1" height="1" fill="rgb(56, 95, 210)" fill-opacity="1.0"/>
<rect x="229.5" y="256.1" width="1" height="1" fill="rgb(43, 135, 218)" fill-opacity="1.0"/>
<rect x="230.5" y="256.1" width="1" height="1" fill="rgb(42, 146, 220)" fill-opacity="1.0"/>
<rect x="231.5" y="256.1" width="1" height="1" fill="rgb(47, 180, 180)" fill-opacity="1.0"/>
<rect x="232.5" y="256.1" width="1" height="1" fill="rgb(40, 165, 223)" fill-opacity="1.0"/>
<rect x="233.5" y="256.1" width="1" height="1" fill="rgb(40, 165, 223)" fill-opacity="1.0"/>
<rect x="234.5" y="256.1" width="1" height="1" fill="rgb(42, 176, 211)" fill-opacity="1.0"/>
<rect x="235.5" y="256.1" width="1" height="1" fill="rgb(51, 183, 154)" fill-opacity="1.0"/>
<rect x="236.5" y="256.1" width="1" height="1" fill="rgb(44, 122, 216)" fill-opacity="1.0"/>
<rect x="237.5" y="256.1" width="1" height="1" fill="rgb(43, 135, 218)" fill-opacity="1.0"/>
<rect x="238.5" y="256.1" width="1" height="1" fill="rgb(56, 95, 210)" fill-opacity="1.0"/>
<rect x="239.5" y="256.1" width="1" height="1" fill="rgb(56, 95, 210)" fill-opacity="1.0"/>
<rect x="240.5" y="256.1" width="1" height="1" fill="rgb(56, 95, 210)" fill-opacity="1.0"/>
<rect x="242.5" y="256.1" width="1" height="1" fill="rgb(64, 86, 207)" fill-opacity="0.6"/>
<rect x="244.5" y="256.1" width="1" height="1" fill="rgb(64, 86, 207)" fill-opacity="0.6"/>
<rect x="209.5" y="257.1" width="1" height="1" fill="rgb(88, 95, 210)" fill-opacity="0.35"/>
<rect x="210.5" y="257.1" width="1" height="1" fill="rgb(88, 95, 210)" fill-opacity="0.35"/>
<rect x="211.5" y="257.1" width="1" height="1" fill="rgb(88, 95, 210)" fill-opacity="0.35"/>
<rect x="212.5" y="257.1" width="1" height="1" fill="rgb(56, 95, 210)" fill-opacity="1.0"/>
<rect x="213.5" y="257.1" width="1" height="1" fill="rgb(43, 135, 218)" fill-opacity="1.0"/>
<rect x="214.5" y="257.1" width="1" height="1" fill="rgb(53, 184, 142)" fill-opacity="1.0"/>
<rect x="215.5" y="257.1" width="1" height="1" fill="rgb(110, 197, 74)" fill-opacity="1.0"/>
<rect x="216.5" y="257.1" width="1" height="1" fill="rgb(201, 189, 44)" fill-opacity="1.0"/>
<rect x="217.5" y="257.1" width="1" height="1" fill="rgb(238, 161, 38)" fill-opacity="1.0"/>
<rect x="218.5" y="257.1" width="1" height="1" fill="rgb(235, 127, 35)" fill-opacity="1.0"/>
<rect x="219.5" y="257.1" width="1" height="1" fill="rgb(230, 71, 30)" fill-opacity="1.0"/>
<rect x="220.5" y="257.1" width="1" height="1" fill="rgb(236, 131, 36)" fill-opacity="1.0"/>
<rect x="221.5" y="257.1" width="1" height="1" fill="rgb(205, 188, 44)" fill-opacity="1.0"/>
<rect x="222.5" y="257.1" width="1" height="1" fill="rgb(68, 191, 95)" fill-opacity="1.0"/>
<rect x="223.5" y="257.1" width="1" height="1" fill="rgb(58, 188, 109)" fill-opacity="1.0"/>
<rect x="224.5" y="257.1" width="1" height="1" fill="rgb(40, 165, 223)" fill-opacity="1.0"/>
<rect x="225.5" y="257.1" width="1" height="1" fill="rgb(45, 109, 214)" fill-opacity="1.0"/>
<rect x="226.5" y="257.1" width="1" height="1" fill="rgb(50, 103, 212)" fill-opacity="1.0"/>
<rect x="227.5" y="257.1" width="1" height="1" fill="rgb(88, 95, 210)" fill-opacity="0.35"/>
<rect x="228.5" y="257.1" width="1" height="1" fill="rgb(64, 86, 207)" fill-opacity="0.6"/>
<rect x="229.5" y="257.1" width="1" height="1" fill="rgb(50, 103, 212)" fill-opacity="1.0"/>
<rect x="230.5" y="257.1" width="1" height="1" fill="rgb(56, 95, 210)" fill-opacity="1.0"/>
<rect x="231.5" y="257.1" width="1" height="1" fill="rgb(45, 109, 214)" fill-opacity="1.0"/>
<rect x="232.5" y="257.1" width="1" height="1" fill="rgb(44, 122, 216)" fill-opacity="1.0"/>
<rect x="233.5" y="257.1" width="1" height="1" fill="rgb(41, 156, 222)" fill-opacity="1.0"/>
<rect x="234.5" y="257.1" width="1" height="1" fill="rgb(42, 146, 220)" fill-opacity="1.0"/>
<rect x="235.5" y="257.1" width="1" height="1" fill="rgb(56, 95, 210)" fill-opacity="1.0"/>
<rect x="236.5" y="257.1" width="1" height="1" fill="rgb(45, 109, 214)" fill-opacity="1.0"/>
<rect x="237.5" y="257.1" width="1" height="1" fill="rgb(56, 95, 210)" fill-opacity="1.0"/>
<rect x="239.5" y="257.1" width="1" height="1" fill="rgb(88, 95, 210)" fill-opacity="0.35"/>
<rect x="211.5" y="258.1" width="1" height="1" fill="rgb(88, 95, 210)" fill-opacity="0.35"/>
<rect x="212.5" y="258.1" width="1" height="1" fill="rgb(88, 95, 210)" fill-opacity="0.35"/>
<rect x="213.5" y="258.1" width="1" height="1" fill="rgb(44, 122, 216)" fill-opacity="1.0"/>
<rect x="214.5" y="258.1" width="1" height="1" fill="rgb(44, 178, 195)" fill-opacity="1.0"/>
<rect x="215.5" y="258.1" width="1" height="1" fill="rgb(41, 156, 222)" fill-opacity="1.0"/>
<rect x="216.5" y="258.1" width="1" height="1" fill="rgb(140, 202, 59)" fill-opacity="1.0"/>
<rect x="217.5" y="258.1" width="1" height="1" fill="rgb(178, 198, 47)" fill-opacity="1.0"/>
<rect x="218.5" y="258.1" width="1" height="1" fill="rgb(238, 161, 38)" fill-opacity="1.0"/>
<rect x="219.5" y="258.1" width="1" height="1" fill="rgb(201, 189, 44)" fill-opacity="1.0"/>
<rect x="220.5" y="258.1" width="1" height="1" fill="rgb(239, 169, 39)" fill-opacity="1.0"/>
<rect x="221.5" y="258.1" width="1" height="1" fill="rgb(169, 201, 48)" fill-opacity="1.0"/>
<rect x="222.5" y="258.1" width="1" height="1" fill="rgb(83, 193, 88)" fill-opacity="1.0"/>
<rect x="223.5" y="258.1" width="1" height="1" fill="rgb(40, 173, 224)" fill-opacity="1.0"/>
<rect x="224.5" y="258.1" width="1" height="1" fill="rgb(50, 103, 212)" fill-opacity="1.0"/>
<rect x="225.5" y="258.1" width="1" height="1" fill="rgb(50, 103, 212)" fill-opacity="1.0"/>
<rect x="226.5" y="258.1" width="1" height="1" fill="rgb(64, 86, 207)" fill-opacity="0.6"/>
<rect x="227.5" y="258.1" width="1" height="1" fill="rgb(64, 86, 207)" fill-opacity="0.6"/>
<rect x="228.5" y="258.1" width="1" height="1" fill="rgb(56, 95, 210)" fill-opacity="1.0"/>
<rect x="229.5" y="258.1" width="1" height="1" fill="rgb(64, 86, 207)" fill-opacity="0.6"/>
<rect x="230.5" y="258.1" width="1" height="1" fill="rgb(64, 86, 207)" fill-opacity="0.6"/>
<rect x="231.5" y="258.1" width="1" height="1" fill="rgb(45, 109, 214)" fill-opacity="1.0"/>
<rect x="232.5" y="258.1" width="1" height="1" fill="rgb(56, 95, 210)" fill-opacity="1.0"/>
<rect x="233.5" y="258.1" width="1" height="1" fill="rgb(45, 109, 214)" fill-opacity="1.0"/>
<rect x="234.5" y="258.1" width="1" height="1" fill="rgb(41, 156, 222)" fill-opacity="1.0"/>
<rect x="235.5" y="258.1" width="1" height="1" fill="rgb(45, 109, 214)" fill-opacity="1.0"/>
<rect x="236.5" y="258.1" width="1" height="1" fill="rgb(50, 103, 212)" fill-opacity="1.0"/>
<rect x="237.5" y="258.1" width="1" height="1" fill="rgb(64, 86, 207)" fill-opacity="0.6"/>
<rect x="238.5" y="258.1" width="1" height="1" fill="rgb(56, 95, 210)" fill-opacity="1.0"/>
<rect x="239.5" y="258.1" width="1" height="1" fill="rgb(64, 86, 207)" fill-opacity="0.6"/>
<rect x="243.5" y="258.1" width="1" height="1" fill="rgb(88, 95, 210)" fill-opacity="0.35"/>
<rect x="207.5" y="259.1" width="1" height="1" fill="rgb(88, 95, 210)" fill-opacity="0.35"/>
<rect x="211.5" y="259.1" width="1" height="1" fill="rgb(88, 95, 210)" fill-opacity="0.35"/>
<rect x="212.5" y="259.1" width="1" height="1" fill="rgb(88, 95, 210)" fill-opacity="0.35"/>
<rect x="213.5" y="259.1" width="1" height="1" fill="rgb(56, 95, 210)" fill-opacity="1.0"/>
<rect x="214.5" y="259.1" width="1" height="1" fill="rgb(56, 95, 210)" fill-opacity="1.0"/>
<rect x="215.5" y="259.1" width="1" height="1" fill="rgb(43, 135, 218)" fill-opacity="1.0"/>
<rect x="216.5" y="259.1" width="1" height="1" fill="rgb(53, 184, 142)" fill-opacity="1.0"/>
<rect x="217.5" y="259.1" width="1" height="1" fill="rgb(129, 200, 65)" fill-opacity="1.0"/>
<rect x="218.5" y="259.1" width="1" height="1" fill="rgb(90, 194, 84)" fill-opacity="1.0"/>
<rect x="219.5" y="259.1" width="1" height="1" fill="rgb(173, 199, 48)" fill-opacity="1.0"/>
<rect x="220.5" y="259.1" width="1" height="1" fill="rgb(68, 191, 95)" fill-opacity="1.0"/>
<rect x="221.5" y="259.1" width="1" height="1" fill="rgb(68, 191, 95)" fill-opacity="1.0"/>
<rect x="222.5" y="259.1" width="1" height="1" fill="rgb(42, 176, 211)" fill-opacity="1.0"/>
<rect x="223.5" y="259.1" width="1" height="1" fill="rgb(41, 156, 222)" fill-opacity="1.0"/>
<rect x="224.5" y="259.1" width="1" height="1" fill="rgb(45, 109, 214)" fill-opacity="1.0"/>
<rect x="225.5" y="259.1" width="1" height="1" fill="rgb(56, 95, 210)" fill-opacity="1.0"/>
<rect x="229.5" y="259.1" width="1" height="1" fill="rgb(64, 86, 207)" fill-opacity="0.6"/>
<rect x="230.5" y="259.1" width="1" height="1" fill="rgb(56, 95, 210)" fill-opacity="1.0"/>
<rect x="231.5" y="259.1" width="1" height="1" fill="rgb(88, 95, 210)" fill-opacity="0.35"/>
<rect x="233.5" y="259.1" width="1" height="1" fill="rgb(88, 95, 210)" fill-opacity="0.35"/>
<rect x="234.5" y="259.1" width="1" height="1" fill="rgb(88, 95, 210)" fill-opacity="0.35"/>
<rect x="235.5" y="259.1" width="1" height="1" fill="rgb(88, 95, 210)" fill-opacity="0.35"/>
<rect x="236.5" y="259.1" width="1" height="1" fill="rgb(56, 95, 210)" fill-opacity="1.0"/>
<rect x="237.5" y="259.1" width="1" height="1" fill="rgb(88, 95, 210)" fill-opacity="0.35"/>
<rect x="239.5" y="259.1" width="1" height="1" fill="rgb(88, 95, 210)" fill-opacity="0.35"/>
<rect x="213.5" y="260.1" width="1" height="1" fill="rgb(64, 86, 207)" fill-opacity="0.6"/>
<rect x="214.5" y="260.1" width="1" height="1" fill="rgb(50, 103, 212)" fill-opacity="1.0"/>
<rect x="215.5" y="260.1" width="1" height="1" fill="rgb(41, 156, 222)" fill-opacity="1.0"/>
<rect x="216.5" y="260.1" width="1" height="1" fill="rgb(41, 156, 222)" fill-opacity="1.0"/>
<rect x="217.5" y="260.1" width="1" height="1" fill="rgb(42, 176, 211)" fill-opacity="1.0"/>
<rect x="218.5" y="260.1" width="1" height="1" fill="rgb(55, 186, 130)" fill-opacity="1.0"/>
<rect x="219.5" y="260.1" width="1" height="1" fill="rgb(51, 183, 154)" fill-opacity="1.0"/>
<rect x="220.5" y="260.1" width="1" height="1" fill="rgb(49, 181, 167)" fill-opacity="1.0"/>
<rect x="221.5" y="260.1" width="1" height="1" fill="rgb(42, 146, 220)" fill-opacity="1.0"/>
<rect x="222.5" y="260.1" width="1" height="1" fill="rgb(45, 109, 214)" fill-opacity="1.0"/>
<rect x="223.5" y="260.1" width="1" height="1" fill="rgb(44, 122, 216)" fill-opacity="1.0"/>
<rect x="224.5" y="260.1" width="1" height="1" fill="rgb(64, 86, 207)" fill-opacity="0.6"/>
<rect x="226.5" y="260.1" width="1" height="1" fill="rgb(88, 95, 210)" fill-opacity="0.35"/>
<rect x="229.5" y="260.1" width="1" height="1" fill="rgb(64, 86, 207)" fill-opacity="0.6"/>
<rect x="230.5" y="260.1" width="1" height="1" fill="rgb(64, 86, 207)" fill-opacity="0.6"/>
<rect x="231.5" y="260.1" width="1" height="1" fill="rgb(64, 86, 207)" fill-opacity="0.6"/>
<rect x="232.5" y="260.1" width="1" height="1" fill="rgb(88, 95, 210)" fill-opacity="0.35"/>
<rect x="233.5" y="260.1" width="1" height="1" fill="rgb(64, 86, 207)" fill-opacity="0.6"/>
<rect x="234.5" y="260.1" width="1" height="1" fill="rgb(88, 95, 210)" fill-opacity="0.35"/>
<rect x="236.5" y="260.1" width="1" height="1" fill="rgb(88, 95, 210)" fill-opacity="0.35"/>
<rect x="238.5" y="260.1" width="1" height="1" fill="rgb(88, 95, 210)" fill-opacity="0.35"/>
<rect x="241.5" y="260.1" width="1" height="1" fill="rgb(88, 95, 210)" fill-opacity="0.35"/>
<rect x="208.5" y="261.1" width="1" height="1" fill="rgb(88, 95, 210)" fill-opacity="0.35"/>
<rect x="212.5" y="261.1" width="1" height="1" fill="rgb(88, 95, 210)" fill-opacity="0.35"/>
<rect x="213.5" y="261.1" width="1" height="1" fill="rgb(88, 95, 210)" fill-opacity="0.35"/>
<rect x="214.5" y="261.1" width="1" height="1" fill="rgb(88, 95, 210)" fill-opacity="0.35"/>
<rect x="215.5" y="261.1" width="1" height="1" fill="rgb(50, 103, 212)" fill-opacity="1.0"/>
<rect x="216.5" y="261.1" width="1" height="1" fill="rgb(56, 95, 210)" fill-opacity="1.0"/>
<rect x="217.5" y="261.1" width="1" height="1" fill="rgb(45, 109, 214)" fill-opacity="1.0"/>
<rect x="218.5" y="261.1" width="1" height="1" fill="rgb(44, 122, 216)" fill-opacity="1.0"/>
<rect x="219.5" y="261.1" width="1" height="1" fill="rgb(41, 156, 222)" fill-opacity="1.0"/>
<rect x="221.5" y="261.1" width="1" height="1" fill="rgb(45, 109, 214)" fill-opacity="1.0"/>
<rect x="222.5" y="261.1" width="1" height="1" fill="rgb(88, 95, 210)" fill-opacity="0.35"/>
<rect x="223.5" y="261.1" width="1" height="1" fill="rgb(88, 95, 210)" fill-opacity="0.35"/>
<rect x="224.5" y="261.1" width="1" height="1" fill="rgb(88, 95, 210)" fill-opacity="0.35"/>
<rect x="227.5" y="261.1" width="1" height="1" fill="rgb(64, 86, 207)" fill-opacity="0.6"/>
<rect x="228.5" y="261.1" width="1" height="1" fill="rgb(88, 95, 210)" fill-opacity="0.35"/>
<rect x="229.5" y="261.1" width="1" height="1" fill="rgb(88, 95, 210)" fill-opacity="0.35"/>
<rect x="232.5" y="261.1" width="1" height="1" fill="rgb(88, 95, 210)" fill-opacity="0.35"/>
<rect x="233.5" y="261.1" width="1" height="1" fill="rgb(64, 86, 207)" fill-opacity="0.6"/>
<rect x="234.5" y="261.1" width="1" height="1" fill="rgb(56, 95, 210)" fill-opacity="1.0"/>
<rect x="240.5" y="261.1" width="1" height="1" fill="rgb(56, 95, 210)" fill-opacity="1.0"/>
<rect x="213.5" y="262.1" width="1" height="1" fill="rgb(88, 95, 210)" fill-opacity="0.35"/>
<rect x="216.5" y="262.1" width="1" height="1" fill="rgb(88, 95, 210)" fill-opacity="0.35"/>
<rect x="217.5" y="262.1" width="1" height="1" fill="rgb(64, 86, 207)" fill-opacity="0.6"/>
<rect x="218.5" y="262.1" width="1" height="1" fill="rgb(88, 95, 210)" fill-opacity="0.35"/>
<rect x="219.5" y="262.1" width="1" height="1" fill="rgb(88, 95, 210)" fill-opacity="0.35"/>
<rect x="220.5" y="262.1" width="1" height="1" fill="rgb(88, 95, 210)" fill-opacity="0.35"/>
<rect x="221.5" y="262.1" width="1" height="1" fill="rgb(45, 109, 214)" fill-opacity="1.0"/>
<rect x="222.5" y="262.1" width="1" height="1" fill="rgb(64, 86, 207)" fill-opacity="0.6"/>
<rect x="223.5" y="262.1" width="1" height="1" fill="rgb(88, 95, 210)" fill-opacity="0.35"/>
<rect x="225.5" y="262.1" width="1" height="1" fill="rgb(88, 95, 210)" fill-opacity="0.35"/>
<rect x="227.5" y="262.1" width="1" height="1" fill="rgb(88, 95, 210)" fill-opacity="0.35"/>
<rect x="236.5" y="262.1" width="1" height="1" fill="rgb(56, 95, 210)" fill-opacity="1.0"/>
<rect x="211.5" y="263.1" width="1" height="1" fill="rgb(88, 95, 210)" fill-opacity="0.35"/>
<rect x="215.5" y="263.1" width="1" height="1" fill="rgb(88, 95, 210)" fill-opacity="0.35"/>
<rect x="217.5" y="263.1" width="1" height="1" fill="rgb(64, 86, 207)" fill-opacity="0.6"/>
<rect x="219.5" y="263.1" width="1" height="1" fill="rgb(88, 95, 210)" fill-opacity="0.35"/>
<rect x="220.5" y="263.1" width="1" height="1" fill="rgb(88, 95, 210)" fill-opacity="0.35"/>
<rect x="225.5" y="263.1" width="1" height="1" fill="rgb(88, 95, 210)" fill-opacity="0.35"/>
<rect x="231.5" y="263.1" width="1" height="1" fill="rgb(88, 95, 210)" fill-opacity="0.35"/>
<rect x="234.5" y="263.1" width="1" height="1" fill="rgb(88, 95, 210)" fill-opacity="0.35"/>
<rect x="240.5" y="263.1" width="1" height="1" fill="rgb(88, 95, 210)" fill-opacity="0.35"/>
<rect x="227.30" y="236.00" width="18.30" height="28.00" fill="none" stroke="#777" stroke-width="0.5"/>
<text transform="translate(193.10 262.00) rotate(-90) scale(0.5685 1)" text-anchor="middle" font-size="7.1" fill="#333" stroke="#333" stroke-width="0.12">SSC</text>
<line x1="194.40" y1="268.80" x2="194.40" y2="252.80" stroke="#999" stroke-width="0.7"/>
<polygon points="194.40,250.90 193.40,253.10 195.40,253.10" fill="#111"/>
<text transform="translate(201.10 278.80) scale(0.6744 1)" font-size="6.8" fill="#333" stroke="#333" stroke-width="0.12">NKG2D</text>
<line x1="200.80" y1="272.60" x2="214.60" y2="272.60" stroke="#444" stroke-width="0.8"/>
<polygon points="216.9,272.6 214.3,271.6 214.3,273.6" fill="#111"/>
<line x1="233.70" y1="199.00" x2="233.70" y2="222.50" stroke="#27aae1" stroke-width="1.0"/>
<polygon points="233.7,226 231.7,221.8 235.7,221.8" fill="#27aae1"/>
<line x1="294.20" y1="160.40" x2="294.20" y2="228.60" stroke="#111" stroke-width="1.15"/>
<line x1="293.70" y1="228.10" x2="397.00" y2="228.10" stroke="#111" stroke-width="1.15"/>
<line x1="291.00" y1="228.10" x2="294.20" y2="228.10" stroke="#111" stroke-width="1.15"/>
<text x="290.40" y="231.40" font-size="9.6" text-anchor="end" fill="#1a1a1a" stroke="#1a1a1a" stroke-width="0.12">0</text>
<line x1="291.00" y1="215.72" x2="294.20" y2="215.72" stroke="#111" stroke-width="1.15"/>
<text x="290.40" y="219.02" font-size="9.6" text-anchor="end" fill="#1a1a1a" stroke="#1a1a1a" stroke-width="0.12">20</text>
<line x1="291.00" y1="203.34" x2="294.20" y2="203.34" stroke="#111" stroke-width="1.15"/>
<text x="290.40" y="206.64" font-size="9.6" text-anchor="end" fill="#1a1a1a" stroke="#1a1a1a" stroke-width="0.12">40</text>
<line x1="291.00" y1="190.96" x2="294.20" y2="190.96" stroke="#111" stroke-width="1.15"/>
<text x="290.40" y="194.26" font-size="9.6" text-anchor="end" fill="#1a1a1a" stroke="#1a1a1a" stroke-width="0.12">60</text>
<line x1="291.00" y1="178.58" x2="294.20" y2="178.58" stroke="#111" stroke-width="1.15"/>
<text x="290.40" y="181.88" font-size="9.6" text-anchor="end" fill="#1a1a1a" stroke="#1a1a1a" stroke-width="0.12">80</text>
<line x1="291.00" y1="166.20" x2="294.20" y2="166.20" stroke="#111" stroke-width="1.15"/>
<text x="290.40" y="169.50" font-size="9.6" text-anchor="end" fill="#1a1a1a" stroke="#1a1a1a" stroke-width="0.12">100</text>
<rect x="300.20" y="224.39" width="13.50" height="3.71" fill="#C42134"/>
<line x1="306.95" y1="228.10" x2="306.95" y2="230.90" stroke="#111" stroke-width="1.15"/>
<rect x="319.60" y="198.39" width="13.50" height="29.71" fill="#115B98"/>
<line x1="326.35" y1="228.10" x2="326.35" y2="230.90" stroke="#111" stroke-width="1.15"/>
<rect x="339.30" y="184.77" width="12.60" height="43.33" fill="#3DB44E"/>
<line x1="345.60" y1="228.10" x2="345.60" y2="230.90" stroke="#111" stroke-width="1.15"/>
<rect x="358.10" y="173.63" width="13.20" height="54.47" fill="#5C2A6B"/>
<line x1="364.70" y1="228.10" x2="364.70" y2="230.90" stroke="#111" stroke-width="1.15"/>
<rect x="377.10" y="182.91" width="13.50" height="45.19" fill="#F5921E"/>
<line x1="383.85" y1="228.10" x2="383.85" y2="230.90" stroke="#111" stroke-width="1.15"/>
<line x1="306.95" y1="220.36" x2="306.95" y2="227.48" stroke="#111" stroke-width="1.1"/>
<line x1="303.65" y1="220.36" x2="310.25" y2="220.36" stroke="#111" stroke-width="1.1"/>
<line x1="303.65" y1="227.48" x2="310.25" y2="227.48" stroke="#111" stroke-width="1.1"/>
<circle cx="302.00" cy="226.50" r="1.3" fill="#000"/>
<circle cx="304.50" cy="227.20" r="1.3" fill="#000"/>
<circle cx="307.00" cy="224.00" r="1.3" fill="#000"/>
<circle cx="309.50" cy="226.80" r="1.3" fill="#000"/>
<circle cx="312.00" cy="225.50" r="1.3" fill="#000"/>
<circle cx="305.00" cy="221.40" r="1.3" fill="#000"/>
<circle cx="310.00" cy="221.80" r="1.3" fill="#000"/>
<circle cx="307.00" cy="227.80" r="1.3" fill="#000"/>
<line x1="326.35" y1="186.01" x2="326.35" y2="210.77" stroke="#111" stroke-width="1.1"/>
<line x1="323.05" y1="186.01" x2="329.65" y2="186.01" stroke="#111" stroke-width="1.1"/>
<line x1="323.05" y1="210.77" x2="329.65" y2="210.77" stroke="#111" stroke-width="1.1"/>
<circle cx="323.00" cy="183.50" r="1.3" fill="#000"/>
<circle cx="330.50" cy="181.00" r="1.3" fill="#000"/>
<circle cx="326.30" cy="190.50" r="1.3" fill="#000"/>
<circle cx="326.30" cy="196.00" r="1.3" fill="#000"/>
<circle cx="321.50" cy="201.20" r="1.3" fill="#000"/>
<circle cx="330.50" cy="201.20" r="1.3" fill="#000"/>
<circle cx="326.30" cy="205.50" r="1.3" fill="#000"/>
<circle cx="324.00" cy="211.00" r="1.3" fill="#000"/>
<circle cx="326.30" cy="219.50" r="1.3" fill="#000"/>
<line x1="345.60" y1="173.63" x2="345.60" y2="195.91" stroke="#111" stroke-width="1.1"/>
<line x1="342.30" y1="173.63" x2="348.90" y2="173.63" stroke="#111" stroke-width="1.1"/>
<line x1="342.30" y1="195.91" x2="348.90" y2="195.91" stroke="#111" stroke-width="1.1"/>
<circle cx="345.60" cy="168.20" r="1.3" fill="#000"/>
<circle cx="342.20" cy="188.50" r="1.3" fill="#000"/>
<circle cx="348.50" cy="188.50" r="1.3" fill="#000"/>
<circle cx="345.60" cy="195.50" r="1.3" fill="#000"/>
<line x1="364.70" y1="166.20" x2="364.70" y2="178.58" stroke="#111" stroke-width="1.1"/>
<line x1="361.40" y1="166.20" x2="368.00" y2="166.20" stroke="#111" stroke-width="1.1"/>
<line x1="361.40" y1="178.58" x2="368.00" y2="178.58" stroke="#111" stroke-width="1.1"/>
<circle cx="360.50" cy="167.00" r="1.3" fill="#000"/>
<circle cx="365.00" cy="166.20" r="1.3" fill="#000"/>
<circle cx="369.00" cy="167.50" r="1.3" fill="#000"/>
<circle cx="362.00" cy="170.20" r="1.3" fill="#000"/>
<circle cx="368.50" cy="170.80" r="1.3" fill="#000"/>
<circle cx="361.50" cy="173.00" r="1.3" fill="#000"/>
<circle cx="368.50" cy="174.00" r="1.3" fill="#000"/>
<circle cx="361.60" cy="176.50" r="1.3" fill="#000"/>
<circle cx="366.70" cy="176.50" r="1.3" fill="#000"/>
<circle cx="362.00" cy="187.20" r="1.3" fill="#000"/>
<circle cx="366.50" cy="187.20" r="1.3" fill="#000"/>
<line x1="383.85" y1="168.68" x2="383.85" y2="197.15" stroke="#111" stroke-width="1.1"/>
<line x1="380.55" y1="168.68" x2="387.15" y2="168.68" stroke="#111" stroke-width="1.1"/>
<line x1="380.55" y1="197.15" x2="387.15" y2="197.15" stroke="#111" stroke-width="1.1"/>
<circle cx="378.75" cy="170.80" r="1.3" fill="#000"/>
<circle cx="388.50" cy="170.20" r="1.3" fill="#000"/>
<circle cx="378.75" cy="178.75" r="1.3" fill="#000"/>
<circle cx="384.00" cy="181.25" r="1.3" fill="#000"/>
<circle cx="384.00" cy="169.20" r="1.3" fill="#000"/>
<circle cx="384.00" cy="193.10" r="1.3" fill="#000"/>
<circle cx="384.00" cy="198.30" r="1.3" fill="#000"/>
<circle cx="384.00" cy="207.70" r="1.3" fill="#000"/>
<text transform="translate(268.80 194.65) rotate(-90) scale(0.8158 1)" text-anchor="middle" font-size="10" fill="#1a1a1a" stroke="#1a1a1a" stroke-width="0.12">%CD3<tspan dy="-3.8" font-size="7.5">-</tspan><tspan dy="3.8">CD56</tspan><tspan dy="-3.8" font-size="7.5">+</tspan><tspan dy="3.8"> cells</tspan></text>
<line x1="342.65" y1="238.75" x2="347.85" y2="238.75" stroke="#1e1e1e" stroke-width="0.95"/>
<line x1="345.25" y1="236.25" x2="345.25" y2="241.25" stroke="#1e1e1e" stroke-width="0.95"/>
<line x1="361.65" y1="238.75" x2="366.85" y2="238.75" stroke="#1e1e1e" stroke-width="0.95"/>
<line x1="364.25" y1="236.25" x2="364.25" y2="241.25" stroke="#1e1e1e" stroke-width="0.95"/>
<line x1="380.90" y1="238.75" x2="386.10" y2="238.75" stroke="#1e1e1e" stroke-width="0.95"/>
<line x1="383.50" y1="236.25" x2="383.50" y2="241.25" stroke="#1e1e1e" stroke-width="0.95"/>
<text transform="translate(395.40 241.65) scale(0.9951 1)" font-size="9.7" fill="#1a1a1a" stroke="#1a1a1a" stroke-width="0.12">AAV</text>
<line x1="344.15" y1="249.85" x2="346.35" y2="249.85" stroke="#333" stroke-width="1.0"/>
<line x1="361.65" y1="249.25" x2="366.85" y2="249.25" stroke="#1e1e1e" stroke-width="0.95"/>
<line x1="364.25" y1="246.75" x2="364.25" y2="251.75" stroke="#1e1e1e" stroke-width="0.95"/>
<line x1="380.90" y1="249.25" x2="386.10" y2="249.25" stroke="#1e1e1e" stroke-width="0.95"/>
<line x1="383.50" y1="246.75" x2="383.50" y2="251.75" stroke="#1e1e1e" stroke-width="0.95"/>
<text transform="translate(395.40 252.15) scale(0.9735 1)" font-size="9.7" fill="#1a1a1a" stroke="#1a1a1a" stroke-width="0.12">i53</text>
<line x1="344.15" y1="261.35" x2="346.35" y2="261.35" stroke="#333" stroke-width="1.0"/>
<line x1="363.15" y1="261.35" x2="365.35" y2="261.35" stroke="#333" stroke-width="1.0"/>
<line x1="380.90" y1="260.75" x2="386.10" y2="260.75" stroke="#1e1e1e" stroke-width="0.95"/>
<line x1="383.50" y1="258.25" x2="383.50" y2="263.25" stroke="#1e1e1e" stroke-width="0.95"/>
<text transform="translate(395.40 263.65) scale(0.8965 1)" font-size="9.7" fill="#1a1a1a" stroke="#1a1a1a" stroke-width="0.12">hGSE</text>
<text transform="translate(299.15 241.60) scale(0.9636 1)" font-size="9.7" fill="#1a1a1a" stroke="#1a1a1a" stroke-width="0.12">HD</text>
<text transform="translate(314.90 241.60) scale(1.0182 1)" font-size="9.7" fill="#1a1a1a" stroke="#1a1a1a" stroke-width="0.12">Naive</text>
<line x1="318.00" y1="268.00" x2="392.75" y2="268.00" stroke="#161616" stroke-width="1.2"/>
<text transform="translate(355.25 278.75) scale(0.8064 1)" text-anchor="middle" font-size="10" fill="#1a1a1a" stroke="#1a1a1a" stroke-width="0.12">XMEN</text>
<text x="9.20" y="304.70" font-size="13.2" font-weight="bold" fill="#000">D</text>
<line x1="44.20" y1="329.00" x2="44.20" y2="397.40" stroke="#111" stroke-width="1.15"/>
<line x1="43.70" y1="396.90" x2="147.90" y2="396.90" stroke="#111" stroke-width="1.15"/>
<line x1="41.00" y1="396.90" x2="44.20" y2="396.90" stroke="#111" stroke-width="1.15"/>
<text x="40.40" y="400.20" font-size="9.6" text-anchor="end" fill="#1a1a1a" stroke="#1a1a1a" stroke-width="0.12">0</text>
<line x1="41.00" y1="384.16" x2="44.20" y2="384.16" stroke="#111" stroke-width="1.15"/>
<text x="40.40" y="387.46" font-size="9.6" text-anchor="end" fill="#1a1a1a" stroke="#1a1a1a" stroke-width="0.12">20</text>
<line x1="41.00" y1="371.42" x2="44.20" y2="371.42" stroke="#111" stroke-width="1.15"/>
<text x="40.40" y="374.72" font-size="9.6" text-anchor="end" fill="#1a1a1a" stroke="#1a1a1a" stroke-width="0.12">40</text>
<line x1="41.00" y1="358.68" x2="44.20" y2="358.68" stroke="#111" stroke-width="1.15"/>
<text x="40.40" y="361.98" font-size="9.6" text-anchor="end" fill="#1a1a1a" stroke="#1a1a1a" stroke-width="0.12">60</text>
<line x1="41.00" y1="345.94" x2="44.20" y2="345.94" stroke="#111" stroke-width="1.15"/>
<text x="40.40" y="349.24" font-size="9.6" text-anchor="end" fill="#1a1a1a" stroke="#1a1a1a" stroke-width="0.12">80</text>
<line x1="41.00" y1="333.20" x2="44.20" y2="333.20" stroke="#111" stroke-width="1.15"/>
<text x="40.40" y="336.50" font-size="9.6" text-anchor="end" fill="#1a1a1a" stroke="#1a1a1a" stroke-width="0.12">100</text>
<rect x="50.90" y="344.03" width="13.50" height="52.87" fill="#C42134"/>
<line x1="57.65" y1="396.90" x2="57.65" y2="399.70" stroke="#111" stroke-width="1.15"/>
<rect x="70.40" y="395.63" width="12.70" height="1.27" fill="#115B98"/>
<line x1="76.75" y1="396.90" x2="76.75" y2="399.70" stroke="#111" stroke-width="1.15"/>
<rect x="89.40" y="387.66" width="13.80" height="9.24" fill="#3DB44E"/>
<line x1="96.30" y1="396.90" x2="96.30" y2="399.70" stroke="#111" stroke-width="1.15"/>
<rect x="108.50" y="378.43" width="13.30" height="18.47" fill="#5C2A6B"/>
<line x1="115.15" y1="396.90" x2="115.15" y2="399.70" stroke="#111" stroke-width="1.15"/>
<rect x="127.50" y="375.24" width="13.80" height="21.66" fill="#F5921E"/>
<line x1="134.40" y1="396.90" x2="134.40" y2="399.70" stroke="#111" stroke-width="1.15"/>
<line x1="57.65" y1="335.75" x2="57.65" y2="354.86" stroke="#111" stroke-width="1.1"/>
<line x1="54.35" y1="335.75" x2="60.95" y2="335.75" stroke="#111" stroke-width="1.1"/>
<line x1="54.35" y1="354.86" x2="60.95" y2="354.86" stroke="#111" stroke-width="1.1"/>
<circle cx="53.90" cy="335.50" r="1.3" fill="#000"/>
<circle cx="59.80" cy="335.50" r="1.3" fill="#000"/>
<circle cx="53.90" cy="339.30" r="1.3" fill="#000"/>
<circle cx="59.40" cy="341.40" r="1.3" fill="#000"/>
<circle cx="54.50" cy="343.60" r="1.3" fill="#000"/>
<circle cx="54.10" cy="348.80" r="1.3" fill="#000"/>
<circle cx="60.20" cy="353.00" r="1.3" fill="#000"/>
<circle cx="54.50" cy="354.10" r="1.3" fill="#000"/>
<line x1="76.75" y1="394.03" x2="76.75" y2="396.90" stroke="#111" stroke-width="1.1"/>
<line x1="74.55" y1="394.03" x2="78.95" y2="394.03" stroke="#111" stroke-width="1.1"/>
<line x1="74.55" y1="396.90" x2="78.95" y2="396.90" stroke="#111" stroke-width="1.1"/>
<circle cx="72.00" cy="396.00" r="1.3" fill="#000"/>
<circle cx="74.50" cy="395.00" r="1.3" fill="#000"/>
<circle cx="76.80" cy="394.50" r="1.3" fill="#000"/>
<circle cx="79.00" cy="395.50" r="1.3" fill="#000"/>
<circle cx="81.00" cy="396.20" r="1.3" fill="#000"/>
<circle cx="77.00" cy="396.50" r="1.3" fill="#000"/>
<line x1="96.30" y1="381.93" x2="96.30" y2="393.40" stroke="#111" stroke-width="1.1"/>
<line x1="93.00" y1="381.93" x2="99.60" y2="381.93" stroke="#111" stroke-width="1.1"/>
<line x1="93.00" y1="393.40" x2="99.60" y2="393.40" stroke="#111" stroke-width="1.1"/>
<circle cx="96.20" cy="382.30" r="1.3" fill="#000"/>
<circle cx="99.60" cy="388.00" r="1.3" fill="#000"/>
<circle cx="96.20" cy="392.90" r="1.3" fill="#000"/>
<line x1="115.15" y1="367.60" x2="115.15" y2="389.57" stroke="#111" stroke-width="1.1"/>
<line x1="111.85" y1="367.60" x2="118.45" y2="367.60" stroke="#111" stroke-width="1.1"/>
<line x1="111.85" y1="389.57" x2="118.45" y2="389.57" stroke="#111" stroke-width="1.1"/>
<circle cx="116.10" cy="355.20" r="1.3" fill="#000"/>
<circle cx="111.00" cy="377.80" r="1.3" fill="#000"/>
<circle cx="120.70" cy="377.80" r="1.3" fill="#000"/>
<circle cx="114.80" cy="381.20" r="1.3" fill="#000"/>
<circle cx="115.90" cy="384.80" r="1.3" fill="#000"/>
<circle cx="113.80" cy="389.00" r="1.3" fill="#000"/>
<circle cx="119.50" cy="389.70" r="1.3" fill="#000"/>
<line x1="134.40" y1="365.05" x2="134.40" y2="384.80" stroke="#111" stroke-width="1.1"/>
<line x1="131.10" y1="365.05" x2="137.70" y2="365.05" stroke="#111" stroke-width="1.1"/>
<line x1="131.10" y1="384.80" x2="137.70" y2="384.80" stroke="#111" stroke-width="1.1"/>
<circle cx="136.00" cy="362.00" r="1.3" fill="#000"/>
<circle cx="130.70" cy="369.60" r="1.3" fill="#000"/>
<circle cx="140.20" cy="366.80" r="1.3" fill="#000"/>
<circle cx="134.90" cy="374.20" r="1.3" fill="#000"/>
<circle cx="136.00" cy="381.60" r="1.3" fill="#000"/>
<circle cx="130.70" cy="388.00" r="1.3" fill="#000"/>
<circle cx="140.60" cy="387.00" r="1.3" fill="#000"/>
<text transform="translate(18.40 355.45) rotate(-90) scale(0.7966 1)" text-anchor="middle" font-size="10" fill="#1a1a1a" stroke="#1a1a1a" stroke-width="0.12">%NKG2D positive cells</text>
<line x1="94.65" y1="407.50" x2="99.85" y2="407.50" stroke="#1e1e1e" stroke-width="0.95"/>
<line x1="97.25" y1="405.00" x2="97.25" y2="410.00" stroke="#1e1e1e" stroke-width="0.95"/>
<line x1="113.40" y1="407.50" x2="118.60" y2="407.50" stroke="#1e1e1e" stroke-width="0.95"/>
<line x1="116.00" y1="405.00" x2="116.00" y2="410.00" stroke="#1e1e1e" stroke-width="0.95"/>
<line x1="132.70" y1="407.50" x2="137.90" y2="407.50" stroke="#1e1e1e" stroke-width="0.95"/>
<line x1="135.30" y1="405.00" x2="135.30" y2="410.00" stroke="#1e1e1e" stroke-width="0.95"/>
<text transform="translate(148.30 410.40) scale(0.9951 1)" font-size="9.7" fill="#1a1a1a" stroke="#1a1a1a" stroke-width="0.12">AAV</text>
<line x1="96.15" y1="419.35" x2="98.35" y2="419.35" stroke="#333" stroke-width="1.0"/>
<line x1="113.40" y1="418.75" x2="118.60" y2="418.75" stroke="#1e1e1e" stroke-width="0.95"/>
<line x1="116.00" y1="416.25" x2="116.00" y2="421.25" stroke="#1e1e1e" stroke-width="0.95"/>
<line x1="132.70" y1="418.75" x2="137.90" y2="418.75" stroke="#1e1e1e" stroke-width="0.95"/>
<line x1="135.30" y1="416.25" x2="135.30" y2="421.25" stroke="#1e1e1e" stroke-width="0.95"/>
<text transform="translate(148.30 421.65) scale(0.9735 1)" font-size="9.7" fill="#1a1a1a" stroke="#1a1a1a" stroke-width="0.12">i53</text>
<line x1="96.15" y1="430.35" x2="98.35" y2="430.35" stroke="#333" stroke-width="1.0"/>
<line x1="114.90" y1="430.35" x2="117.10" y2="430.35" stroke="#333" stroke-width="1.0"/>
<line x1="132.70" y1="429.75" x2="137.90" y2="429.75" stroke="#1e1e1e" stroke-width="0.95"/>
<line x1="135.30" y1="427.25" x2="135.30" y2="432.25" stroke="#1e1e1e" stroke-width="0.95"/>
<text transform="translate(148.30 432.65) scale(0.8965 1)" font-size="9.7" fill="#1a1a1a" stroke="#1a1a1a" stroke-width="0.12">hGSE</text>
<text transform="translate(49.90 410.40) scale(1.0349 1)" font-size="9.7" fill="#1a1a1a" stroke="#1a1a1a" stroke-width="0.12">HD</text>
<text transform="translate(66.65 410.40) scale(1.0182 1)" font-size="9.7" fill="#1a1a1a" stroke="#1a1a1a" stroke-width="0.12">Naive</text>
<line x1="73.00" y1="435.00" x2="142.25" y2="435.00" stroke="#161616" stroke-width="1.2"/>
<text transform="translate(109.00 445.50) scale(0.8064 1)" text-anchor="middle" font-size="10" fill="#1a1a1a" stroke="#1a1a1a" stroke-width="0.12">XMEN</text>
<polyline points="76.10,335.80 76.10,331.20 134.60,331.20 134.60,335.80" fill="none" stroke="#111" stroke-width="0.9"/>
<text x="105.35" y="0.00" font-size="8" text-anchor="middle" fill="#1a1a1a" stroke="#1a1a1a" stroke-width="0.12"></text>
<circle cx="100.45" cy="328.00" r="1.45" fill="#000"/>
<circle cx="104.05" cy="328.00" r="1.45" fill="#000"/>
<circle cx="107.65" cy="328.00" r="1.45" fill="#000"/>
<circle cx="111.25" cy="328.00" r="1.45" fill="#000"/>
<polyline points="76.10,347.60 76.10,342.90 114.60,342.90 114.60,347.60" fill="none" stroke="#111" stroke-width="0.9"/>
<text x="95.35" y="0.00" font-size="8" text-anchor="middle" fill="#1a1a1a" stroke="#1a1a1a" stroke-width="0.12"></text>
<circle cx="91.75" cy="339.80" r="1.45" fill="#000"/>
<circle cx="95.35" cy="339.80" r="1.45" fill="#000"/>
<circle cx="98.95" cy="339.80" r="1.45" fill="#000"/>
<polyline points="76.10,358.90 76.10,355.00 95.80,355.00 95.80,358.90" fill="none" stroke="#111" stroke-width="0.9"/>
<text x="85.95" y="0.00" font-size="8" text-anchor="middle" fill="#1a1a1a" stroke="#1a1a1a" stroke-width="0.12"></text>
<text x="88.00" y="353.00" font-size="8.2" text-anchor="middle" fill="#222" stroke="#222" stroke-width="0.12">ns</text>
<text x="187.20" y="304.70" font-size="13.2" font-weight="bold" fill="#000">E</text>
<line x1="223.20" y1="314.20" x2="223.20" y2="397.90" stroke="#111" stroke-width="1.15"/>
<line x1="222.70" y1="397.40" x2="322.90" y2="397.40" stroke="#111" stroke-width="1.15"/>
<line x1="220.00" y1="397.40" x2="223.20" y2="397.40" stroke="#111" stroke-width="1.15"/>
<text x="217.80" y="400.70" font-size="9.6" text-anchor="end" fill="#1a1a1a" stroke="#1a1a1a" stroke-width="0.12">0</text>
<line x1="220.00" y1="382.28" x2="223.20" y2="382.28" stroke="#111" stroke-width="1.15"/>
<text x="217.80" y="385.58" font-size="9.6" text-anchor="end" fill="#1a1a1a" stroke="#1a1a1a" stroke-width="0.12">20</text>
<line x1="220.00" y1="367.16" x2="223.20" y2="367.16" stroke="#111" stroke-width="1.15"/>
<text x="217.80" y="370.46" font-size="9.6" text-anchor="end" fill="#1a1a1a" stroke="#1a1a1a" stroke-width="0.12">40</text>
<line x1="220.00" y1="352.04" x2="223.20" y2="352.04" stroke="#111" stroke-width="1.15"/>
<text x="217.80" y="355.34" font-size="9.6" text-anchor="end" fill="#1a1a1a" stroke="#1a1a1a" stroke-width="0.12">60</text>
<line x1="220.00" y1="336.92" x2="223.20" y2="336.92" stroke="#111" stroke-width="1.15"/>
<text x="217.80" y="340.22" font-size="9.6" text-anchor="end" fill="#1a1a1a" stroke="#1a1a1a" stroke-width="0.12">80</text>
<line x1="220.00" y1="321.80" x2="223.20" y2="321.80" stroke="#111" stroke-width="1.15"/>
<text x="217.80" y="325.10" font-size="9.6" text-anchor="end" fill="#1a1a1a" stroke="#1a1a1a" stroke-width="0.12">100</text>
<rect x="231.90" y="321.80" width="13.70" height="75.60" fill="#C42134"/>
<line x1="238.75" y1="397.40" x2="238.75" y2="400.20" stroke="#111" stroke-width="1.15"/>
<rect x="255.20" y="344.48" width="13.50" height="52.92" fill="#3DB44E"/>
<line x1="261.95" y1="397.40" x2="261.95" y2="400.20" stroke="#111" stroke-width="1.15"/>
<rect x="279.00" y="339.57" width="12.70" height="57.83" fill="#5C2A6B"/>
<line x1="285.35" y1="397.40" x2="285.35" y2="400.20" stroke="#111" stroke-width="1.15"/>
<rect x="300.80" y="336.16" width="13.40" height="61.24" fill="#F5921E"/>
<line x1="307.50" y1="397.40" x2="307.50" y2="400.20" stroke="#111" stroke-width="1.15"/>
<line x1="261.95" y1="328.98" x2="261.95" y2="361.49" stroke="#111" stroke-width="1.1"/>
<line x1="258.65" y1="328.98" x2="265.25" y2="328.98" stroke="#111" stroke-width="1.1"/>
<line x1="258.65" y1="361.49" x2="265.25" y2="361.49" stroke="#111" stroke-width="1.1"/>
<circle cx="258.50" cy="336.00" r="1.3" fill="#000"/>
<circle cx="265.60" cy="335.60" r="1.3" fill="#000"/>
<circle cx="261.90" cy="340.00" r="1.3" fill="#000"/>
<circle cx="261.90" cy="369.60" r="1.3" fill="#000"/>
<line x1="285.35" y1="325.58" x2="285.35" y2="353.17" stroke="#111" stroke-width="1.1"/>
<line x1="282.05" y1="325.58" x2="288.65" y2="325.58" stroke="#111" stroke-width="1.1"/>
<line x1="282.05" y1="353.17" x2="288.65" y2="353.17" stroke="#111" stroke-width="1.1"/>
<circle cx="281.20" cy="324.40" r="1.3" fill="#000"/>
<circle cx="288.30" cy="322.50" r="1.3" fill="#000"/>
<circle cx="281.20" cy="333.10" r="1.3" fill="#000"/>
<circle cx="288.30" cy="334.60" r="1.3" fill="#000"/>
<circle cx="285.40" cy="344.80" r="1.3" fill="#000"/>
<circle cx="285.40" cy="355.80" r="1.3" fill="#000"/>
<circle cx="285.40" cy="363.50" r="1.3" fill="#000"/>
<line x1="307.50" y1="324.45" x2="307.50" y2="349.77" stroke="#111" stroke-width="1.1"/>
<line x1="304.20" y1="324.45" x2="310.80" y2="324.45" stroke="#111" stroke-width="1.1"/>
<line x1="304.20" y1="349.77" x2="310.80" y2="349.77" stroke="#111" stroke-width="1.1"/>
<circle cx="304.00" cy="318.70" r="1.3" fill="#000"/>
<circle cx="311.30" cy="320.60" r="1.3" fill="#000"/>
<circle cx="307.50" cy="328.80" r="1.3" fill="#000"/>
<circle cx="307.50" cy="339.00" r="1.3" fill="#000"/>
<circle cx="304.00" cy="343.30" r="1.3" fill="#000"/>
<circle cx="311.30" cy="343.70" r="1.3" fill="#000"/>
<circle cx="310.40" cy="351.00" r="1.3" fill="#000"/>
<circle cx="304.00" cy="352.90" r="1.3" fill="#000"/>
<rect x="231.2" y="321.5" width="14.8" height="2.4" fill="#000"/>
<text transform="translate(198.00 355.25) rotate(-90) scale(0.8202 1)" text-anchor="middle" font-size="10" fill="#1a1a1a" stroke="#1a1a1a" stroke-width="0.12">% MFI of HD NK cells</text>
<line x1="259.30" y1="407.30" x2="264.50" y2="407.30" stroke="#1e1e1e" stroke-width="0.95"/>
<line x1="261.90" y1="404.80" x2="261.90" y2="409.80" stroke="#1e1e1e" stroke-width="0.95"/>
<line x1="283.00" y1="407.30" x2="288.20" y2="407.30" stroke="#1e1e1e" stroke-width="0.95"/>
<line x1="285.60" y1="404.80" x2="285.60" y2="409.80" stroke="#1e1e1e" stroke-width="0.95"/>
<line x1="304.90" y1="407.30" x2="310.10" y2="407.30" stroke="#1e1e1e" stroke-width="0.95"/>
<line x1="307.50" y1="404.80" x2="307.50" y2="409.80" stroke="#1e1e1e" stroke-width="0.95"/>
<text transform="translate(320.10 410.20) scale(0.9951 1)" font-size="9.7" fill="#1a1a1a" stroke="#1a1a1a" stroke-width="0.12">AAV</text>
<line x1="260.80" y1="419.10" x2="263.00" y2="419.10" stroke="#333" stroke-width="1.0"/>
<line x1="283.00" y1="418.50" x2="288.20" y2="418.50" stroke="#1e1e1e" stroke-width="0.95"/>
<line x1="285.60" y1="416.00" x2="285.60" y2="421.00" stroke="#1e1e1e" stroke-width="0.95"/>
<line x1="304.90" y1="418.50" x2="310.10" y2="418.50" stroke="#1e1e1e" stroke-width="0.95"/>
<line x1="307.50" y1="416.00" x2="307.50" y2="421.00" stroke="#1e1e1e" stroke-width="0.95"/>
<text transform="translate(320.10 421.40) scale(0.9735 1)" font-size="9.7" fill="#1a1a1a" stroke="#1a1a1a" stroke-width="0.12">i53</text>
<line x1="260.80" y1="430.40" x2="263.00" y2="430.40" stroke="#333" stroke-width="1.0"/>
<line x1="284.50" y1="430.40" x2="286.70" y2="430.40" stroke="#333" stroke-width="1.0"/>
<line x1="304.90" y1="429.80" x2="310.10" y2="429.80" stroke="#1e1e1e" stroke-width="0.95"/>
<line x1="307.50" y1="427.30" x2="307.50" y2="432.30" stroke="#1e1e1e" stroke-width="0.95"/>
<text transform="translate(320.10 432.70) scale(0.8965 1)" font-size="9.7" fill="#1a1a1a" stroke="#1a1a1a" stroke-width="0.12">hGSE</text>
<text transform="translate(231.30 410.20) scale(1.0349 1)" font-size="9.7" fill="#1a1a1a" stroke="#1a1a1a" stroke-width="0.12">HD</text>
<line x1="251.90" y1="434.50" x2="313.10" y2="434.50" stroke="#161616" stroke-width="1.2"/>
<text transform="translate(283.75 446.00) scale(0.8203 1)" text-anchor="middle" font-size="10" fill="#1a1a1a" stroke="#1a1a1a" stroke-width="0.12">XMEN</text>
<polyline points="238.30,316.30 238.30,312.10 308.10,312.10 308.10,316.30" fill="none" stroke="#111" stroke-width="0.9"/>
<text x="273.20" y="0.00" font-size="8" text-anchor="middle" fill="#1a1a1a" stroke="#1a1a1a" stroke-width="0.12"></text>
<text x="274.10" y="310.20" font-size="7.8" text-anchor="middle" fill="#333" stroke="#333" stroke-width="0.12">ns</text>
<text x="359.30" y="306.40" font-size="13.2" font-weight="bold" fill="#000">F</text>
<line x1="393.70" y1="314.90" x2="393.70" y2="400.70" stroke="#111" stroke-width="1.15"/>
<line x1="393.20" y1="400.20" x2="494.60" y2="400.20" stroke="#111" stroke-width="1.15"/>
<line x1="390.50" y1="400.20" x2="393.70" y2="400.20" stroke="#111" stroke-width="1.15"/>
<text x="389.90" y="403.50" font-size="9.6" text-anchor="end" fill="#1a1a1a" stroke="#1a1a1a" stroke-width="0.12">0</text>
<line x1="390.50" y1="378.88" x2="393.70" y2="378.88" stroke="#111" stroke-width="1.15"/>
<text x="389.90" y="382.18" font-size="9.6" text-anchor="end" fill="#1a1a1a" stroke="#1a1a1a" stroke-width="0.12">20</text>
<line x1="390.50" y1="357.55" x2="393.70" y2="357.55" stroke="#111" stroke-width="1.15"/>
<text x="389.90" y="360.85" font-size="9.6" text-anchor="end" fill="#1a1a1a" stroke="#1a1a1a" stroke-width="0.12">40</text>
<line x1="390.50" y1="336.22" x2="393.70" y2="336.22" stroke="#111" stroke-width="1.15"/>
<text x="389.90" y="339.53" font-size="9.6" text-anchor="end" fill="#1a1a1a" stroke="#1a1a1a" stroke-width="0.12">60</text>
<line x1="390.50" y1="314.90" x2="393.70" y2="314.90" stroke="#111" stroke-width="1.15"/>
<text x="389.90" y="318.20" font-size="9.6" text-anchor="end" fill="#1a1a1a" stroke="#1a1a1a" stroke-width="0.12">80</text>
<rect x="425.50" y="372.48" width="13.60" height="27.72" fill="#3DB44E"/>
<line x1="432.30" y1="400.20" x2="432.30" y2="403.00" stroke="#111" stroke-width="1.15"/>
<rect x="449.90" y="363.95" width="13.10" height="36.25" fill="#5C2A6B"/>
<line x1="456.20" y1="400.20" x2="456.20" y2="403.00" stroke="#111" stroke-width="1.15"/>
<rect x="472.90" y="344.75" width="13.80" height="55.44" fill="#F5921E"/>
<line x1="479.90" y1="400.20" x2="479.90" y2="403.00" stroke="#111" stroke-width="1.15"/>
<line x1="432.30" y1="353.28" x2="432.30" y2="389.54" stroke="#111" stroke-width="1.1"/>
<line x1="429.00" y1="353.28" x2="435.60" y2="353.28" stroke="#111" stroke-width="1.1"/>
<line x1="429.00" y1="389.54" x2="435.60" y2="389.54" stroke="#111" stroke-width="1.1"/>
<circle cx="429.10" cy="356.50" r="1.3" fill="#000"/>
<circle cx="436.50" cy="354.60" r="1.3" fill="#000"/>
<circle cx="436.10" cy="385.30" r="1.3" fill="#000"/>
<line x1="456.20" y1="350.09" x2="456.20" y2="377.81" stroke="#111" stroke-width="1.1"/>
<line x1="452.90" y1="350.09" x2="459.50" y2="350.09" stroke="#111" stroke-width="1.1"/>
<line x1="452.90" y1="377.81" x2="459.50" y2="377.81" stroke="#111" stroke-width="1.1"/>
<circle cx="456.20" cy="347.00" r="1.3" fill="#000"/>
<circle cx="456.20" cy="355.40" r="1.3" fill="#000"/>
<circle cx="452.80" cy="365.20" r="1.3" fill="#000"/>
<circle cx="459.80" cy="368.80" r="1.3" fill="#000"/>
<circle cx="456.20" cy="381.40" r="1.3" fill="#000"/>
<line x1="479.90" y1="326.63" x2="479.90" y2="362.88" stroke="#111" stroke-width="1.1"/>
<line x1="476.60" y1="326.63" x2="483.20" y2="326.63" stroke="#111" stroke-width="1.1"/>
<line x1="476.60" y1="362.88" x2="483.20" y2="362.88" stroke="#111" stroke-width="1.1"/>
<circle cx="476.30" cy="321.60" r="1.3" fill="#000"/>
<circle cx="483.10" cy="323.90" r="1.3" fill="#000"/>
<circle cx="476.30" cy="338.10" r="1.3" fill="#000"/>
<circle cx="483.10" cy="334.90" r="1.3" fill="#000"/>
<circle cx="476.30" cy="356.10" r="1.3" fill="#000"/>
<circle cx="483.10" cy="353.90" r="1.3" fill="#000"/>
<circle cx="479.90" cy="366.00" r="1.3" fill="#000"/>
<circle cx="403.30" cy="400.10" r="1.25" fill="#000"/>
<circle cx="405.90" cy="400.10" r="1.25" fill="#000"/>
<circle cx="408.50" cy="400.10" r="1.25" fill="#000"/>
<circle cx="411.00" cy="400.10" r="1.25" fill="#000"/>
<circle cx="413.50" cy="400.10" r="1.25" fill="#000"/>
<circle cx="415.90" cy="400.10" r="1.25" fill="#000"/>
<line x1="409.60" y1="400.20" x2="409.60" y2="403.00" stroke="#111" stroke-width="1.15"/>
<text transform="translate(369.20 357.10) rotate(-90) scale(0.8682 1)" text-anchor="middle" font-size="9.8" fill="#1a1a1a" stroke="#1a1a1a" stroke-width="0.12">Targeted integration (%)</text>
<line x1="429.40" y1="410.60" x2="434.60" y2="410.60" stroke="#1e1e1e" stroke-width="0.95"/>
<line x1="432.00" y1="408.10" x2="432.00" y2="413.10" stroke="#1e1e1e" stroke-width="0.95"/>
<line x1="453.65" y1="410.60" x2="458.85" y2="410.60" stroke="#1e1e1e" stroke-width="0.95"/>
<line x1="456.25" y1="408.10" x2="456.25" y2="413.10" stroke="#1e1e1e" stroke-width="0.95"/>
<line x1="477.00" y1="410.60" x2="482.20" y2="410.60" stroke="#1e1e1e" stroke-width="0.95"/>
<line x1="479.60" y1="408.10" x2="479.60" y2="413.10" stroke="#1e1e1e" stroke-width="0.95"/>
<text transform="translate(489.70 413.50) scale(0.9951 1)" font-size="9.7" fill="#1a1a1a" stroke="#1a1a1a" stroke-width="0.12">AAV</text>
<line x1="430.90" y1="422.40" x2="433.10" y2="422.40" stroke="#333" stroke-width="1.0"/>
<line x1="453.65" y1="421.80" x2="458.85" y2="421.80" stroke="#1e1e1e" stroke-width="0.95"/>
<line x1="456.25" y1="419.30" x2="456.25" y2="424.30" stroke="#1e1e1e" stroke-width="0.95"/>
<line x1="477.00" y1="421.80" x2="482.20" y2="421.80" stroke="#1e1e1e" stroke-width="0.95"/>
<line x1="479.60" y1="419.30" x2="479.60" y2="424.30" stroke="#1e1e1e" stroke-width="0.95"/>
<text transform="translate(489.70 424.70) scale(0.9735 1)" font-size="9.7" fill="#1a1a1a" stroke="#1a1a1a" stroke-width="0.12">i53</text>
<line x1="430.90" y1="433.40" x2="433.10" y2="433.40" stroke="#333" stroke-width="1.0"/>
<line x1="455.15" y1="433.40" x2="457.35" y2="433.40" stroke="#333" stroke-width="1.0"/>
<line x1="477.00" y1="432.80" x2="482.20" y2="432.80" stroke="#1e1e1e" stroke-width="0.95"/>
<line x1="479.60" y1="430.30" x2="479.60" y2="435.30" stroke="#1e1e1e" stroke-width="0.95"/>
<text transform="translate(489.70 435.70) scale(0.8965 1)" font-size="9.7" fill="#1a1a1a" stroke="#1a1a1a" stroke-width="0.12">hGSE</text>
<text transform="translate(397.40 413.60) scale(1.0081 1)" font-size="9.7" fill="#1a1a1a" stroke="#1a1a1a" stroke-width="0.12">Naive</text>
<line x1="393.75" y1="437.60" x2="489.40" y2="437.60" stroke="#161616" stroke-width="1.2"/>
<text transform="translate(441.75 448.75) scale(0.8064 1)" text-anchor="middle" font-size="10" fill="#1a1a1a" stroke="#1a1a1a" stroke-width="0.12">XMEN</text>
<polyline points="432.3,334.3 432.3,309.3 478.9,309.3 478.9,314.2" fill="none" stroke="#111" stroke-width="0.9"/>
<circle cx="454.60" cy="305.10" r="1.75" fill="#000"/>
<text x="7.50" y="471.00" font-size="13.2" font-weight="bold" fill="#000">G</text>
<line x1="43.85" y1="474.00" x2="43.85" y2="565.30" stroke="#111" stroke-width="1.15"/>
<line x1="43.35" y1="564.80" x2="156.90" y2="564.80" stroke="#111" stroke-width="1.15"/>
<line x1="40.65" y1="564.80" x2="43.85" y2="564.80" stroke="#111" stroke-width="1.15"/>
<text x="40.05" y="568.10" font-size="9.6" text-anchor="end" fill="#1a1a1a" stroke="#1a1a1a" stroke-width="0.12">0</text>
<line x1="40.65" y1="534.53" x2="43.85" y2="534.53" stroke="#111" stroke-width="1.15"/>
<text x="40.05" y="537.84" font-size="9.6" text-anchor="end" fill="#1a1a1a" stroke="#1a1a1a" stroke-width="0.12">20</text>
<line x1="40.65" y1="504.27" x2="43.85" y2="504.27" stroke="#111" stroke-width="1.15"/>
<text x="40.05" y="507.57" font-size="9.6" text-anchor="end" fill="#1a1a1a" stroke="#1a1a1a" stroke-width="0.12">40</text>
<line x1="40.65" y1="474.00" x2="43.85" y2="474.00" stroke="#111" stroke-width="1.15"/>
<text x="40.05" y="477.30" font-size="9.6" text-anchor="end" fill="#1a1a1a" stroke="#1a1a1a" stroke-width="0.12">60</text>
<rect x="51.00" y="520.91" width="13.80" height="43.89" fill="#C42134"/>
<line x1="58.00" y1="564.80" x2="58.00" y2="567.60" stroke="#111" stroke-width="1.15"/>
<rect x="71.70" y="551.94" width="13.80" height="12.86" fill="#115B98"/>
<line x1="78.50" y1="564.80" x2="78.50" y2="567.60" stroke="#111" stroke-width="1.15"/>
<rect x="92.50" y="537.56" width="13.50" height="27.24" fill="#3DB44E"/>
<line x1="99.20" y1="564.80" x2="99.20" y2="567.60" stroke="#111" stroke-width="1.15"/>
<rect x="113.00" y="528.78" width="13.30" height="36.02" fill="#5C2A6B"/>
<line x1="119.50" y1="564.80" x2="119.50" y2="567.60" stroke="#111" stroke-width="1.15"/>
<rect x="134.10" y="521.67" width="13.80" height="43.13" fill="#F5921E"/>
<line x1="140.90" y1="564.80" x2="140.90" y2="567.60" stroke="#111" stroke-width="1.15"/>
<line x1="58.00" y1="513.35" x2="58.00" y2="528.48" stroke="#111" stroke-width="1.1"/>
<line x1="54.70" y1="513.35" x2="61.30" y2="513.35" stroke="#111" stroke-width="1.1"/>
<line x1="54.70" y1="528.48" x2="61.30" y2="528.48" stroke="#111" stroke-width="1.1"/>
<circle cx="58.00" cy="512.60" r="1.3" fill="#000"/>
<circle cx="58.00" cy="516.20" r="1.3" fill="#000"/>
<circle cx="58.00" cy="524.90" r="1.3" fill="#000"/>
<circle cx="58.00" cy="528.50" r="1.3" fill="#000"/>
<line x1="78.50" y1="545.43" x2="78.50" y2="558.75" stroke="#111" stroke-width="1.1"/>
<line x1="75.20" y1="545.43" x2="81.80" y2="545.43" stroke="#111" stroke-width="1.1"/>
<line x1="75.20" y1="558.75" x2="81.80" y2="558.75" stroke="#111" stroke-width="1.1"/>
<circle cx="78.50" cy="543.30" r="1.3" fill="#000"/>
<circle cx="74.90" cy="546.40" r="1.3" fill="#000"/>
<circle cx="81.30" cy="546.40" r="1.3" fill="#000"/>
<circle cx="73.80" cy="553.90" r="1.3" fill="#000"/>
<circle cx="84.00" cy="553.90" r="1.3" fill="#000"/>
<circle cx="78.50" cy="556.40" r="1.3" fill="#000"/>
<circle cx="78.50" cy="561.30" r="1.3" fill="#000"/>
<line x1="99.20" y1="526.97" x2="99.20" y2="547.40" stroke="#111" stroke-width="1.1"/>
<line x1="95.90" y1="526.97" x2="102.50" y2="526.97" stroke="#111" stroke-width="1.1"/>
<line x1="95.90" y1="547.40" x2="102.50" y2="547.40" stroke="#111" stroke-width="1.1"/>
<circle cx="96.10" cy="531.60" r="1.3" fill="#000"/>
<circle cx="102.00" cy="531.00" r="1.3" fill="#000"/>
<circle cx="102.00" cy="534.80" r="1.3" fill="#000"/>
<circle cx="99.20" cy="552.20" r="1.3" fill="#000"/>
<line x1="119.50" y1="513.65" x2="119.50" y2="543.31" stroke="#111" stroke-width="1.1"/>
<line x1="116.20" y1="513.65" x2="122.80" y2="513.65" stroke="#111" stroke-width="1.1"/>
<line x1="116.20" y1="543.31" x2="122.80" y2="543.31" stroke="#111" stroke-width="1.1"/>
<circle cx="115.50" cy="522.10" r="1.3" fill="#000"/>
<circle cx="122.90" cy="521.70" r="1.3" fill="#000"/>
<circle cx="119.50" cy="524.90" r="1.3" fill="#000"/>
<circle cx="115.50" cy="529.10" r="1.3" fill="#000"/>
<circle cx="122.90" cy="532.70" r="1.3" fill="#000"/>
<circle cx="119.50" cy="534.80" r="1.3" fill="#000"/>
<circle cx="115.50" cy="538.00" r="1.3" fill="#000"/>
<circle cx="119.50" cy="550.00" r="1.3" fill="#000"/>
<line x1="140.90" y1="504.27" x2="140.90" y2="538.32" stroke="#111" stroke-width="1.1"/>
<line x1="137.60" y1="504.27" x2="144.20" y2="504.27" stroke="#111" stroke-width="1.1"/>
<line x1="137.60" y1="538.32" x2="144.20" y2="538.32" stroke="#111" stroke-width="1.1"/>
<circle cx="140.50" cy="492.50" r="1.3" fill="#000"/>
<circle cx="140.50" cy="508.40" r="1.3" fill="#000"/>
<circle cx="140.50" cy="515.80" r="1.3" fill="#000"/>
<circle cx="137.30" cy="520.40" r="1.3" fill="#000"/>
<circle cx="143.70" cy="521.10" r="1.3" fill="#000"/>
<circle cx="140.50" cy="532.30" r="1.3" fill="#000"/>
<circle cx="136.30" cy="542.80" r="1.3" fill="#000"/>
<circle cx="143.70" cy="541.20" r="1.3" fill="#000"/>
<text transform="translate(19.20 518.85) rotate(-90) scale(0.8717 1)" text-anchor="middle" font-size="10" fill="#1a1a1a" stroke="#1a1a1a" stroke-width="0.12">Killing activity (%)</text>
<line x1="96.40" y1="575.40" x2="101.60" y2="575.40" stroke="#1e1e1e" stroke-width="0.95"/>
<line x1="99.00" y1="572.90" x2="99.00" y2="577.90" stroke="#1e1e1e" stroke-width="0.95"/>
<line x1="116.65" y1="575.40" x2="121.85" y2="575.40" stroke="#1e1e1e" stroke-width="0.95"/>
<line x1="119.25" y1="572.90" x2="119.25" y2="577.90" stroke="#1e1e1e" stroke-width="0.95"/>
<line x1="138.00" y1="575.40" x2="143.20" y2="575.40" stroke="#1e1e1e" stroke-width="0.95"/>
<line x1="140.60" y1="572.90" x2="140.60" y2="577.90" stroke="#1e1e1e" stroke-width="0.95"/>
<text transform="translate(153.90 578.30) scale(0.9951 1)" font-size="9.7" fill="#1a1a1a" stroke="#1a1a1a" stroke-width="0.12">AAV</text>
<line x1="97.90" y1="586.80" x2="100.10" y2="586.80" stroke="#333" stroke-width="1.0"/>
<line x1="116.65" y1="586.20" x2="121.85" y2="586.20" stroke="#1e1e1e" stroke-width="0.95"/>
<line x1="119.25" y1="583.70" x2="119.25" y2="588.70" stroke="#1e1e1e" stroke-width="0.95"/>
<line x1="138.00" y1="586.20" x2="143.20" y2="586.20" stroke="#1e1e1e" stroke-width="0.95"/>
<line x1="140.60" y1="583.70" x2="140.60" y2="588.70" stroke="#1e1e1e" stroke-width="0.95"/>
<text transform="translate(153.90 589.10) scale(0.9735 1)" font-size="9.7" fill="#1a1a1a" stroke="#1a1a1a" stroke-width="0.12">i53</text>
<line x1="97.90" y1="598.00" x2="100.10" y2="598.00" stroke="#333" stroke-width="1.0"/>
<line x1="118.15" y1="598.00" x2="120.35" y2="598.00" stroke="#333" stroke-width="1.0"/>
<line x1="138.00" y1="597.40" x2="143.20" y2="597.40" stroke="#1e1e1e" stroke-width="0.95"/>
<line x1="140.60" y1="594.90" x2="140.60" y2="599.90" stroke="#1e1e1e" stroke-width="0.95"/>
<text transform="translate(153.90 600.30) scale(0.8965 1)" font-size="9.7" fill="#1a1a1a" stroke="#1a1a1a" stroke-width="0.12">hGSE</text>
<text transform="translate(50.90 578.30) scale(1.0171 1)" font-size="9.7" fill="#1a1a1a" stroke="#1a1a1a" stroke-width="0.12">HD</text>
<text transform="translate(65.90 578.30) scale(1.0283 1)" font-size="9.7" fill="#1a1a1a" stroke="#1a1a1a" stroke-width="0.12">Naive</text>
<line x1="73.00" y1="602.90" x2="142.40" y2="602.90" stroke="#161616" stroke-width="1.2"/>
<text transform="translate(109.00 613.50) scale(0.8064 1)" text-anchor="middle" font-size="10" fill="#1a1a1a" stroke="#1a1a1a" stroke-width="0.12">XMEN</text>
<polyline points="81.10,478.90 81.10,474.40 139.30,474.40 139.30,478.90" fill="none" stroke="#111" stroke-width="0.9"/>
<text x="110.20" y="0.00" font-size="8" text-anchor="middle" fill="#1a1a1a" stroke="#1a1a1a" stroke-width="0.12"></text>
<circle cx="107.25" cy="471.30" r="1.35" fill="#000"/>
<circle cx="110.75" cy="471.30" r="1.35" fill="#000"/>
<circle cx="114.25" cy="471.30" r="1.35" fill="#000"/>
<polyline points="81.10,489.00 81.10,484.50 119.50,484.50 119.50,489.00" fill="none" stroke="#111" stroke-width="0.9"/>
<text x="100.30" y="0.00" font-size="8" text-anchor="middle" fill="#1a1a1a" stroke="#1a1a1a" stroke-width="0.12"></text>
<circle cx="98.35" cy="480.80" r="1.35" fill="#000"/>
<circle cx="101.85" cy="480.80" r="1.35" fill="#000"/>
<text x="189.60" y="471.00" font-size="13.2" font-weight="bold" fill="#000">H</text>
<line x1="224.50" y1="473.80" x2="224.50" y2="565.80" stroke="#111" stroke-width="1.15"/>
<line x1="224.00" y1="565.30" x2="356.60" y2="565.30" stroke="#111" stroke-width="1.15"/>
<line x1="221.30" y1="565.30" x2="224.50" y2="565.30" stroke="#111" stroke-width="1.15"/>
<text x="220.00" y="568.60" font-size="9.6" text-anchor="end" fill="#1a1a1a" stroke="#1a1a1a" stroke-width="0.12">0</text>
<line x1="221.30" y1="534.60" x2="224.50" y2="534.60" stroke="#111" stroke-width="1.15"/>
<text x="220.00" y="537.90" font-size="9.6" text-anchor="end" fill="#1a1a1a" stroke="#1a1a1a" stroke-width="0.12">20</text>
<line x1="221.30" y1="504.30" x2="224.50" y2="504.30" stroke="#111" stroke-width="1.15"/>
<text x="220.00" y="507.60" font-size="9.6" text-anchor="end" fill="#1a1a1a" stroke="#1a1a1a" stroke-width="0.12">40</text>
<line x1="221.30" y1="473.80" x2="224.50" y2="473.80" stroke="#111" stroke-width="1.15"/>
<text x="220.00" y="477.10" font-size="9.6" text-anchor="end" fill="#1a1a1a" stroke="#1a1a1a" stroke-width="0.12">60</text>
<line x1="224.50" y1="565.30" x2="224.50" y2="568.10" stroke="#111" stroke-width="1.15"/>
<text x="224.50" y="577.70" font-size="9.6" text-anchor="middle" fill="#1a1a1a" stroke="#1a1a1a" stroke-width="0.12">0</text>
<line x1="257.35" y1="565.30" x2="257.35" y2="568.10" stroke="#111" stroke-width="1.15"/>
<text x="257.35" y="577.70" font-size="9.6" text-anchor="middle" fill="#1a1a1a" stroke="#1a1a1a" stroke-width="0.12">20</text>
<line x1="290.20" y1="565.30" x2="290.20" y2="568.10" stroke="#111" stroke-width="1.15"/>
<text x="290.20" y="577.70" font-size="9.6" text-anchor="middle" fill="#1a1a1a" stroke="#1a1a1a" stroke-width="0.12">40</text>
<line x1="323.05" y1="565.30" x2="323.05" y2="568.10" stroke="#111" stroke-width="1.15"/>
<text x="323.05" y="577.70" font-size="9.6" text-anchor="middle" fill="#1a1a1a" stroke="#1a1a1a" stroke-width="0.12">60</text>
<line x1="355.90" y1="565.30" x2="355.90" y2="568.10" stroke="#111" stroke-width="1.15"/>
<text x="355.90" y="577.70" font-size="9.6" text-anchor="middle" fill="#1a1a1a" stroke="#1a1a1a" stroke-width="0.12">80</text>
<text transform="translate(290.80 592.00) scale(0.8086 1)" text-anchor="middle" font-size="10" fill="#1a1a1a" stroke="#1a1a1a" stroke-width="0.12">%NKG2D expression</text>
<text transform="translate(199.40 519.60) rotate(-90) scale(0.8481 1)" text-anchor="middle" font-size="10.3" fill="#1a1a1a" stroke="#1a1a1a" stroke-width="0.12">%Killing activity</text>
<text x="227.60" y="483.80" font-size="8.3" textLength="81.0" lengthAdjust="spacingAndGlyphs" fill="#1a1a1a" stroke="#1a1a1a" stroke-width="0.12">Spearman, <tspan font-style="italic">r</tspan> = 0.6491</text>
<text x="227.60" y="493.60" font-size="8.3" textLength="39.8" lengthAdjust="spacingAndGlyphs" fill="#1a1a1a" stroke="#1a1a1a" stroke-width="0.12">p = 0.0001</text>
<circle cx="225.50" cy="531.75" r="1.35" fill="#CC1B2E"/>
<circle cx="233.00" cy="532.50" r="1.35" fill="#CC1B2E"/>
<circle cx="247.50" cy="529.25" r="1.35" fill="#CC1B2E"/>
<circle cx="258.25" cy="525.00" r="1.35" fill="#CC1B2E"/>
<circle cx="264.25" cy="521.25" r="1.35" fill="#CC1B2E"/>
<circle cx="266.75" cy="523.25" r="1.35" fill="#CC1B2E"/>
<circle cx="265.00" cy="531.25" r="1.35" fill="#CC1B2E"/>
<circle cx="257.00" cy="533.00" r="1.35" fill="#CC1B2E"/>
<circle cx="254.50" cy="535.00" r="1.35" fill="#CC1B2E"/>
<circle cx="244.25" cy="538.00" r="1.35" fill="#CC1B2E"/>
<circle cx="247.50" cy="541.75" r="1.35" fill="#CC1B2E"/>
<circle cx="274.50" cy="529.25" r="1.35" fill="#CC1B2E"/>
<circle cx="273.25" cy="533.25" r="1.35" fill="#CC1B2E"/>
<circle cx="279.25" cy="536.75" r="1.35" fill="#CC1B2E"/>
<circle cx="302.00" cy="494.25" r="1.35" fill="#CC1B2E"/>
<circle cx="334.25" cy="497.00" r="1.35" fill="#CC1B2E"/>
<circle cx="297.50" cy="510.00" r="1.35" fill="#CC1B2E"/>
<circle cx="315.00" cy="517.50" r="1.35" fill="#CC1B2E"/>
<circle cx="303.00" cy="522.50" r="1.35" fill="#CC1B2E"/>
<circle cx="331.25" cy="540.75" r="1.35" fill="#CC1B2E"/>
<circle cx="293.25" cy="543.00" r="1.35" fill="#CC1B2E"/>
<circle cx="287.00" cy="548.75" r="1.35" fill="#CC1B2E"/>
<circle cx="248.25" cy="552.00" r="1.35" fill="#CC1B2E"/>
<circle cx="252.00" cy="553.00" r="1.35" fill="#CC1B2E"/>
<circle cx="225.00" cy="544.50" r="1.35" fill="#CC1B2E"/>
<circle cx="227.00" cy="547.50" r="1.35" fill="#CC1B2E"/>
<circle cx="234.50" cy="548.75" r="1.35" fill="#CC1B2E"/>
<circle cx="233.75" cy="552.00" r="1.35" fill="#CC1B2E"/>
<circle cx="229.50" cy="550.00" r="1.35" fill="#CC1B2E"/>
<circle cx="225.75" cy="553.00" r="1.35" fill="#CC1B2E"/>
<circle cx="228.25" cy="554.25" r="1.35" fill="#CC1B2E"/>
<circle cx="225.00" cy="560.50" r="1.35" fill="#CC1B2E"/>
<line x1="224.80" y1="547.60" x2="335.80" y2="510.50" stroke="#222" stroke-width="1.0"/>
</svg>
<div id="frame"></div>
</div>
</body></html>
